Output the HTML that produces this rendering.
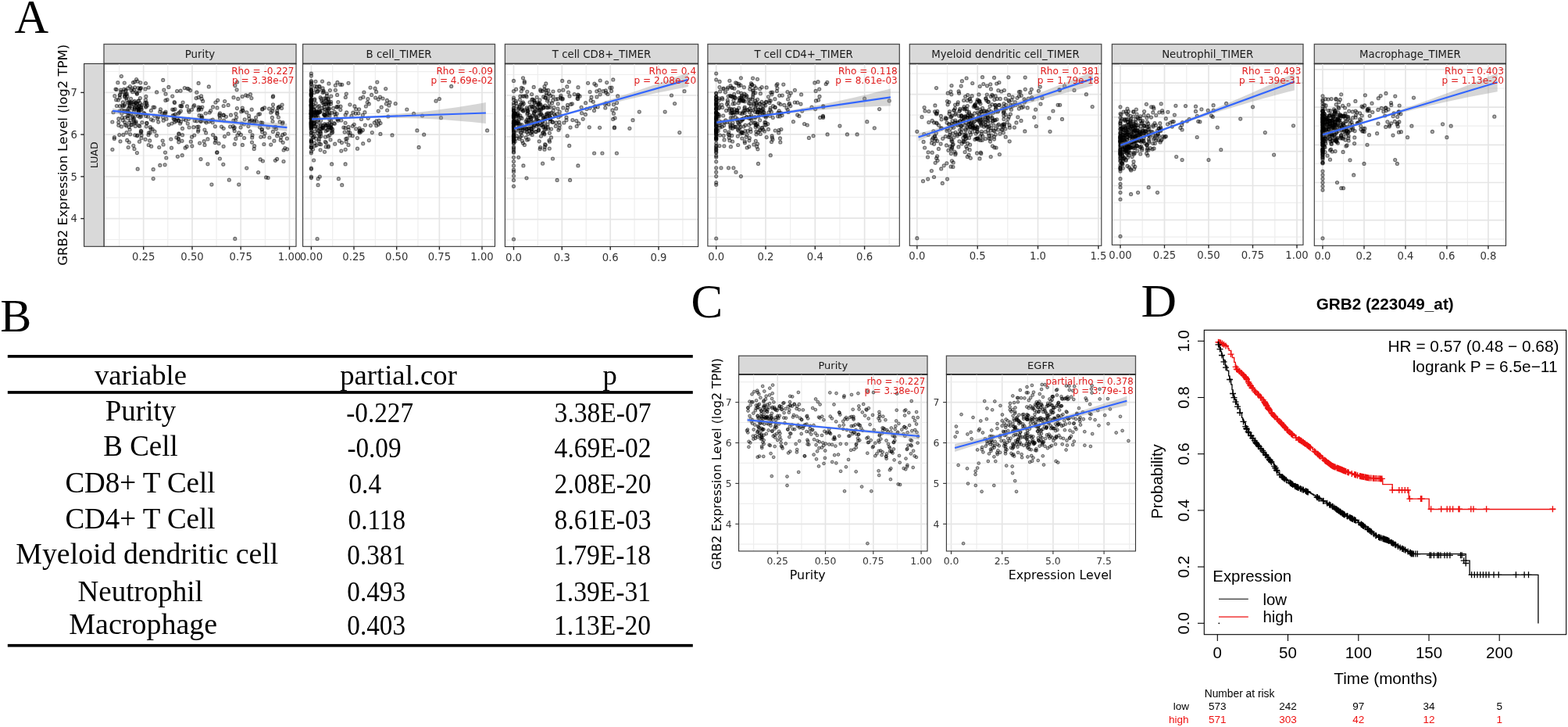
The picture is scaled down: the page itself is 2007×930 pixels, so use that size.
<!DOCTYPE html>
<html><head><meta charset="utf-8"><title>GRB2 figure</title><style>html,body{margin:0;padding:0;background:#fff;overflow:hidden}svg{display:block}</style></head><body>
<svg width="2007" height="930" viewBox="0 0 2007 930">
<rect width="2007" height="930" fill="#fff"/>
<g font-family="Liberation Serif, serif" fill="#000">
<text x="18.6" y="41.6" font-size="60.5">A</text>
<text x="0.3" y="424.4" font-size="60">B</text>
<text x="884.5" y="406.2" font-size="61">C</text>
<text transform="translate(1460.5,404.6) scale(1.06,1)" font-size="59.5">D</text>
</g>
<rect x="133" y="56.5" width="246" height="25.0" fill="#d9d9d9" stroke="#4d4d4d" stroke-width="1.3"/>
<text x="256" y="74" font-size="13.3" text-anchor="middle" fill="#1a1a1a" font-family="DejaVu Sans, sans-serif">Purity</text>
<line x1="133" y1="81.5" x2="379" y2="81.5" stroke="#1a1a1a" stroke-width="1.7"/>
<line x1="152.6" y1="81.5" x2="152.6" y2="315.3" stroke="#eeeeee" stroke-width="1.2"/>
<line x1="214.8" y1="81.5" x2="214.8" y2="315.3" stroke="#eeeeee" stroke-width="1.2"/>
<line x1="277.1" y1="81.5" x2="277.1" y2="315.3" stroke="#eeeeee" stroke-width="1.2"/>
<line x1="339.4" y1="81.5" x2="339.4" y2="315.3" stroke="#eeeeee" stroke-width="1.2"/>
<line x1="133" y1="306.5" x2="379" y2="306.5" stroke="#eeeeee" stroke-width="1.2"/>
<line x1="133" y1="279.6" x2="379" y2="279.6" stroke="#e5e5e5" stroke-width="1.7"/>
<line x1="133" y1="252.8" x2="379" y2="252.8" stroke="#eeeeee" stroke-width="1.2"/>
<line x1="133" y1="225.9" x2="379" y2="225.9" stroke="#e5e5e5" stroke-width="1.7"/>
<line x1="133" y1="199" x2="379" y2="199" stroke="#eeeeee" stroke-width="1.2"/>
<line x1="133" y1="172.1" x2="379" y2="172.1" stroke="#e5e5e5" stroke-width="1.7"/>
<line x1="133" y1="145.2" x2="379" y2="145.2" stroke="#eeeeee" stroke-width="1.2"/>
<line x1="133" y1="118.4" x2="379" y2="118.4" stroke="#e5e5e5" stroke-width="1.7"/>
<line x1="133" y1="91.5" x2="379" y2="91.5" stroke="#eeeeee" stroke-width="1.2"/>
<line x1="183.7" y1="81.5" x2="183.7" y2="315.3" stroke="#e5e5e5" stroke-width="1.7"/>
<line x1="246" y1="81.5" x2="246" y2="315.3" stroke="#e5e5e5" stroke-width="1.7"/>
<line x1="308.2" y1="81.5" x2="308.2" y2="315.3" stroke="#e5e5e5" stroke-width="1.7"/>
<line x1="370.5" y1="81.5" x2="370.5" y2="315.3" stroke="#e5e5e5" stroke-width="1.7"/>
<g fill="#000" fill-opacity=".32" stroke="#000" stroke-opacity=".5" stroke-width="1.1">
<circle cx="164.3" cy="131.2" r="2.05"/>
<circle cx="164.7" cy="148.1" r="2.05"/>
<circle cx="155.9" cy="145.3" r="2.05"/>
<circle cx="181.4" cy="134.4" r="2.05"/>
<circle cx="180.4" cy="137.9" r="2.05"/>
<circle cx="172.4" cy="138.6" r="2.05"/>
<circle cx="146.8" cy="122.7" r="2.05"/>
<circle cx="173.8" cy="132.3" r="2.05"/>
<circle cx="146.4" cy="175.7" r="2.05"/>
<circle cx="156.4" cy="150.5" r="2.05"/>
<circle cx="171.3" cy="143.2" r="2.05"/>
<circle cx="174" cy="155.6" r="2.05"/>
<circle cx="171.4" cy="134.2" r="2.05"/>
<circle cx="159.3" cy="106.1" r="2.05"/>
<circle cx="174.4" cy="118.1" r="2.05"/>
<circle cx="159.8" cy="156.4" r="2.05"/>
<circle cx="163.2" cy="143.7" r="2.05"/>
<circle cx="175.4" cy="137.5" r="2.05"/>
<circle cx="161.9" cy="161" r="2.05"/>
<circle cx="161" cy="116.4" r="2.05"/>
<circle cx="157.4" cy="136" r="2.05"/>
<circle cx="172.8" cy="172.8" r="2.05"/>
<circle cx="168.1" cy="115.3" r="2.05"/>
<circle cx="163.5" cy="143.7" r="2.05"/>
<circle cx="157.3" cy="130.9" r="2.05"/>
<circle cx="166.7" cy="171.8" r="2.05"/>
<circle cx="177.8" cy="129.1" r="2.05"/>
<circle cx="179.3" cy="113.5" r="2.05"/>
<circle cx="172" cy="139.9" r="2.05"/>
<circle cx="151.3" cy="128" r="2.05"/>
<circle cx="159.9" cy="150.5" r="2.05"/>
<circle cx="151.8" cy="160.3" r="2.05"/>
<circle cx="160.9" cy="115" r="2.05"/>
<circle cx="149.4" cy="135.5" r="2.05"/>
<circle cx="185.5" cy="131.7" r="2.05"/>
<circle cx="143.9" cy="191.3" r="2.05"/>
<circle cx="172" cy="157.3" r="2.05"/>
<circle cx="153.6" cy="120.8" r="2.05"/>
<circle cx="181.2" cy="139.9" r="2.05"/>
<circle cx="170.6" cy="133.3" r="2.05"/>
<circle cx="187.4" cy="131" r="2.05"/>
<circle cx="174" cy="131.3" r="2.05"/>
<circle cx="148" cy="114.1" r="2.05"/>
<circle cx="179.4" cy="132.1" r="2.05"/>
<circle cx="159.6" cy="124" r="2.05"/>
<circle cx="145" cy="143.7" r="2.05"/>
<circle cx="180.2" cy="169.8" r="2.05"/>
<circle cx="187.6" cy="132.4" r="2.05"/>
<circle cx="165.6" cy="135.1" r="2.05"/>
<circle cx="175.6" cy="140.2" r="2.05"/>
<circle cx="181.8" cy="156.7" r="2.05"/>
<circle cx="162.3" cy="120.2" r="2.05"/>
<circle cx="167.8" cy="159.9" r="2.05"/>
<circle cx="179.3" cy="113" r="2.05"/>
<circle cx="162" cy="169.6" r="2.05"/>
<circle cx="165.8" cy="144.8" r="2.05"/>
<circle cx="163.8" cy="112.9" r="2.05"/>
<circle cx="154.7" cy="115.1" r="2.05"/>
<circle cx="151.7" cy="156.6" r="2.05"/>
<circle cx="175.4" cy="119.5" r="2.05"/>
<circle cx="178.2" cy="135.8" r="2.05"/>
<circle cx="169.3" cy="139" r="2.05"/>
<circle cx="174.7" cy="146.1" r="2.05"/>
<circle cx="171" cy="130.5" r="2.05"/>
<circle cx="167.5" cy="126.3" r="2.05"/>
<circle cx="174.6" cy="101.5" r="2.05"/>
<circle cx="171.6" cy="151" r="2.05"/>
<circle cx="162.9" cy="141.8" r="2.05"/>
<circle cx="179" cy="149.8" r="2.05"/>
<circle cx="172.3" cy="104.8" r="2.05"/>
<circle cx="153.5" cy="135.7" r="2.05"/>
<circle cx="172.5" cy="137.5" r="2.05"/>
<circle cx="162.1" cy="128.1" r="2.05"/>
<circle cx="171" cy="152.9" r="2.05"/>
<circle cx="197.8" cy="137.3" r="2.05"/>
<circle cx="160.6" cy="143.4" r="2.05"/>
<circle cx="164.7" cy="143" r="2.05"/>
<circle cx="161.4" cy="120.8" r="2.05"/>
<circle cx="153" cy="142" r="2.05"/>
<circle cx="179.4" cy="125.5" r="2.05"/>
<circle cx="186.1" cy="178.3" r="2.05"/>
<circle cx="163.1" cy="148.5" r="2.05"/>
<circle cx="175.3" cy="120.3" r="2.05"/>
<circle cx="181.1" cy="172.7" r="2.05"/>
<circle cx="176" cy="173.1" r="2.05"/>
<circle cx="169.7" cy="117.7" r="2.05"/>
<circle cx="165.7" cy="137.9" r="2.05"/>
<circle cx="177.4" cy="139.9" r="2.05"/>
<circle cx="166.4" cy="110.5" r="2.05"/>
<circle cx="180.6" cy="149" r="2.05"/>
<circle cx="153.2" cy="122" r="2.05"/>
<circle cx="164.2" cy="138.9" r="2.05"/>
<circle cx="176.3" cy="138.1" r="2.05"/>
<circle cx="175.5" cy="173.8" r="2.05"/>
<circle cx="148.7" cy="127.7" r="2.05"/>
<circle cx="155.5" cy="161.9" r="2.05"/>
<circle cx="149.2" cy="114.5" r="2.05"/>
<circle cx="176.8" cy="112.6" r="2.05"/>
<circle cx="155.8" cy="140.9" r="2.05"/>
<circle cx="153.3" cy="125" r="2.05"/>
<circle cx="187.3" cy="161.8" r="2.05"/>
<circle cx="186.9" cy="123.4" r="2.05"/>
<circle cx="165.3" cy="182" r="2.05"/>
<circle cx="185" cy="145.4" r="2.05"/>
<circle cx="160" cy="133.1" r="2.05"/>
<circle cx="172.6" cy="111.8" r="2.05"/>
<circle cx="154.8" cy="117.6" r="2.05"/>
<circle cx="186" cy="113.9" r="2.05"/>
<circle cx="165.3" cy="156.9" r="2.05"/>
<circle cx="180.2" cy="140.7" r="2.05"/>
<circle cx="169.1" cy="113" r="2.05"/>
<circle cx="164.2" cy="188.5" r="2.05"/>
<circle cx="162.7" cy="179.4" r="2.05"/>
<circle cx="177.7" cy="136.3" r="2.05"/>
<circle cx="159.9" cy="141.5" r="2.05"/>
<circle cx="177.9" cy="141.2" r="2.05"/>
<circle cx="184" cy="144.6" r="2.05"/>
<circle cx="180.5" cy="112.6" r="2.05"/>
<circle cx="187.6" cy="157.4" r="2.05"/>
<circle cx="178.5" cy="181.2" r="2.05"/>
<circle cx="154" cy="180.8" r="2.05"/>
<circle cx="180.8" cy="168.2" r="2.05"/>
<circle cx="167.4" cy="145.8" r="2.05"/>
<circle cx="167.2" cy="154" r="2.05"/>
<circle cx="170.4" cy="105.6" r="2.05"/>
<circle cx="168.1" cy="131.1" r="2.05"/>
<circle cx="180" cy="147" r="2.05"/>
<circle cx="151.8" cy="151.9" r="2.05"/>
<circle cx="180.9" cy="176.7" r="2.05"/>
<circle cx="160.1" cy="120.7" r="2.05"/>
<circle cx="177.4" cy="142.6" r="2.05"/>
<circle cx="177.5" cy="139.4" r="2.05"/>
<circle cx="152.8" cy="172.6" r="2.05"/>
<circle cx="159.6" cy="122.4" r="2.05"/>
<circle cx="160.5" cy="159.7" r="2.05"/>
<circle cx="157.9" cy="172.4" r="2.05"/>
<circle cx="166.1" cy="165.9" r="2.05"/>
<circle cx="172" cy="190.5" r="2.05"/>
<circle cx="171.6" cy="155.4" r="2.05"/>
<circle cx="176.5" cy="148.3" r="2.05"/>
<circle cx="156.6" cy="135" r="2.05"/>
<circle cx="161.8" cy="125.5" r="2.05"/>
<circle cx="176.8" cy="129.1" r="2.05"/>
<circle cx="171.6" cy="115" r="2.05"/>
<circle cx="175.7" cy="133.4" r="2.05"/>
<circle cx="178.7" cy="116.1" r="2.05"/>
<circle cx="163.8" cy="151.2" r="2.05"/>
<circle cx="191.7" cy="179.9" r="2.05"/>
<circle cx="173.3" cy="161.4" r="2.05"/>
<circle cx="176.1" cy="104.1" r="2.05"/>
<circle cx="166" cy="130.3" r="2.05"/>
<circle cx="178.8" cy="161.4" r="2.05"/>
<circle cx="166.4" cy="135.8" r="2.05"/>
<circle cx="177.8" cy="143.5" r="2.05"/>
<circle cx="165.1" cy="162.5" r="2.05"/>
<circle cx="163" cy="123.3" r="2.05"/>
<circle cx="168.8" cy="159.4" r="2.05"/>
<circle cx="157" cy="117.7" r="2.05"/>
<circle cx="175.4" cy="195.6" r="2.05"/>
<circle cx="175.3" cy="132.8" r="2.05"/>
<circle cx="188.5" cy="135" r="2.05"/>
<circle cx="166.7" cy="131.2" r="2.05"/>
<circle cx="180.4" cy="136.4" r="2.05"/>
<circle cx="158.8" cy="114.1" r="2.05"/>
<circle cx="190" cy="172.5" r="2.05"/>
<circle cx="159.2" cy="135.3" r="2.05"/>
<circle cx="169.8" cy="150.3" r="2.05"/>
<circle cx="155.4" cy="97.6" r="2.05"/>
<circle cx="180.4" cy="167.4" r="2.05"/>
<circle cx="150.8" cy="105.7" r="2.05"/>
<circle cx="179.8" cy="105.8" r="2.05"/>
<circle cx="177.6" cy="160.6" r="2.05"/>
<circle cx="170.8" cy="186.3" r="2.05"/>
<circle cx="158.2" cy="142.3" r="2.05"/>
<circle cx="174" cy="157.3" r="2.05"/>
<circle cx="166" cy="132.4" r="2.05"/>
<circle cx="172.2" cy="129.3" r="2.05"/>
<circle cx="170.1" cy="148.8" r="2.05"/>
<circle cx="177.3" cy="141.8" r="2.05"/>
<circle cx="157.2" cy="153.8" r="2.05"/>
<circle cx="249.3" cy="154.4" r="2.05"/>
<circle cx="189.5" cy="149.2" r="2.05"/>
<circle cx="319.5" cy="156.2" r="2.05"/>
<circle cx="286.4" cy="147.4" r="2.05"/>
<circle cx="356.1" cy="138.1" r="2.05"/>
<circle cx="205.5" cy="139.8" r="2.05"/>
<circle cx="276.2" cy="180" r="2.05"/>
<circle cx="337.9" cy="184.5" r="2.05"/>
<circle cx="311.2" cy="141.8" r="2.05"/>
<circle cx="364.8" cy="189.5" r="2.05"/>
<circle cx="314.7" cy="121.8" r="2.05"/>
<circle cx="301.8" cy="177.4" r="2.05"/>
<circle cx="196.1" cy="137.2" r="2.05"/>
<circle cx="209.8" cy="115.1" r="2.05"/>
<circle cx="232.7" cy="135.8" r="2.05"/>
<circle cx="215.9" cy="111.4" r="2.05"/>
<circle cx="344.5" cy="139.1" r="2.05"/>
<circle cx="308.1" cy="163" r="2.05"/>
<circle cx="239.5" cy="135.9" r="2.05"/>
<circle cx="269.7" cy="141.7" r="2.05"/>
<circle cx="234.1" cy="131.1" r="2.05"/>
<circle cx="361.1" cy="134" r="2.05"/>
<circle cx="230.6" cy="158" r="2.05"/>
<circle cx="361.8" cy="172.4" r="2.05"/>
<circle cx="186.4" cy="127.8" r="2.05"/>
<circle cx="255.6" cy="183.1" r="2.05"/>
<circle cx="222.7" cy="147.5" r="2.05"/>
<circle cx="278" cy="137.9" r="2.05"/>
<circle cx="202.5" cy="149.7" r="2.05"/>
<circle cx="258.8" cy="150.2" r="2.05"/>
<circle cx="241.5" cy="152.3" r="2.05"/>
<circle cx="228.5" cy="178.1" r="2.05"/>
<circle cx="322.7" cy="175.9" r="2.05"/>
<circle cx="305.7" cy="169.8" r="2.05"/>
<circle cx="257" cy="203.6" r="2.05"/>
<circle cx="245.5" cy="140.3" r="2.05"/>
<circle cx="317.9" cy="161.6" r="2.05"/>
<circle cx="303.1" cy="114.8" r="2.05"/>
<circle cx="348.4" cy="150.4" r="2.05"/>
<circle cx="300.3" cy="163.2" r="2.05"/>
<circle cx="211.5" cy="195.1" r="2.05"/>
<circle cx="281.4" cy="203" r="2.05"/>
<circle cx="332.5" cy="162.8" r="2.05"/>
<circle cx="336.4" cy="206" r="2.05"/>
<circle cx="310.4" cy="185.4" r="2.05"/>
<circle cx="312.3" cy="159" r="2.05"/>
<circle cx="210.4" cy="145" r="2.05"/>
<circle cx="251.8" cy="118.2" r="2.05"/>
<circle cx="287.7" cy="129.5" r="2.05"/>
<circle cx="300.3" cy="184.4" r="2.05"/>
<circle cx="275.2" cy="182.6" r="2.05"/>
<circle cx="186.8" cy="137.1" r="2.05"/>
<circle cx="277.6" cy="195.2" r="2.05"/>
<circle cx="283.5" cy="162.1" r="2.05"/>
<circle cx="320.2" cy="168" r="2.05"/>
<circle cx="232" cy="135.9" r="2.05"/>
<circle cx="318.8" cy="151.8" r="2.05"/>
<circle cx="223.5" cy="156.3" r="2.05"/>
<circle cx="276" cy="177.1" r="2.05"/>
<circle cx="310.5" cy="141.1" r="2.05"/>
<circle cx="325.6" cy="186.7" r="2.05"/>
<circle cx="200.3" cy="173.4" r="2.05"/>
<circle cx="213" cy="152.2" r="2.05"/>
<circle cx="241.5" cy="113.8" r="2.05"/>
<circle cx="289.4" cy="149.3" r="2.05"/>
<circle cx="235.1" cy="152.5" r="2.05"/>
<circle cx="308.4" cy="172.4" r="2.05"/>
<circle cx="239.1" cy="187.4" r="2.05"/>
<circle cx="280.1" cy="183.5" r="2.05"/>
<circle cx="207.7" cy="144.8" r="2.05"/>
<circle cx="348.7" cy="142" r="2.05"/>
<circle cx="356.4" cy="137" r="2.05"/>
<circle cx="335.3" cy="158.8" r="2.05"/>
<circle cx="362.2" cy="182.3" r="2.05"/>
<circle cx="224.3" cy="146.2" r="2.05"/>
<circle cx="358.1" cy="155.9" r="2.05"/>
<circle cx="212" cy="120.2" r="2.05"/>
<circle cx="281.5" cy="144.8" r="2.05"/>
<circle cx="335.3" cy="165.6" r="2.05"/>
<circle cx="278.7" cy="128.3" r="2.05"/>
<circle cx="228.3" cy="177.1" r="2.05"/>
<circle cx="349.4" cy="168.4" r="2.05"/>
<circle cx="186.8" cy="148.5" r="2.05"/>
<circle cx="275.6" cy="176.2" r="2.05"/>
<circle cx="211.8" cy="144.9" r="2.05"/>
<circle cx="248.7" cy="173" r="2.05"/>
<circle cx="186.5" cy="106.5" r="2.05"/>
<circle cx="322.7" cy="154.2" r="2.05"/>
<circle cx="354.6" cy="173.8" r="2.05"/>
<circle cx="315.8" cy="143.8" r="2.05"/>
<circle cx="253.9" cy="166.3" r="2.05"/>
<circle cx="257.6" cy="122.8" r="2.05"/>
<circle cx="251.8" cy="154.8" r="2.05"/>
<circle cx="264" cy="156.8" r="2.05"/>
<circle cx="204.7" cy="143" r="2.05"/>
<circle cx="338" cy="174.6" r="2.05"/>
<circle cx="231.5" cy="155.7" r="2.05"/>
<circle cx="220.7" cy="123.1" r="2.05"/>
<circle cx="254.1" cy="106.4" r="2.05"/>
<circle cx="333.8" cy="175.3" r="2.05"/>
<circle cx="300.9" cy="109.6" r="2.05"/>
<circle cx="286.1" cy="187.3" r="2.05"/>
<circle cx="317" cy="122.8" r="2.05"/>
<circle cx="268.2" cy="144" r="2.05"/>
<circle cx="323" cy="172.9" r="2.05"/>
<circle cx="195.1" cy="165.3" r="2.05"/>
<circle cx="354.7" cy="144.4" r="2.05"/>
<circle cx="248.7" cy="134.7" r="2.05"/>
<circle cx="240.3" cy="158.1" r="2.05"/>
<circle cx="233.5" cy="164.4" r="2.05"/>
<circle cx="287.5" cy="174.6" r="2.05"/>
<circle cx="257.9" cy="148" r="2.05"/>
<circle cx="224" cy="139.7" r="2.05"/>
<circle cx="350.9" cy="180.2" r="2.05"/>
<circle cx="351" cy="162.8" r="2.05"/>
<circle cx="367.4" cy="177.2" r="2.05"/>
<circle cx="221.2" cy="147.8" r="2.05"/>
<circle cx="202.7" cy="156.1" r="2.05"/>
<circle cx="229.7" cy="143.8" r="2.05"/>
<circle cx="233.2" cy="198.7" r="2.05"/>
<circle cx="322.5" cy="182.1" r="2.05"/>
<circle cx="261.2" cy="180.7" r="2.05"/>
<circle cx="254.7" cy="139.6" r="2.05"/>
<circle cx="247.7" cy="136.2" r="2.05"/>
<circle cx="362.1" cy="156.7" r="2.05"/>
<circle cx="209.1" cy="185" r="2.05"/>
<circle cx="343.1" cy="163.2" r="2.05"/>
<circle cx="225.5" cy="154.7" r="2.05"/>
<circle cx="258.9" cy="137.1" r="2.05"/>
<circle cx="267.3" cy="110.9" r="2.05"/>
<circle cx="344.9" cy="176" r="2.05"/>
<circle cx="190.2" cy="112" r="2.05"/>
<circle cx="349" cy="155.3" r="2.05"/>
<circle cx="272.2" cy="156.7" r="2.05"/>
<circle cx="257.4" cy="155.3" r="2.05"/>
<circle cx="354.7" cy="141.7" r="2.05"/>
<circle cx="363" cy="206.5" r="2.05"/>
<circle cx="231.4" cy="142" r="2.05"/>
<circle cx="281.2" cy="148.2" r="2.05"/>
<circle cx="310.2" cy="123.5" r="2.05"/>
<circle cx="303.9" cy="173" r="2.05"/>
<circle cx="325.2" cy="190.4" r="2.05"/>
<circle cx="193.4" cy="141.4" r="2.05"/>
<circle cx="328.4" cy="155.2" r="2.05"/>
<circle cx="303.6" cy="105" r="2.05"/>
<circle cx="241.4" cy="140.9" r="2.05"/>
<circle cx="301.9" cy="145.6" r="2.05"/>
<circle cx="313.2" cy="152.8" r="2.05"/>
<circle cx="281.5" cy="151.2" r="2.05"/>
<circle cx="292.2" cy="171.2" r="2.05"/>
<circle cx="295.5" cy="147.2" r="2.05"/>
<circle cx="188.1" cy="157.6" r="2.05"/>
<circle cx="360.5" cy="138.5" r="2.05"/>
<circle cx="303.4" cy="138.6" r="2.05"/>
<circle cx="228.9" cy="170.9" r="2.05"/>
<circle cx="231.1" cy="116.2" r="2.05"/>
<circle cx="242.1" cy="163" r="2.05"/>
<circle cx="190.2" cy="185.5" r="2.05"/>
<circle cx="262.6" cy="155.1" r="2.05"/>
<circle cx="233" cy="180.3" r="2.05"/>
<circle cx="227.4" cy="200.3" r="2.05"/>
<circle cx="192.4" cy="162.7" r="2.05"/>
<circle cx="310.3" cy="138.1" r="2.05"/>
<circle cx="222.2" cy="140.5" r="2.05"/>
<circle cx="278" cy="194.8" r="2.05"/>
<circle cx="223.5" cy="131.6" r="2.05"/>
<circle cx="335.3" cy="165.7" r="2.05"/>
<circle cx="228.2" cy="145.2" r="2.05"/>
<circle cx="239.8" cy="113.3" r="2.05"/>
<circle cx="359.3" cy="179.4" r="2.05"/>
<circle cx="226.8" cy="152" r="2.05"/>
<circle cx="262" cy="185.4" r="2.05"/>
<circle cx="212.8" cy="202" r="2.05"/>
<circle cx="257.7" cy="140" r="2.05"/>
<circle cx="212" cy="143.1" r="2.05"/>
<circle cx="257.7" cy="152.4" r="2.05"/>
<circle cx="349.5" cy="133.8" r="2.05"/>
<circle cx="367.6" cy="190.8" r="2.05"/>
<circle cx="355.6" cy="170.9" r="2.05"/>
<circle cx="356.4" cy="150" r="2.05"/>
<circle cx="321.9" cy="125.6" r="2.05"/>
<circle cx="255" cy="147.7" r="2.05"/>
<circle cx="254.2" cy="162" r="2.05"/>
<circle cx="186.7" cy="136.1" r="2.05"/>
<circle cx="237.1" cy="189.2" r="2.05"/>
<circle cx="208.7" cy="102.4" r="2.05"/>
<circle cx="361.5" cy="158" r="2.05"/>
<circle cx="335.6" cy="139.9" r="2.05"/>
<circle cx="335.6" cy="168.8" r="2.05"/>
<circle cx="272.3" cy="153.2" r="2.05"/>
<circle cx="254" cy="140.9" r="2.05"/>
<circle cx="252.4" cy="162.3" r="2.05"/>
<circle cx="349.3" cy="138.6" r="2.05"/>
<circle cx="333.8" cy="156.9" r="2.05"/>
<circle cx="325.6" cy="154.7" r="2.05"/>
<circle cx="197.6" cy="148.3" r="2.05"/>
<circle cx="353.5" cy="165.1" r="2.05"/>
<circle cx="349.6" cy="122.9" r="2.05"/>
<circle cx="247.8" cy="162.7" r="2.05"/>
<circle cx="298.4" cy="161.5" r="2.05"/>
<circle cx="243.7" cy="115.6" r="2.05"/>
<circle cx="236.3" cy="112.6" r="2.05"/>
<circle cx="352.8" cy="162.3" r="2.05"/>
<circle cx="301.5" cy="153.8" r="2.05"/>
<circle cx="228.7" cy="154.4" r="2.05"/>
<circle cx="272.6" cy="172.5" r="2.05"/>
<circle cx="256.5" cy="155.1" r="2.05"/>
<circle cx="275.9" cy="131" r="2.05"/>
<circle cx="354.9" cy="145.7" r="2.05"/>
<circle cx="320.5" cy="120.7" r="2.05"/>
<circle cx="335.8" cy="157.1" r="2.05"/>
<circle cx="245.8" cy="186.8" r="2.05"/>
<circle cx="244.3" cy="181.2" r="2.05"/>
<circle cx="200.6" cy="117.9" r="2.05"/>
<circle cx="222.1" cy="151.7" r="2.05"/>
<circle cx="198" cy="168.2" r="2.05"/>
<circle cx="192.3" cy="169.8" r="2.05"/>
<circle cx="364.4" cy="171.3" r="2.05"/>
<circle cx="346.8" cy="143.9" r="2.05"/>
<circle cx="201.5" cy="151.7" r="2.05"/>
<circle cx="203.7" cy="188.5" r="2.05"/>
<circle cx="267.5" cy="155.6" r="2.05"/>
<circle cx="228.8" cy="181.8" r="2.05"/>
<circle cx="308.8" cy="142.7" r="2.05"/>
<circle cx="322.2" cy="140.2" r="2.05"/>
<circle cx="208.2" cy="180.1" r="2.05"/>
<circle cx="339.1" cy="170.6" r="2.05"/>
<circle cx="254" cy="124.6" r="2.05"/>
<circle cx="320.4" cy="154.8" r="2.05"/>
<circle cx="230.8" cy="135.4" r="2.05"/>
<circle cx="214.1" cy="127.6" r="2.05"/>
<circle cx="245.5" cy="175.2" r="2.05"/>
<circle cx="258.2" cy="126.4" r="2.05"/>
<circle cx="228.3" cy="153.9" r="2.05"/>
<circle cx="333.2" cy="203.9" r="2.05"/>
<circle cx="204.8" cy="211.4" r="2.05"/>
<circle cx="272.5" cy="136.9" r="2.05"/>
<circle cx="352.4" cy="205.3" r="2.05"/>
<circle cx="193.5" cy="152.8" r="2.05"/>
<circle cx="220.7" cy="140.1" r="2.05"/>
<circle cx="363.1" cy="192" r="2.05"/>
<circle cx="253.9" cy="137.1" r="2.05"/>
<circle cx="233.5" cy="172.7" r="2.05"/>
<circle cx="327.6" cy="150.3" r="2.05"/>
<circle cx="294.6" cy="162.1" r="2.05"/>
<circle cx="298.9" cy="154" r="2.05"/>
<circle cx="211.9" cy="128.4" r="2.05"/>
<circle cx="223.3" cy="153.1" r="2.05"/>
<circle cx="304.7" cy="126.4" r="2.05"/>
<circle cx="223.2" cy="130.6" r="2.05"/>
<circle cx="309.5" cy="158" r="2.05"/>
<circle cx="219.9" cy="158" r="2.05"/>
<circle cx="330.8" cy="146.3" r="2.05"/>
<circle cx="285.8" cy="147.2" r="2.05"/>
<circle cx="258.1" cy="150.8" r="2.05"/>
<circle cx="286.2" cy="164.3" r="2.05"/>
<circle cx="216" cy="159.6" r="2.05"/>
<circle cx="312.6" cy="176.5" r="2.05"/>
<circle cx="242.1" cy="143.1" r="2.05"/>
<circle cx="359.5" cy="175.8" r="2.05"/>
<circle cx="251.1" cy="125.6" r="2.05"/>
<circle cx="261.9" cy="166" r="2.05"/>
<circle cx="318.6" cy="148.2" r="2.05"/>
<circle cx="223.2" cy="150.2" r="2.05"/>
<circle cx="263.2" cy="145" r="2.05"/>
<circle cx="346.7" cy="185.1" r="2.05"/>
<circle cx="270" cy="154" r="2.05"/>
<circle cx="286.5" cy="154" r="2.05"/>
<circle cx="302.7" cy="150.1" r="2.05"/>
<circle cx="299.3" cy="164.3" r="2.05"/>
<circle cx="253.6" cy="168.3" r="2.05"/>
<circle cx="237.7" cy="153.7" r="2.05"/>
<circle cx="280.9" cy="146.7" r="2.05"/>
<circle cx="275.4" cy="161.8" r="2.05"/>
<circle cx="332.5" cy="145.8" r="2.05"/>
<circle cx="209.2" cy="154.2" r="2.05"/>
<circle cx="357.7" cy="136.3" r="2.05"/>
<circle cx="195.9" cy="154" r="2.05"/>
<circle cx="354.6" cy="203.4" r="2.05"/>
<circle cx="299" cy="124.7" r="2.05"/>
<circle cx="336.1" cy="139.2" r="2.05"/>
<circle cx="226.6" cy="116.5" r="2.05"/>
<circle cx="259.7" cy="129.4" r="2.05"/>
<circle cx="219.5" cy="189.2" r="2.05"/>
<circle cx="225.9" cy="175.9" r="2.05"/>
<circle cx="255.9" cy="137.7" r="2.05"/>
<circle cx="208.6" cy="150.1" r="2.05"/>
<circle cx="349.3" cy="124.1" r="2.05"/>
<circle cx="193.7" cy="187.2" r="2.05"/>
<circle cx="193.1" cy="165" r="2.05"/>
<circle cx="338.6" cy="137.9" r="2.05"/>
<circle cx="286.2" cy="135.5" r="2.05"/>
<circle cx="300.2" cy="167.5" r="2.05"/>
<circle cx="292.1" cy="134.4" r="2.05"/>
<circle cx="263.6" cy="169.9" r="2.05"/>
<circle cx="265.9" cy="177.9" r="2.05"/>
<circle cx="190.4" cy="169.9" r="2.05"/>
<circle cx="229" cy="171.7" r="2.05"/>
<circle cx="325" cy="155.9" r="2.05"/>
<circle cx="218.8" cy="178" r="2.05"/>
<circle cx="176.2" cy="216.2" r="2.05"/>
<circle cx="196.2" cy="216.7" r="2.05"/>
<circle cx="196.2" cy="228.6" r="2.05"/>
<circle cx="211.1" cy="210.8" r="2.05"/>
<circle cx="270.9" cy="236.1" r="2.05"/>
<circle cx="305.7" cy="236.1" r="2.05"/>
<circle cx="293.3" cy="230.2" r="2.05"/>
<circle cx="330.6" cy="220.5" r="2.05"/>
<circle cx="340.6" cy="226.9" r="2.05"/>
<circle cx="343.1" cy="227.5" r="2.05"/>
<circle cx="300.8" cy="305.4" r="2.05"/>
<circle cx="265.9" cy="209.8" r="2.05"/>
<circle cx="285.8" cy="210.3" r="2.05"/>
<circle cx="315.7" cy="215.1" r="2.05"/>
<circle cx="146.3" cy="177.5" r="2.05"/>
<circle cx="143.8" cy="156" r="2.05"/>
</g>
<path d="M144.2 138.4 L153.5 139.9 L162.8 141.2 L172.1 142.5 L181.4 143.6 L190.7 144.7 L200 145.6 L209.3 146.5 L218.6 147.3 L227.9 148.2 L237.2 149 L246.5 149.8 L255.8 150.5 L265.1 151.3 L274.4 152 L283.7 152.7 L293 153.4 L302.3 154.1 L311.6 154.7 L320.9 155.3 L330.2 155.9 L339.5 156.5 L348.8 157.1 L358.1 157.6 L367.4 158.1 L367.4 168.1 L358.1 166.8 L348.8 165.6 L339.5 164.4 L330.2 163.2 L320.9 162 L311.6 160.9 L302.3 159.8 L293 158.7 L283.7 157.6 L274.4 156.5 L265.1 155.5 L255.8 154.5 L246.5 153.5 L237.2 152.5 L227.9 151.5 L218.6 150.6 L209.3 149.7 L200 148.8 L190.7 147.9 L181.4 147.2 L172.1 146.6 L162.8 146.1 L153.5 145.7 L144.2 145.4Z" fill="#999" fill-opacity=".4"/>
<line x1="144.2" y1="141.9" x2="367.4" y2="163.1" stroke="#3366ff" stroke-width="2.2"/>
<rect x="133" y="81.5" width="246" height="233.8" fill="none" stroke="#333" stroke-width="1.1"/>
<text x="376.5" y="94.9" font-size="12.1" text-anchor="end" fill="#e01c1c" font-family="DejaVu Sans, sans-serif">Rho = -0.227</text>
<text x="376.5" y="106.7" font-size="12.1" text-anchor="end" fill="#e01c1c" font-family="DejaVu Sans, sans-serif">p = 3.38e-07</text>
<line x1="183.7" y1="315.3" x2="183.7" y2="319.5" stroke="#222" stroke-width="1.4"/>
<text x="183.7" y="333.3" font-size="13.2" text-anchor="middle" fill="#333" font-family="DejaVu Sans, sans-serif">0.25</text>
<line x1="246" y1="315.3" x2="246" y2="319.5" stroke="#222" stroke-width="1.4"/>
<text x="246" y="333.3" font-size="13.2" text-anchor="middle" fill="#333" font-family="DejaVu Sans, sans-serif">0.50</text>
<line x1="308.2" y1="315.3" x2="308.2" y2="319.5" stroke="#222" stroke-width="1.4"/>
<text x="308.2" y="333.3" font-size="13.2" text-anchor="middle" fill="#333" font-family="DejaVu Sans, sans-serif">0.75</text>
<line x1="370.5" y1="315.3" x2="370.5" y2="319.5" stroke="#222" stroke-width="1.4"/>
<text x="370.5" y="333.3" font-size="13.2" text-anchor="middle" fill="#333" font-family="DejaVu Sans, sans-serif">1.00</text>
<rect x="387.6" y="56.5" width="245.9" height="25.0" fill="#d9d9d9" stroke="#4d4d4d" stroke-width="1.3"/>
<text x="510.6" y="74" font-size="13.3" text-anchor="middle" fill="#1a1a1a" font-family="DejaVu Sans, sans-serif">B cell_TIMER</text>
<line x1="387.6" y1="81.5" x2="633.5" y2="81.5" stroke="#1a1a1a" stroke-width="1.7"/>
<line x1="425.7" y1="81.5" x2="425.7" y2="315.3" stroke="#eeeeee" stroke-width="1.2"/>
<line x1="480.4" y1="81.5" x2="480.4" y2="315.3" stroke="#eeeeee" stroke-width="1.2"/>
<line x1="535" y1="81.5" x2="535" y2="315.3" stroke="#eeeeee" stroke-width="1.2"/>
<line x1="589.7" y1="81.5" x2="589.7" y2="315.3" stroke="#eeeeee" stroke-width="1.2"/>
<line x1="387.6" y1="306.6" x2="633.5" y2="306.6" stroke="#eeeeee" stroke-width="1.2"/>
<line x1="387.6" y1="279.7" x2="633.5" y2="279.7" stroke="#e5e5e5" stroke-width="1.7"/>
<line x1="387.6" y1="252.9" x2="633.5" y2="252.9" stroke="#eeeeee" stroke-width="1.2"/>
<line x1="387.6" y1="226" x2="633.5" y2="226" stroke="#e5e5e5" stroke-width="1.7"/>
<line x1="387.6" y1="199.1" x2="633.5" y2="199.1" stroke="#eeeeee" stroke-width="1.2"/>
<line x1="387.6" y1="172.2" x2="633.5" y2="172.2" stroke="#e5e5e5" stroke-width="1.7"/>
<line x1="387.6" y1="145.4" x2="633.5" y2="145.4" stroke="#eeeeee" stroke-width="1.2"/>
<line x1="387.6" y1="118.5" x2="633.5" y2="118.5" stroke="#e5e5e5" stroke-width="1.7"/>
<line x1="387.6" y1="91.6" x2="633.5" y2="91.6" stroke="#eeeeee" stroke-width="1.2"/>
<line x1="398.4" y1="81.5" x2="398.4" y2="315.3" stroke="#e5e5e5" stroke-width="1.7"/>
<line x1="453" y1="81.5" x2="453" y2="315.3" stroke="#e5e5e5" stroke-width="1.7"/>
<line x1="507.7" y1="81.5" x2="507.7" y2="315.3" stroke="#e5e5e5" stroke-width="1.7"/>
<line x1="562.4" y1="81.5" x2="562.4" y2="315.3" stroke="#e5e5e5" stroke-width="1.7"/>
<line x1="617" y1="81.5" x2="617" y2="315.3" stroke="#e5e5e5" stroke-width="1.7"/>
<g fill="#000" fill-opacity=".32" stroke="#000" stroke-opacity=".5" stroke-width="1.1">
<circle cx="398.4" cy="154.4" r="2.05"/>
<circle cx="398.4" cy="143.8" r="2.05"/>
<circle cx="398.4" cy="131.1" r="2.05"/>
<circle cx="398.4" cy="130.5" r="2.05"/>
<circle cx="398.4" cy="127.8" r="2.05"/>
<circle cx="398.4" cy="134" r="2.05"/>
<circle cx="398.4" cy="150.9" r="2.05"/>
<circle cx="398.4" cy="145.7" r="2.05"/>
<circle cx="398.4" cy="150.6" r="2.05"/>
<circle cx="398.4" cy="151.4" r="2.05"/>
<circle cx="398.4" cy="148.8" r="2.05"/>
<circle cx="398.4" cy="178.7" r="2.05"/>
<circle cx="398.4" cy="151.8" r="2.05"/>
<circle cx="398.4" cy="145.8" r="2.05"/>
<circle cx="398.4" cy="164.2" r="2.05"/>
<circle cx="398.4" cy="145.8" r="2.05"/>
<circle cx="398.4" cy="135.4" r="2.05"/>
<circle cx="398.4" cy="148.5" r="2.05"/>
<circle cx="398.4" cy="105.2" r="2.05"/>
<circle cx="398.4" cy="195.8" r="2.05"/>
<circle cx="398.4" cy="149.3" r="2.05"/>
<circle cx="398.4" cy="180.7" r="2.05"/>
<circle cx="398.4" cy="126.4" r="2.05"/>
<circle cx="398.4" cy="94" r="2.05"/>
<circle cx="398.4" cy="193.8" r="2.05"/>
<circle cx="398.4" cy="142.9" r="2.05"/>
<circle cx="398.4" cy="135.3" r="2.05"/>
<circle cx="398.4" cy="151.2" r="2.05"/>
<circle cx="398.4" cy="134.7" r="2.05"/>
<circle cx="398.4" cy="188.8" r="2.05"/>
<circle cx="398.4" cy="128.9" r="2.05"/>
<circle cx="398.4" cy="138.2" r="2.05"/>
<circle cx="398.4" cy="144.9" r="2.05"/>
<circle cx="398.4" cy="156.7" r="2.05"/>
<circle cx="398.4" cy="133" r="2.05"/>
<circle cx="398.4" cy="154.7" r="2.05"/>
<circle cx="398.4" cy="141" r="2.05"/>
<circle cx="398.4" cy="155.2" r="2.05"/>
<circle cx="398.4" cy="188.8" r="2.05"/>
<circle cx="398.4" cy="146" r="2.05"/>
<circle cx="398.4" cy="141.4" r="2.05"/>
<circle cx="398.4" cy="130.8" r="2.05"/>
<circle cx="398.4" cy="162.3" r="2.05"/>
<circle cx="398.4" cy="146" r="2.05"/>
<circle cx="398.4" cy="133.4" r="2.05"/>
<circle cx="398.4" cy="142.5" r="2.05"/>
<circle cx="398.4" cy="121.3" r="2.05"/>
<circle cx="398.4" cy="106.8" r="2.05"/>
<circle cx="398.4" cy="162.9" r="2.05"/>
<circle cx="398.4" cy="182.5" r="2.05"/>
<circle cx="398.4" cy="128.8" r="2.05"/>
<circle cx="398.4" cy="115.8" r="2.05"/>
<circle cx="398.4" cy="127.5" r="2.05"/>
<circle cx="398.4" cy="129.6" r="2.05"/>
<circle cx="398.4" cy="157.3" r="2.05"/>
<circle cx="398.4" cy="159.2" r="2.05"/>
<circle cx="398.4" cy="128.2" r="2.05"/>
<circle cx="398.4" cy="163" r="2.05"/>
<circle cx="398.4" cy="180.4" r="2.05"/>
<circle cx="398.4" cy="164.7" r="2.05"/>
<circle cx="398.4" cy="97.1" r="2.05"/>
<circle cx="398.4" cy="108.1" r="2.05"/>
<circle cx="398.4" cy="158.6" r="2.05"/>
<circle cx="398.4" cy="159.5" r="2.05"/>
<circle cx="398.4" cy="140.9" r="2.05"/>
<circle cx="398.4" cy="159.9" r="2.05"/>
<circle cx="398.4" cy="120" r="2.05"/>
<circle cx="398.4" cy="146.9" r="2.05"/>
<circle cx="398.4" cy="166.4" r="2.05"/>
<circle cx="398.4" cy="120" r="2.05"/>
<circle cx="398.4" cy="156.6" r="2.05"/>
<circle cx="398.4" cy="141.1" r="2.05"/>
<circle cx="398.4" cy="145.6" r="2.05"/>
<circle cx="398.4" cy="151.4" r="2.05"/>
<circle cx="398.4" cy="139.1" r="2.05"/>
<circle cx="398.4" cy="158.7" r="2.05"/>
<circle cx="398.4" cy="181" r="2.05"/>
<circle cx="398.4" cy="188.1" r="2.05"/>
<circle cx="398.4" cy="169.9" r="2.05"/>
<circle cx="398.4" cy="160" r="2.05"/>
<circle cx="398.4" cy="145.8" r="2.05"/>
<circle cx="398.4" cy="144.3" r="2.05"/>
<circle cx="398.4" cy="134.6" r="2.05"/>
<circle cx="398.4" cy="143" r="2.05"/>
<circle cx="398.4" cy="160.7" r="2.05"/>
<circle cx="398.4" cy="159.1" r="2.05"/>
<circle cx="398.4" cy="186.3" r="2.05"/>
<circle cx="398.4" cy="148.6" r="2.05"/>
<circle cx="398.4" cy="136" r="2.05"/>
<circle cx="398.4" cy="135.1" r="2.05"/>
<circle cx="398.4" cy="147.7" r="2.05"/>
<circle cx="398.4" cy="148.7" r="2.05"/>
<circle cx="398.4" cy="127.2" r="2.05"/>
<circle cx="398.4" cy="145.1" r="2.05"/>
<circle cx="398.4" cy="131.1" r="2.05"/>
<circle cx="398.4" cy="134.1" r="2.05"/>
<circle cx="398.4" cy="141.2" r="2.05"/>
<circle cx="398.4" cy="120.1" r="2.05"/>
<circle cx="398.4" cy="156.4" r="2.05"/>
<circle cx="398.4" cy="152.3" r="2.05"/>
<circle cx="398.4" cy="161" r="2.05"/>
<circle cx="398.4" cy="160.8" r="2.05"/>
<circle cx="398.4" cy="115.2" r="2.05"/>
<circle cx="398.4" cy="111.3" r="2.05"/>
<circle cx="398.4" cy="144.9" r="2.05"/>
<circle cx="398.4" cy="134.4" r="2.05"/>
<circle cx="398.4" cy="122.6" r="2.05"/>
<circle cx="398.4" cy="129.7" r="2.05"/>
<circle cx="398.4" cy="122" r="2.05"/>
<circle cx="398.4" cy="169.8" r="2.05"/>
<circle cx="398.4" cy="157.7" r="2.05"/>
<circle cx="398.4" cy="136.6" r="2.05"/>
<circle cx="398.4" cy="117.6" r="2.05"/>
<circle cx="398.4" cy="143.3" r="2.05"/>
<circle cx="398.4" cy="162" r="2.05"/>
<circle cx="398.4" cy="152.2" r="2.05"/>
<circle cx="398.4" cy="158.1" r="2.05"/>
<circle cx="398.4" cy="162" r="2.05"/>
<circle cx="398.4" cy="116.3" r="2.05"/>
<circle cx="398.4" cy="157.5" r="2.05"/>
<circle cx="398.4" cy="145" r="2.05"/>
<circle cx="398.4" cy="103.5" r="2.05"/>
<circle cx="398.4" cy="122.4" r="2.05"/>
<circle cx="398.4" cy="138.8" r="2.05"/>
<circle cx="398.4" cy="157.2" r="2.05"/>
<circle cx="398.4" cy="137.4" r="2.05"/>
<circle cx="398.4" cy="114" r="2.05"/>
<circle cx="398.4" cy="133.3" r="2.05"/>
<circle cx="398.4" cy="120.9" r="2.05"/>
<circle cx="398.4" cy="143.5" r="2.05"/>
<circle cx="398.4" cy="135.4" r="2.05"/>
<circle cx="398.4" cy="149.2" r="2.05"/>
<circle cx="398.4" cy="137.1" r="2.05"/>
<circle cx="398.4" cy="120.2" r="2.05"/>
<circle cx="398.4" cy="173" r="2.05"/>
<circle cx="398.4" cy="146.6" r="2.05"/>
<circle cx="398.4" cy="140.7" r="2.05"/>
<circle cx="398.4" cy="156.4" r="2.05"/>
<circle cx="398.4" cy="151.3" r="2.05"/>
<circle cx="398.4" cy="130.1" r="2.05"/>
<circle cx="430.8" cy="136.5" r="2.05"/>
<circle cx="405.1" cy="185.7" r="2.05"/>
<circle cx="429.6" cy="149" r="2.05"/>
<circle cx="400.7" cy="176" r="2.05"/>
<circle cx="401" cy="175.5" r="2.05"/>
<circle cx="401.2" cy="140.2" r="2.05"/>
<circle cx="400.6" cy="144.4" r="2.05"/>
<circle cx="413.2" cy="118.4" r="2.05"/>
<circle cx="410.1" cy="191.8" r="2.05"/>
<circle cx="403" cy="168" r="2.05"/>
<circle cx="415.6" cy="158.7" r="2.05"/>
<circle cx="404.6" cy="177.4" r="2.05"/>
<circle cx="402.3" cy="118.5" r="2.05"/>
<circle cx="410.6" cy="154.2" r="2.05"/>
<circle cx="402.1" cy="153.4" r="2.05"/>
<circle cx="400.9" cy="134.2" r="2.05"/>
<circle cx="401.6" cy="205" r="2.05"/>
<circle cx="400.5" cy="170.8" r="2.05"/>
<circle cx="410.1" cy="164.5" r="2.05"/>
<circle cx="402.4" cy="174.4" r="2.05"/>
<circle cx="417.4" cy="182.6" r="2.05"/>
<circle cx="436.8" cy="193.1" r="2.05"/>
<circle cx="405.7" cy="165.1" r="2.05"/>
<circle cx="428.7" cy="184.2" r="2.05"/>
<circle cx="409.6" cy="168.2" r="2.05"/>
<circle cx="405.8" cy="143.3" r="2.05"/>
<circle cx="420.9" cy="106.9" r="2.05"/>
<circle cx="415.9" cy="147.5" r="2.05"/>
<circle cx="403" cy="110" r="2.05"/>
<circle cx="422" cy="157.7" r="2.05"/>
<circle cx="407.2" cy="144.2" r="2.05"/>
<circle cx="401" cy="162" r="2.05"/>
<circle cx="420.4" cy="162.8" r="2.05"/>
<circle cx="423.8" cy="123.1" r="2.05"/>
<circle cx="408.4" cy="177.9" r="2.05"/>
<circle cx="421.5" cy="130.6" r="2.05"/>
<circle cx="429.4" cy="109.2" r="2.05"/>
<circle cx="412.5" cy="104.1" r="2.05"/>
<circle cx="419" cy="138.7" r="2.05"/>
<circle cx="406.6" cy="146.2" r="2.05"/>
<circle cx="402.8" cy="126.9" r="2.05"/>
<circle cx="423" cy="178.8" r="2.05"/>
<circle cx="421.5" cy="163.3" r="2.05"/>
<circle cx="409.4" cy="142.4" r="2.05"/>
<circle cx="404.2" cy="150" r="2.05"/>
<circle cx="410.5" cy="160.7" r="2.05"/>
<circle cx="414.7" cy="133.5" r="2.05"/>
<circle cx="401.7" cy="158" r="2.05"/>
<circle cx="423.9" cy="164.1" r="2.05"/>
<circle cx="410.1" cy="124.7" r="2.05"/>
<circle cx="404.2" cy="132.1" r="2.05"/>
<circle cx="417.2" cy="127.9" r="2.05"/>
<circle cx="403.2" cy="186.5" r="2.05"/>
<circle cx="410.4" cy="170.9" r="2.05"/>
<circle cx="419.8" cy="166.1" r="2.05"/>
<circle cx="402.7" cy="144.3" r="2.05"/>
<circle cx="405.2" cy="144.9" r="2.05"/>
<circle cx="408.6" cy="135.6" r="2.05"/>
<circle cx="400.2" cy="146" r="2.05"/>
<circle cx="442.3" cy="124.5" r="2.05"/>
<circle cx="400.6" cy="191" r="2.05"/>
<circle cx="401.6" cy="140.2" r="2.05"/>
<circle cx="416.5" cy="175.2" r="2.05"/>
<circle cx="423.8" cy="154.3" r="2.05"/>
<circle cx="436.8" cy="154" r="2.05"/>
<circle cx="410.5" cy="159" r="2.05"/>
<circle cx="417.2" cy="126" r="2.05"/>
<circle cx="414" cy="116" r="2.05"/>
<circle cx="413.3" cy="163.7" r="2.05"/>
<circle cx="425.6" cy="165.4" r="2.05"/>
<circle cx="410.5" cy="169.1" r="2.05"/>
<circle cx="409.1" cy="143.3" r="2.05"/>
<circle cx="404.3" cy="146.8" r="2.05"/>
<circle cx="402.4" cy="145.9" r="2.05"/>
<circle cx="411.7" cy="129.1" r="2.05"/>
<circle cx="410.6" cy="184.7" r="2.05"/>
<circle cx="422" cy="148.1" r="2.05"/>
<circle cx="417.1" cy="187.8" r="2.05"/>
<circle cx="405.2" cy="150.1" r="2.05"/>
<circle cx="422.2" cy="162.4" r="2.05"/>
<circle cx="411.2" cy="126.4" r="2.05"/>
<circle cx="424.5" cy="170.2" r="2.05"/>
<circle cx="421.6" cy="139" r="2.05"/>
<circle cx="414.5" cy="146.4" r="2.05"/>
<circle cx="420.1" cy="133.1" r="2.05"/>
<circle cx="412.3" cy="138.2" r="2.05"/>
<circle cx="407.6" cy="143.9" r="2.05"/>
<circle cx="412.2" cy="163.3" r="2.05"/>
<circle cx="428.4" cy="143.3" r="2.05"/>
<circle cx="407.5" cy="150.4" r="2.05"/>
<circle cx="413.8" cy="164" r="2.05"/>
<circle cx="401.4" cy="157.6" r="2.05"/>
<circle cx="408.9" cy="114.7" r="2.05"/>
<circle cx="404" cy="104.3" r="2.05"/>
<circle cx="423.5" cy="132.9" r="2.05"/>
<circle cx="409.1" cy="110.7" r="2.05"/>
<circle cx="402.9" cy="153.3" r="2.05"/>
<circle cx="416.4" cy="140.1" r="2.05"/>
<circle cx="420.7" cy="138.7" r="2.05"/>
<circle cx="406.6" cy="155.3" r="2.05"/>
<circle cx="402.7" cy="182.9" r="2.05"/>
<circle cx="416.2" cy="160" r="2.05"/>
<circle cx="417.1" cy="167.7" r="2.05"/>
<circle cx="412.8" cy="131.4" r="2.05"/>
<circle cx="416.3" cy="181.4" r="2.05"/>
<circle cx="414.3" cy="130.7" r="2.05"/>
<circle cx="409" cy="184.3" r="2.05"/>
<circle cx="411.6" cy="165" r="2.05"/>
<circle cx="405.4" cy="158.8" r="2.05"/>
<circle cx="431.2" cy="145.5" r="2.05"/>
<circle cx="423.6" cy="130.3" r="2.05"/>
<circle cx="418.6" cy="166.4" r="2.05"/>
<circle cx="413.2" cy="163" r="2.05"/>
<circle cx="420" cy="131.5" r="2.05"/>
<circle cx="409.4" cy="143.5" r="2.05"/>
<circle cx="423.8" cy="162.5" r="2.05"/>
<circle cx="408.6" cy="172.8" r="2.05"/>
<circle cx="407.9" cy="167.5" r="2.05"/>
<circle cx="411" cy="174.3" r="2.05"/>
<circle cx="431.6" cy="137.3" r="2.05"/>
<circle cx="420.5" cy="146.8" r="2.05"/>
<circle cx="415.1" cy="146.8" r="2.05"/>
<circle cx="418.8" cy="144" r="2.05"/>
<circle cx="414.3" cy="117.4" r="2.05"/>
<circle cx="417.4" cy="160.7" r="2.05"/>
<circle cx="416.3" cy="133.2" r="2.05"/>
<circle cx="423.7" cy="159.9" r="2.05"/>
<circle cx="421.9" cy="153.2" r="2.05"/>
<circle cx="409" cy="174.8" r="2.05"/>
<circle cx="431.6" cy="121.4" r="2.05"/>
<circle cx="405.9" cy="117.5" r="2.05"/>
<circle cx="420.4" cy="126.8" r="2.05"/>
<circle cx="431.9" cy="105.4" r="2.05"/>
<circle cx="403.4" cy="144.6" r="2.05"/>
<circle cx="402.5" cy="128.2" r="2.05"/>
<circle cx="416" cy="148.8" r="2.05"/>
<circle cx="420.9" cy="134" r="2.05"/>
<circle cx="407.3" cy="136.5" r="2.05"/>
<circle cx="404.2" cy="114.1" r="2.05"/>
<circle cx="417.6" cy="160.9" r="2.05"/>
<circle cx="405.5" cy="110.9" r="2.05"/>
<circle cx="408.4" cy="140.9" r="2.05"/>
<circle cx="418.4" cy="122.4" r="2.05"/>
<circle cx="408.1" cy="180.5" r="2.05"/>
<circle cx="419.4" cy="145.1" r="2.05"/>
<circle cx="406.1" cy="170.2" r="2.05"/>
<circle cx="417.6" cy="133.3" r="2.05"/>
<circle cx="425.7" cy="169.2" r="2.05"/>
<circle cx="402.7" cy="161.9" r="2.05"/>
<circle cx="402.5" cy="140.1" r="2.05"/>
<circle cx="436" cy="136.2" r="2.05"/>
<circle cx="428.4" cy="158.3" r="2.05"/>
<circle cx="424.1" cy="159.1" r="2.05"/>
<circle cx="413.1" cy="112.9" r="2.05"/>
<circle cx="401.8" cy="151" r="2.05"/>
<circle cx="432.7" cy="154.2" r="2.05"/>
<circle cx="447.9" cy="173.2" r="2.05"/>
<circle cx="427.6" cy="157.6" r="2.05"/>
<circle cx="435.5" cy="108.2" r="2.05"/>
<circle cx="437.8" cy="108.3" r="2.05"/>
<circle cx="429.4" cy="115.3" r="2.05"/>
<circle cx="443.3" cy="120.1" r="2.05"/>
<circle cx="464.3" cy="147.3" r="2.05"/>
<circle cx="406.2" cy="143.8" r="2.05"/>
<circle cx="419.1" cy="160.6" r="2.05"/>
<circle cx="420.1" cy="139.9" r="2.05"/>
<circle cx="408.3" cy="110.5" r="2.05"/>
<circle cx="414.9" cy="137.1" r="2.05"/>
<circle cx="464.4" cy="166.4" r="2.05"/>
<circle cx="446" cy="106.3" r="2.05"/>
<circle cx="459.8" cy="168.6" r="2.05"/>
<circle cx="446" cy="185.4" r="2.05"/>
<circle cx="420.4" cy="186.9" r="2.05"/>
<circle cx="422.4" cy="115.6" r="2.05"/>
<circle cx="471.2" cy="151.3" r="2.05"/>
<circle cx="484.4" cy="127.1" r="2.05"/>
<circle cx="432.8" cy="152.1" r="2.05"/>
<circle cx="403" cy="136.1" r="2.05"/>
<circle cx="415.7" cy="146.9" r="2.05"/>
<circle cx="424.5" cy="144.3" r="2.05"/>
<circle cx="451.9" cy="144" r="2.05"/>
<circle cx="485.1" cy="154.3" r="2.05"/>
<circle cx="484.3" cy="142.1" r="2.05"/>
<circle cx="455.7" cy="139.7" r="2.05"/>
<circle cx="443.1" cy="181.3" r="2.05"/>
<circle cx="432.8" cy="130.5" r="2.05"/>
<circle cx="417.4" cy="149.2" r="2.05"/>
<circle cx="441.1" cy="169.1" r="2.05"/>
<circle cx="459.6" cy="139.8" r="2.05"/>
<circle cx="442.2" cy="191.3" r="2.05"/>
<circle cx="460.5" cy="169.7" r="2.05"/>
<circle cx="403.9" cy="143.2" r="2.05"/>
<circle cx="407.5" cy="153.6" r="2.05"/>
<circle cx="460.6" cy="167.6" r="2.05"/>
<circle cx="474.4" cy="160.6" r="2.05"/>
<circle cx="437.5" cy="182.5" r="2.05"/>
<circle cx="412.6" cy="141.7" r="2.05"/>
<circle cx="445.9" cy="169.8" r="2.05"/>
<circle cx="426.6" cy="138.4" r="2.05"/>
<circle cx="432.8" cy="136.1" r="2.05"/>
<circle cx="439.8" cy="163.1" r="2.05"/>
<circle cx="401.4" cy="150.2" r="2.05"/>
<circle cx="444.3" cy="177.2" r="2.05"/>
<circle cx="419.2" cy="130.6" r="2.05"/>
<circle cx="418.3" cy="119.8" r="2.05"/>
<circle cx="451.3" cy="173.7" r="2.05"/>
<circle cx="468.4" cy="136" r="2.05"/>
<circle cx="441.9" cy="163.7" r="2.05"/>
<circle cx="435.8" cy="140.6" r="2.05"/>
<circle cx="428.9" cy="146" r="2.05"/>
<circle cx="453.3" cy="159.3" r="2.05"/>
<circle cx="442.7" cy="177.6" r="2.05"/>
<circle cx="451.3" cy="161.3" r="2.05"/>
<circle cx="446.2" cy="165.9" r="2.05"/>
<circle cx="420" cy="174.3" r="2.05"/>
<circle cx="413.3" cy="160.8" r="2.05"/>
<circle cx="424.7" cy="167.4" r="2.05"/>
<circle cx="402.2" cy="157.8" r="2.05"/>
<circle cx="405.6" cy="142.3" r="2.05"/>
<circle cx="415.5" cy="194.3" r="2.05"/>
<circle cx="424" cy="163.9" r="2.05"/>
<circle cx="434.4" cy="180.2" r="2.05"/>
<circle cx="431.8" cy="152.7" r="2.05"/>
<circle cx="415.3" cy="125.9" r="2.05"/>
<circle cx="419.9" cy="126.2" r="2.05"/>
<circle cx="464.7" cy="183.7" r="2.05"/>
<circle cx="453.9" cy="135.9" r="2.05"/>
<circle cx="421.9" cy="144.2" r="2.05"/>
<circle cx="421.8" cy="173" r="2.05"/>
<circle cx="442.1" cy="157.3" r="2.05"/>
<circle cx="443.7" cy="143.9" r="2.05"/>
<circle cx="486.9" cy="171.4" r="2.05"/>
<circle cx="449.9" cy="148.4" r="2.05"/>
<circle cx="417.9" cy="141.9" r="2.05"/>
<circle cx="419.2" cy="158.7" r="2.05"/>
<circle cx="405.1" cy="144.6" r="2.05"/>
<circle cx="466.9" cy="143.7" r="2.05"/>
<circle cx="482.8" cy="105.1" r="2.05"/>
<circle cx="475.6" cy="121.4" r="2.05"/>
<circle cx="406.3" cy="144.7" r="2.05"/>
<circle cx="406.8" cy="163.3" r="2.05"/>
<circle cx="403.5" cy="161.6" r="2.05"/>
<circle cx="472.3" cy="132.9" r="2.05"/>
<circle cx="420.1" cy="188.2" r="2.05"/>
<circle cx="402.9" cy="156.8" r="2.05"/>
<circle cx="448.1" cy="170" r="2.05"/>
<circle cx="499" cy="130.9" r="2.05"/>
<circle cx="403.5" cy="148.5" r="2.05"/>
<circle cx="407.1" cy="116.6" r="2.05"/>
<circle cx="406.4" cy="144" r="2.05"/>
<circle cx="462.5" cy="152.5" r="2.05"/>
<circle cx="490" cy="126" r="2.05"/>
<circle cx="474" cy="112.1" r="2.05"/>
<circle cx="446" cy="162.4" r="2.05"/>
<circle cx="470.9" cy="126.6" r="2.05"/>
<circle cx="486.5" cy="124.1" r="2.05"/>
<circle cx="465.9" cy="118" r="2.05"/>
<circle cx="484.4" cy="159.2" r="2.05"/>
<circle cx="467.4" cy="160" r="2.05"/>
<circle cx="493.7" cy="113.5" r="2.05"/>
<circle cx="479.3" cy="156.9" r="2.05"/>
<circle cx="461.3" cy="125.9" r="2.05"/>
<circle cx="488.2" cy="137.2" r="2.05"/>
<circle cx="481.8" cy="160.7" r="2.05"/>
<circle cx="506.2" cy="132.5" r="2.05"/>
<circle cx="462.4" cy="168.2" r="2.05"/>
<circle cx="470.2" cy="131" r="2.05"/>
<circle cx="487" cy="157.5" r="2.05"/>
<circle cx="481.6" cy="117.4" r="2.05"/>
<circle cx="460.7" cy="166.7" r="2.05"/>
<circle cx="442.2" cy="147" r="2.05"/>
<circle cx="480.6" cy="125.1" r="2.05"/>
<circle cx="495.6" cy="141" r="2.05"/>
<circle cx="496.8" cy="149" r="2.05"/>
<circle cx="495.4" cy="128.4" r="2.05"/>
<circle cx="460.1" cy="164" r="2.05"/>
<circle cx="497.9" cy="135" r="2.05"/>
<circle cx="502" cy="172.9" r="2.05"/>
<circle cx="464.9" cy="124.2" r="2.05"/>
<circle cx="494.4" cy="132.8" r="2.05"/>
<circle cx="455.3" cy="145.3" r="2.05"/>
<circle cx="457.5" cy="190.2" r="2.05"/>
<circle cx="481.9" cy="154.9" r="2.05"/>
<circle cx="455.7" cy="164.8" r="2.05"/>
<circle cx="458.8" cy="145.1" r="2.05"/>
<circle cx="472.3" cy="179.6" r="2.05"/>
<circle cx="447.9" cy="133.8" r="2.05"/>
<circle cx="457.4" cy="176.6" r="2.05"/>
<circle cx="480.1" cy="113.2" r="2.05"/>
<circle cx="476.3" cy="169.6" r="2.05"/>
<circle cx="533.9" cy="166.9" r="2.05"/>
<circle cx="542.7" cy="172.2" r="2.05"/>
<circle cx="520.8" cy="140" r="2.05"/>
<circle cx="529.6" cy="145.4" r="2.05"/>
<circle cx="558" cy="129.2" r="2.05"/>
<circle cx="562.4" cy="126.5" r="2.05"/>
<circle cx="577.7" cy="110.4" r="2.05"/>
<circle cx="564.5" cy="150.7" r="2.05"/>
<circle cx="540.5" cy="148" r="2.05"/>
<circle cx="623.6" cy="166.9" r="2.05"/>
<circle cx="536.1" cy="188.4" r="2.05"/>
<circle cx="406.1" cy="305.5" r="2.05"/>
<circle cx="407.1" cy="236.7" r="2.05"/>
<circle cx="407.1" cy="228.7" r="2.05"/>
<circle cx="437.7" cy="236.7" r="2.05"/>
<circle cx="433.4" cy="228.7" r="2.05"/>
<circle cx="398.4" cy="226" r="2.05"/>
<circle cx="398.4" cy="215.2" r="2.05"/>
<circle cx="409.3" cy="226" r="2.05"/>
<circle cx="424.6" cy="209.9" r="2.05"/>
<circle cx="442.1" cy="209.9" r="2.05"/>
<circle cx="398.4" cy="227.6" r="2.05"/>
<circle cx="398.4" cy="216.3" r="2.05"/>
</g>
<path d="M399.2 149.8 L408.5 149.9 L417.8 149.9 L427 149.9 L436.3 149.7 L445.6 149.5 L454.9 149.2 L464.2 148.9 L473.4 148.4 L482.7 147.9 L492 147.3 L501.3 146.6 L510.5 145.9 L519.8 145.1 L529.1 144.2 L538.4 143.2 L547.7 142.2 L556.9 141 L566.2 139.8 L575.5 138.5 L584.8 137.2 L594.1 135.8 L603.3 134.2 L612.6 132.7 L621.9 131 L621.9 158 L612.6 157 L603.3 156.1 L594.1 155.2 L584.8 154.4 L575.5 153.7 L566.2 153.1 L556.9 152.5 L547.7 152 L538.4 151.6 L529.1 151.3 L519.8 151.1 L510.5 150.9 L501.3 150.8 L492 150.8 L482.7 150.8 L473.4 151 L464.2 151.2 L454.9 151.5 L445.6 151.8 L436.3 152.3 L427 152.8 L417.8 153.4 L408.5 154.1 L399.2 154.8Z" fill="#999" fill-opacity=".4"/>
<line x1="399.2" y1="152.3" x2="621.9" y2="144.5" stroke="#3366ff" stroke-width="2.2"/>
<rect x="387.6" y="81.5" width="245.9" height="233.8" fill="none" stroke="#333" stroke-width="1.1"/>
<text x="631" y="94.9" font-size="12.1" text-anchor="end" fill="#e01c1c" font-family="DejaVu Sans, sans-serif">Rho = -0.09</text>
<text x="631" y="106.7" font-size="12.1" text-anchor="end" fill="#e01c1c" font-family="DejaVu Sans, sans-serif">p = 4.69e-02</text>
<line x1="398.4" y1="315.3" x2="398.4" y2="319.5" stroke="#222" stroke-width="1.4"/>
<text x="398.4" y="333.3" font-size="13.2" text-anchor="middle" fill="#333" font-family="DejaVu Sans, sans-serif">0.00</text>
<line x1="453" y1="315.3" x2="453" y2="319.5" stroke="#222" stroke-width="1.4"/>
<text x="453" y="333.3" font-size="13.2" text-anchor="middle" fill="#333" font-family="DejaVu Sans, sans-serif">0.25</text>
<line x1="507.7" y1="315.3" x2="507.7" y2="319.5" stroke="#222" stroke-width="1.4"/>
<text x="507.7" y="333.3" font-size="13.2" text-anchor="middle" fill="#333" font-family="DejaVu Sans, sans-serif">0.50</text>
<line x1="562.4" y1="315.3" x2="562.4" y2="319.5" stroke="#222" stroke-width="1.4"/>
<text x="562.4" y="333.3" font-size="13.2" text-anchor="middle" fill="#333" font-family="DejaVu Sans, sans-serif">0.75</text>
<line x1="617" y1="315.3" x2="617" y2="319.5" stroke="#222" stroke-width="1.4"/>
<text x="617" y="333.3" font-size="13.2" text-anchor="middle" fill="#333" font-family="DejaVu Sans, sans-serif">1.00</text>
<rect x="646.4" y="56.5" width="247.2" height="25.0" fill="#d9d9d9" stroke="#4d4d4d" stroke-width="1.3"/>
<text x="770" y="74" font-size="13.3" text-anchor="middle" fill="#1a1a1a" font-family="DejaVu Sans, sans-serif">T cell CD8+_TIMER</text>
<line x1="646.4" y1="81.5" x2="893.6" y2="81.5" stroke="#1a1a1a" stroke-width="1.7"/>
<line x1="688.4" y1="81.5" x2="688.4" y2="315.5" stroke="#eeeeee" stroke-width="1.2"/>
<line x1="750.2" y1="81.5" x2="750.2" y2="315.5" stroke="#eeeeee" stroke-width="1.2"/>
<line x1="812.1" y1="81.5" x2="812.1" y2="315.5" stroke="#eeeeee" stroke-width="1.2"/>
<line x1="873.9" y1="81.5" x2="873.9" y2="315.5" stroke="#eeeeee" stroke-width="1.2"/>
<line x1="646.4" y1="307.1" x2="893.6" y2="307.1" stroke="#eeeeee" stroke-width="1.2"/>
<line x1="646.4" y1="280.7" x2="893.6" y2="280.7" stroke="#e5e5e5" stroke-width="1.7"/>
<line x1="646.4" y1="254.2" x2="893.6" y2="254.2" stroke="#eeeeee" stroke-width="1.2"/>
<line x1="646.4" y1="227.8" x2="893.6" y2="227.8" stroke="#e5e5e5" stroke-width="1.7"/>
<line x1="646.4" y1="201.3" x2="893.6" y2="201.3" stroke="#eeeeee" stroke-width="1.2"/>
<line x1="646.4" y1="174.9" x2="893.6" y2="174.9" stroke="#e5e5e5" stroke-width="1.7"/>
<line x1="646.4" y1="148.4" x2="893.6" y2="148.4" stroke="#eeeeee" stroke-width="1.2"/>
<line x1="646.4" y1="122" x2="893.6" y2="122" stroke="#e5e5e5" stroke-width="1.7"/>
<line x1="646.4" y1="95.5" x2="893.6" y2="95.5" stroke="#eeeeee" stroke-width="1.2"/>
<line x1="657.5" y1="81.5" x2="657.5" y2="315.5" stroke="#e5e5e5" stroke-width="1.7"/>
<line x1="719.3" y1="81.5" x2="719.3" y2="315.5" stroke="#e5e5e5" stroke-width="1.7"/>
<line x1="781.2" y1="81.5" x2="781.2" y2="315.5" stroke="#e5e5e5" stroke-width="1.7"/>
<line x1="843" y1="81.5" x2="843" y2="315.5" stroke="#e5e5e5" stroke-width="1.7"/>
<g fill="#000" fill-opacity=".32" stroke="#000" stroke-opacity=".5" stroke-width="1.1">
<circle cx="657.5" cy="189.6" r="2.05"/>
<circle cx="657.5" cy="157.5" r="2.05"/>
<circle cx="657.5" cy="156.5" r="2.05"/>
<circle cx="657.5" cy="148.8" r="2.05"/>
<circle cx="657.5" cy="147.8" r="2.05"/>
<circle cx="657.5" cy="131.8" r="2.05"/>
<circle cx="657.5" cy="179.4" r="2.05"/>
<circle cx="657.5" cy="140.9" r="2.05"/>
<circle cx="657.5" cy="182.5" r="2.05"/>
<circle cx="657.5" cy="146.9" r="2.05"/>
<circle cx="657.5" cy="157.8" r="2.05"/>
<circle cx="657.5" cy="156.5" r="2.05"/>
<circle cx="657.5" cy="141.1" r="2.05"/>
<circle cx="657.5" cy="162" r="2.05"/>
<circle cx="657.5" cy="138.1" r="2.05"/>
<circle cx="657.5" cy="143.1" r="2.05"/>
<circle cx="657.5" cy="158.8" r="2.05"/>
<circle cx="657.5" cy="173.6" r="2.05"/>
<circle cx="657.5" cy="177.6" r="2.05"/>
<circle cx="657.5" cy="172.8" r="2.05"/>
<circle cx="657.5" cy="165.9" r="2.05"/>
<circle cx="657.5" cy="162.2" r="2.05"/>
<circle cx="657.5" cy="148.1" r="2.05"/>
<circle cx="657.5" cy="145.3" r="2.05"/>
<circle cx="657.5" cy="179.8" r="2.05"/>
<circle cx="657.5" cy="176.7" r="2.05"/>
<circle cx="657.5" cy="168.4" r="2.05"/>
<circle cx="657.5" cy="157.6" r="2.05"/>
<circle cx="657.5" cy="183.5" r="2.05"/>
<circle cx="657.5" cy="127.5" r="2.05"/>
<circle cx="657.5" cy="173.5" r="2.05"/>
<circle cx="657.5" cy="138.8" r="2.05"/>
<circle cx="657.5" cy="161.8" r="2.05"/>
<circle cx="657.5" cy="155.7" r="2.05"/>
<circle cx="657.5" cy="157.6" r="2.05"/>
<circle cx="657.5" cy="148.9" r="2.05"/>
<circle cx="657.5" cy="155.7" r="2.05"/>
<circle cx="657.5" cy="158.2" r="2.05"/>
<circle cx="657.5" cy="176.7" r="2.05"/>
<circle cx="657.5" cy="148.3" r="2.05"/>
<circle cx="657.5" cy="155.1" r="2.05"/>
<circle cx="657.5" cy="165.8" r="2.05"/>
<circle cx="657.5" cy="179" r="2.05"/>
<circle cx="657.5" cy="173.9" r="2.05"/>
<circle cx="657.5" cy="125" r="2.05"/>
<circle cx="657.5" cy="162.9" r="2.05"/>
<circle cx="657.5" cy="134.4" r="2.05"/>
<circle cx="657.5" cy="195.2" r="2.05"/>
<circle cx="657.5" cy="171.8" r="2.05"/>
<circle cx="657.5" cy="180.1" r="2.05"/>
<circle cx="657.5" cy="173.5" r="2.05"/>
<circle cx="657.5" cy="157.6" r="2.05"/>
<circle cx="657.5" cy="175.6" r="2.05"/>
<circle cx="657.5" cy="160.6" r="2.05"/>
<circle cx="657.5" cy="155.8" r="2.05"/>
<circle cx="657.5" cy="162.4" r="2.05"/>
<circle cx="657.5" cy="141.9" r="2.05"/>
<circle cx="657.5" cy="187.9" r="2.05"/>
<circle cx="657.5" cy="158.2" r="2.05"/>
<circle cx="657.5" cy="167.2" r="2.05"/>
<circle cx="657.5" cy="154.1" r="2.05"/>
<circle cx="657.5" cy="194" r="2.05"/>
<circle cx="657.5" cy="150.5" r="2.05"/>
<circle cx="657.5" cy="157.6" r="2.05"/>
<circle cx="657.5" cy="160.1" r="2.05"/>
<circle cx="657.5" cy="169.5" r="2.05"/>
<circle cx="657.5" cy="177.6" r="2.05"/>
<circle cx="657.5" cy="191.5" r="2.05"/>
<circle cx="657.5" cy="181" r="2.05"/>
<circle cx="657.5" cy="146.9" r="2.05"/>
<circle cx="657.5" cy="150.1" r="2.05"/>
<circle cx="657.5" cy="162.1" r="2.05"/>
<circle cx="657.5" cy="150.7" r="2.05"/>
<circle cx="657.5" cy="174.4" r="2.05"/>
<circle cx="657.5" cy="160.1" r="2.05"/>
<circle cx="657.5" cy="160.8" r="2.05"/>
<circle cx="657.5" cy="149.9" r="2.05"/>
<circle cx="657.5" cy="163.1" r="2.05"/>
<circle cx="657.5" cy="164.7" r="2.05"/>
<circle cx="657.5" cy="164.5" r="2.05"/>
<circle cx="657.5" cy="201.3" r="2.05"/>
<circle cx="657.5" cy="206.6" r="2.05"/>
<circle cx="657.5" cy="211.9" r="2.05"/>
<circle cx="657.5" cy="217.2" r="2.05"/>
<circle cx="657.5" cy="219.8" r="2.05"/>
<circle cx="657.5" cy="225.1" r="2.05"/>
<circle cx="657.5" cy="230.4" r="2.05"/>
<circle cx="657.5" cy="238.3" r="2.05"/>
<circle cx="657.5" cy="116.7" r="2.05"/>
<circle cx="657.5" cy="103.4" r="2.05"/>
<circle cx="671.3" cy="105.9" r="2.05"/>
<circle cx="692.8" cy="139.1" r="2.05"/>
<circle cx="725.8" cy="110.9" r="2.05"/>
<circle cx="662.7" cy="140.4" r="2.05"/>
<circle cx="698.8" cy="106.9" r="2.05"/>
<circle cx="707.7" cy="128.4" r="2.05"/>
<circle cx="661.4" cy="173.9" r="2.05"/>
<circle cx="688.3" cy="138.5" r="2.05"/>
<circle cx="664.3" cy="162.9" r="2.05"/>
<circle cx="675.8" cy="150.8" r="2.05"/>
<circle cx="689.5" cy="155" r="2.05"/>
<circle cx="660.3" cy="129.4" r="2.05"/>
<circle cx="712.9" cy="145.8" r="2.05"/>
<circle cx="702.3" cy="136.6" r="2.05"/>
<circle cx="695.5" cy="137.4" r="2.05"/>
<circle cx="669.1" cy="141.5" r="2.05"/>
<circle cx="702" cy="165" r="2.05"/>
<circle cx="719.7" cy="103.4" r="2.05"/>
<circle cx="720.2" cy="126.1" r="2.05"/>
<circle cx="677" cy="164.5" r="2.05"/>
<circle cx="668.2" cy="151.4" r="2.05"/>
<circle cx="682.7" cy="136.3" r="2.05"/>
<circle cx="671.3" cy="104.2" r="2.05"/>
<circle cx="725.5" cy="141.2" r="2.05"/>
<circle cx="695.8" cy="137.4" r="2.05"/>
<circle cx="688.3" cy="153.6" r="2.05"/>
<circle cx="681" cy="168.4" r="2.05"/>
<circle cx="686.6" cy="150.1" r="2.05"/>
<circle cx="689.2" cy="167.1" r="2.05"/>
<circle cx="684" cy="149.2" r="2.05"/>
<circle cx="694.5" cy="170.3" r="2.05"/>
<circle cx="691" cy="127.8" r="2.05"/>
<circle cx="694.3" cy="155.6" r="2.05"/>
<circle cx="674.2" cy="157.5" r="2.05"/>
<circle cx="696.8" cy="114.4" r="2.05"/>
<circle cx="680.3" cy="164.7" r="2.05"/>
<circle cx="690.2" cy="144.4" r="2.05"/>
<circle cx="666.4" cy="169.9" r="2.05"/>
<circle cx="681.4" cy="136.6" r="2.05"/>
<circle cx="661.1" cy="177" r="2.05"/>
<circle cx="692.5" cy="174.2" r="2.05"/>
<circle cx="685.3" cy="142.5" r="2.05"/>
<circle cx="681.2" cy="172.4" r="2.05"/>
<circle cx="682.2" cy="157.7" r="2.05"/>
<circle cx="689.5" cy="166.7" r="2.05"/>
<circle cx="703.5" cy="181.2" r="2.05"/>
<circle cx="680" cy="151" r="2.05"/>
<circle cx="701.1" cy="159.1" r="2.05"/>
<circle cx="693.4" cy="160" r="2.05"/>
<circle cx="697" cy="110.5" r="2.05"/>
<circle cx="675.8" cy="142.7" r="2.05"/>
<circle cx="666.1" cy="133.8" r="2.05"/>
<circle cx="705.7" cy="144.4" r="2.05"/>
<circle cx="662.2" cy="146.7" r="2.05"/>
<circle cx="704.6" cy="122.4" r="2.05"/>
<circle cx="698.3" cy="185.6" r="2.05"/>
<circle cx="670.7" cy="123.2" r="2.05"/>
<circle cx="660.5" cy="131.7" r="2.05"/>
<circle cx="718.2" cy="126.2" r="2.05"/>
<circle cx="704" cy="152.6" r="2.05"/>
<circle cx="660.5" cy="157.8" r="2.05"/>
<circle cx="679.6" cy="152.2" r="2.05"/>
<circle cx="696.2" cy="150.5" r="2.05"/>
<circle cx="686.8" cy="140.6" r="2.05"/>
<circle cx="683.2" cy="111.4" r="2.05"/>
<circle cx="691.5" cy="146.7" r="2.05"/>
<circle cx="679.4" cy="164.5" r="2.05"/>
<circle cx="708.2" cy="141.4" r="2.05"/>
<circle cx="663.3" cy="166.9" r="2.05"/>
<circle cx="680.7" cy="160.4" r="2.05"/>
<circle cx="703.4" cy="170.3" r="2.05"/>
<circle cx="692.4" cy="145.2" r="2.05"/>
<circle cx="661.4" cy="154.4" r="2.05"/>
<circle cx="681.5" cy="140.2" r="2.05"/>
<circle cx="674.9" cy="145.9" r="2.05"/>
<circle cx="664.7" cy="177.6" r="2.05"/>
<circle cx="697.8" cy="125" r="2.05"/>
<circle cx="683" cy="163.1" r="2.05"/>
<circle cx="703.3" cy="190" r="2.05"/>
<circle cx="668.4" cy="139.6" r="2.05"/>
<circle cx="695.4" cy="169.4" r="2.05"/>
<circle cx="668.8" cy="123" r="2.05"/>
<circle cx="686.1" cy="168.7" r="2.05"/>
<circle cx="684.3" cy="131.1" r="2.05"/>
<circle cx="681.9" cy="127.2" r="2.05"/>
<circle cx="697" cy="191.2" r="2.05"/>
<circle cx="697.6" cy="184.7" r="2.05"/>
<circle cx="704.4" cy="137.1" r="2.05"/>
<circle cx="725" cy="153.7" r="2.05"/>
<circle cx="683.4" cy="128.2" r="2.05"/>
<circle cx="671.4" cy="168" r="2.05"/>
<circle cx="676.4" cy="153.5" r="2.05"/>
<circle cx="663.2" cy="144.8" r="2.05"/>
<circle cx="693.3" cy="146.5" r="2.05"/>
<circle cx="714.8" cy="150" r="2.05"/>
<circle cx="707.5" cy="156.4" r="2.05"/>
<circle cx="697.3" cy="188.1" r="2.05"/>
<circle cx="686.9" cy="153.2" r="2.05"/>
<circle cx="674.1" cy="165.4" r="2.05"/>
<circle cx="676.8" cy="167.1" r="2.05"/>
<circle cx="674.5" cy="165" r="2.05"/>
<circle cx="673.1" cy="163.8" r="2.05"/>
<circle cx="663.6" cy="157.8" r="2.05"/>
<circle cx="697.8" cy="152.3" r="2.05"/>
<circle cx="674.1" cy="123.8" r="2.05"/>
<circle cx="701.4" cy="126.7" r="2.05"/>
<circle cx="704.7" cy="152.4" r="2.05"/>
<circle cx="680.9" cy="127.4" r="2.05"/>
<circle cx="673" cy="155.3" r="2.05"/>
<circle cx="690.3" cy="140.9" r="2.05"/>
<circle cx="678.1" cy="130.8" r="2.05"/>
<circle cx="680" cy="135.8" r="2.05"/>
<circle cx="703.1" cy="131.8" r="2.05"/>
<circle cx="696.9" cy="171.8" r="2.05"/>
<circle cx="658.9" cy="169.1" r="2.05"/>
<circle cx="692.1" cy="116.6" r="2.05"/>
<circle cx="660.6" cy="149.1" r="2.05"/>
<circle cx="667.4" cy="169.5" r="2.05"/>
<circle cx="678.1" cy="136.9" r="2.05"/>
<circle cx="687.2" cy="124.5" r="2.05"/>
<circle cx="665" cy="135.8" r="2.05"/>
<circle cx="700.5" cy="144.9" r="2.05"/>
<circle cx="692.1" cy="160.3" r="2.05"/>
<circle cx="663" cy="163.6" r="2.05"/>
<circle cx="671.3" cy="163.4" r="2.05"/>
<circle cx="713.9" cy="139" r="2.05"/>
<circle cx="689.1" cy="133.3" r="2.05"/>
<circle cx="668.8" cy="134.3" r="2.05"/>
<circle cx="690.2" cy="180.8" r="2.05"/>
<circle cx="694.4" cy="136.1" r="2.05"/>
<circle cx="691.7" cy="114.9" r="2.05"/>
<circle cx="675.6" cy="141.3" r="2.05"/>
<circle cx="697.1" cy="166.2" r="2.05"/>
<circle cx="705.5" cy="175.9" r="2.05"/>
<circle cx="659.1" cy="144.9" r="2.05"/>
<circle cx="663.1" cy="157.5" r="2.05"/>
<circle cx="664.3" cy="153.3" r="2.05"/>
<circle cx="662.2" cy="148" r="2.05"/>
<circle cx="662.2" cy="145.8" r="2.05"/>
<circle cx="678.3" cy="150.2" r="2.05"/>
<circle cx="682" cy="147.9" r="2.05"/>
<circle cx="658.8" cy="155.3" r="2.05"/>
<circle cx="665.9" cy="164" r="2.05"/>
<circle cx="691.2" cy="190.6" r="2.05"/>
<circle cx="669.1" cy="166.6" r="2.05"/>
<circle cx="663.7" cy="148" r="2.05"/>
<circle cx="680.7" cy="168.4" r="2.05"/>
<circle cx="665" cy="137.5" r="2.05"/>
<circle cx="671" cy="140.8" r="2.05"/>
<circle cx="691.6" cy="188.5" r="2.05"/>
<circle cx="663.2" cy="155" r="2.05"/>
<circle cx="689.6" cy="132.4" r="2.05"/>
<circle cx="698.1" cy="125.1" r="2.05"/>
<circle cx="676.3" cy="156.4" r="2.05"/>
<circle cx="697.7" cy="156.1" r="2.05"/>
<circle cx="702.9" cy="179.5" r="2.05"/>
<circle cx="695.4" cy="151.2" r="2.05"/>
<circle cx="670.3" cy="132.7" r="2.05"/>
<circle cx="689" cy="148.6" r="2.05"/>
<circle cx="663.3" cy="164.8" r="2.05"/>
<circle cx="711.3" cy="161.4" r="2.05"/>
<circle cx="698.2" cy="165.1" r="2.05"/>
<circle cx="661" cy="158.3" r="2.05"/>
<circle cx="676" cy="171.4" r="2.05"/>
<circle cx="667.6" cy="131.8" r="2.05"/>
<circle cx="660.6" cy="114.2" r="2.05"/>
<circle cx="673.2" cy="175.8" r="2.05"/>
<circle cx="697.9" cy="135.1" r="2.05"/>
<circle cx="663.9" cy="139" r="2.05"/>
<circle cx="667.9" cy="173.5" r="2.05"/>
<circle cx="704.2" cy="151" r="2.05"/>
<circle cx="659.1" cy="145.1" r="2.05"/>
<circle cx="700.3" cy="146.9" r="2.05"/>
<circle cx="667.3" cy="161.4" r="2.05"/>
<circle cx="691" cy="132.3" r="2.05"/>
<circle cx="717.6" cy="147.8" r="2.05"/>
<circle cx="674.3" cy="153.3" r="2.05"/>
<circle cx="705.6" cy="165.1" r="2.05"/>
<circle cx="707.5" cy="203" r="2.05"/>
<circle cx="698.1" cy="161.3" r="2.05"/>
<circle cx="691.8" cy="133.8" r="2.05"/>
<circle cx="661.3" cy="157.3" r="2.05"/>
<circle cx="687.7" cy="136.9" r="2.05"/>
<circle cx="666" cy="175.4" r="2.05"/>
<circle cx="669.5" cy="99.8" r="2.05"/>
<circle cx="679.7" cy="155.9" r="2.05"/>
<circle cx="661.5" cy="135.7" r="2.05"/>
<circle cx="673.3" cy="122.3" r="2.05"/>
<circle cx="699.1" cy="146.3" r="2.05"/>
<circle cx="696.7" cy="170.8" r="2.05"/>
<circle cx="677.2" cy="164" r="2.05"/>
<circle cx="659.7" cy="155.5" r="2.05"/>
<circle cx="680.6" cy="120.6" r="2.05"/>
<circle cx="696" cy="161.7" r="2.05"/>
<circle cx="666.2" cy="164.1" r="2.05"/>
<circle cx="691.1" cy="140" r="2.05"/>
<circle cx="683.8" cy="160.3" r="2.05"/>
<circle cx="692.4" cy="140.7" r="2.05"/>
<circle cx="668" cy="159.5" r="2.05"/>
<circle cx="659.3" cy="180.9" r="2.05"/>
<circle cx="686" cy="148.5" r="2.05"/>
<circle cx="685.4" cy="168.4" r="2.05"/>
<circle cx="679.5" cy="170.6" r="2.05"/>
<circle cx="690.3" cy="134.2" r="2.05"/>
<circle cx="715.8" cy="116.1" r="2.05"/>
<circle cx="668.3" cy="163.5" r="2.05"/>
<circle cx="665.9" cy="147.9" r="2.05"/>
<circle cx="720" cy="126.9" r="2.05"/>
<circle cx="674.6" cy="179" r="2.05"/>
<circle cx="659.3" cy="145" r="2.05"/>
<circle cx="683.3" cy="144" r="2.05"/>
<circle cx="716.3" cy="160.3" r="2.05"/>
<circle cx="667.5" cy="112.4" r="2.05"/>
<circle cx="689.6" cy="165.4" r="2.05"/>
<circle cx="671.4" cy="185.4" r="2.05"/>
<circle cx="679.1" cy="149.9" r="2.05"/>
<circle cx="684.1" cy="129.2" r="2.05"/>
<circle cx="680.7" cy="165.7" r="2.05"/>
<circle cx="669.5" cy="113.3" r="2.05"/>
<circle cx="666.6" cy="150.6" r="2.05"/>
<circle cx="683.7" cy="137.2" r="2.05"/>
<circle cx="675.8" cy="141.6" r="2.05"/>
<circle cx="698.4" cy="150" r="2.05"/>
<circle cx="674.8" cy="156.3" r="2.05"/>
<circle cx="665.4" cy="158.9" r="2.05"/>
<circle cx="677.7" cy="147.2" r="2.05"/>
<circle cx="708" cy="117" r="2.05"/>
<circle cx="675" cy="139.5" r="2.05"/>
<circle cx="688.7" cy="133" r="2.05"/>
<circle cx="683.7" cy="144.7" r="2.05"/>
<circle cx="674.6" cy="169" r="2.05"/>
<circle cx="699.4" cy="119.2" r="2.05"/>
<circle cx="695.5" cy="138.3" r="2.05"/>
<circle cx="688.2" cy="158.8" r="2.05"/>
<circle cx="666.9" cy="140.1" r="2.05"/>
<circle cx="687" cy="161.3" r="2.05"/>
<circle cx="665.4" cy="127.5" r="2.05"/>
<circle cx="667.3" cy="116.8" r="2.05"/>
<circle cx="695.1" cy="162.8" r="2.05"/>
<circle cx="682.9" cy="161.2" r="2.05"/>
<circle cx="686.1" cy="154.2" r="2.05"/>
<circle cx="669.4" cy="130.8" r="2.05"/>
<circle cx="668.7" cy="164.5" r="2.05"/>
<circle cx="693.6" cy="159.4" r="2.05"/>
<circle cx="675.2" cy="144.7" r="2.05"/>
<circle cx="676.4" cy="178.3" r="2.05"/>
<circle cx="681.4" cy="155.5" r="2.05"/>
<circle cx="714.9" cy="166.3" r="2.05"/>
<circle cx="701.2" cy="162.9" r="2.05"/>
<circle cx="676.7" cy="158.8" r="2.05"/>
<circle cx="688.3" cy="131" r="2.05"/>
<circle cx="715.7" cy="156.4" r="2.05"/>
<circle cx="707.9" cy="123.6" r="2.05"/>
<circle cx="698.3" cy="163" r="2.05"/>
<circle cx="700" cy="148.8" r="2.05"/>
<circle cx="689.8" cy="154.6" r="2.05"/>
<circle cx="695.6" cy="123.9" r="2.05"/>
<circle cx="704.2" cy="149.9" r="2.05"/>
<circle cx="701.7" cy="115.4" r="2.05"/>
<circle cx="665.9" cy="123.2" r="2.05"/>
<circle cx="658.6" cy="144.6" r="2.05"/>
<circle cx="694.3" cy="116.5" r="2.05"/>
<circle cx="688.4" cy="159.4" r="2.05"/>
<circle cx="668.5" cy="180.3" r="2.05"/>
<circle cx="697.5" cy="152.1" r="2.05"/>
<circle cx="670" cy="142.2" r="2.05"/>
<circle cx="669.1" cy="162.9" r="2.05"/>
<circle cx="674.8" cy="117.3" r="2.05"/>
<circle cx="710.4" cy="147.5" r="2.05"/>
<circle cx="662.9" cy="149.2" r="2.05"/>
<circle cx="684.6" cy="142.7" r="2.05"/>
<circle cx="693.8" cy="154.7" r="2.05"/>
<circle cx="700.4" cy="128.7" r="2.05"/>
<circle cx="687.2" cy="158.1" r="2.05"/>
<circle cx="674.3" cy="137.8" r="2.05"/>
<circle cx="662.9" cy="158.5" r="2.05"/>
<circle cx="669.4" cy="183.1" r="2.05"/>
<circle cx="694.5" cy="148.3" r="2.05"/>
<circle cx="683.9" cy="131.7" r="2.05"/>
<circle cx="661.5" cy="156.8" r="2.05"/>
<circle cx="777.9" cy="120.4" r="2.05"/>
<circle cx="755.1" cy="117.5" r="2.05"/>
<circle cx="709" cy="137.6" r="2.05"/>
<circle cx="772.1" cy="116.7" r="2.05"/>
<circle cx="768.2" cy="103" r="2.05"/>
<circle cx="735.2" cy="120.6" r="2.05"/>
<circle cx="768.1" cy="120.8" r="2.05"/>
<circle cx="707.1" cy="155.9" r="2.05"/>
<circle cx="786.5" cy="162.9" r="2.05"/>
<circle cx="762.9" cy="109.1" r="2.05"/>
<circle cx="767.2" cy="115.4" r="2.05"/>
<circle cx="740.7" cy="157.9" r="2.05"/>
<circle cx="703.8" cy="149.4" r="2.05"/>
<circle cx="746.2" cy="152.3" r="2.05"/>
<circle cx="784.8" cy="101.9" r="2.05"/>
<circle cx="702.8" cy="120" r="2.05"/>
<circle cx="763.9" cy="124" r="2.05"/>
<circle cx="749.4" cy="146.4" r="2.05"/>
<circle cx="788.6" cy="138.9" r="2.05"/>
<circle cx="721.9" cy="157" r="2.05"/>
<circle cx="704.2" cy="155.2" r="2.05"/>
<circle cx="717.4" cy="124.6" r="2.05"/>
<circle cx="727.5" cy="118" r="2.05"/>
<circle cx="760.9" cy="107.2" r="2.05"/>
<circle cx="720.8" cy="137.9" r="2.05"/>
<circle cx="740" cy="111.7" r="2.05"/>
<circle cx="785.5" cy="133.7" r="2.05"/>
<circle cx="780.8" cy="112.3" r="2.05"/>
<circle cx="711.9" cy="156.9" r="2.05"/>
<circle cx="774.3" cy="133.3" r="2.05"/>
<circle cx="749.6" cy="131.7" r="2.05"/>
<circle cx="760.5" cy="141.5" r="2.05"/>
<circle cx="754.3" cy="162.8" r="2.05"/>
<circle cx="775.8" cy="118.5" r="2.05"/>
<circle cx="709.3" cy="146.1" r="2.05"/>
<circle cx="717.9" cy="122.3" r="2.05"/>
<circle cx="704.3" cy="145.3" r="2.05"/>
<circle cx="763.8" cy="116.8" r="2.05"/>
<circle cx="740.3" cy="121.8" r="2.05"/>
<circle cx="742.2" cy="123.1" r="2.05"/>
<circle cx="732.4" cy="132.8" r="2.05"/>
<circle cx="699.7" cy="137.5" r="2.05"/>
<circle cx="790.7" cy="122.9" r="2.05"/>
<circle cx="765.2" cy="136.8" r="2.05"/>
<circle cx="789.6" cy="131.6" r="2.05"/>
<circle cx="744.1" cy="137.3" r="2.05"/>
<circle cx="739" cy="126.1" r="2.05"/>
<circle cx="699.5" cy="121.8" r="2.05"/>
<circle cx="784" cy="140.9" r="2.05"/>
<circle cx="785.5" cy="145.2" r="2.05"/>
<circle cx="759.3" cy="130.3" r="2.05"/>
<circle cx="711.6" cy="126.9" r="2.05"/>
<circle cx="701.3" cy="138" r="2.05"/>
<circle cx="726.2" cy="173.8" r="2.05"/>
<circle cx="715.9" cy="164" r="2.05"/>
<circle cx="784.7" cy="152.4" r="2.05"/>
<circle cx="714.3" cy="132.8" r="2.05"/>
<circle cx="767.6" cy="163.3" r="2.05"/>
<circle cx="729" cy="122.9" r="2.05"/>
<circle cx="728.4" cy="104.7" r="2.05"/>
<circle cx="732.9" cy="153.6" r="2.05"/>
<circle cx="775.8" cy="132.1" r="2.05"/>
<circle cx="720.9" cy="115.2" r="2.05"/>
<circle cx="757" cy="124.4" r="2.05"/>
<circle cx="774.8" cy="138" r="2.05"/>
<circle cx="786.4" cy="163.7" r="2.05"/>
<circle cx="744.6" cy="144.7" r="2.05"/>
<circle cx="726.5" cy="137.7" r="2.05"/>
<circle cx="752.6" cy="106.3" r="2.05"/>
<circle cx="713.9" cy="126.6" r="2.05"/>
<circle cx="739.8" cy="126.6" r="2.05"/>
<circle cx="702.4" cy="144.9" r="2.05"/>
<circle cx="739.5" cy="123.7" r="2.05"/>
<circle cx="699" cy="115.7" r="2.05"/>
<circle cx="776.7" cy="105.6" r="2.05"/>
<circle cx="738.2" cy="161.5" r="2.05"/>
<circle cx="725" cy="150.2" r="2.05"/>
<circle cx="737.8" cy="154.6" r="2.05"/>
<circle cx="730.1" cy="163.1" r="2.05"/>
<circle cx="775.3" cy="115.9" r="2.05"/>
<circle cx="782.6" cy="116.6" r="2.05"/>
<circle cx="739.8" cy="121" r="2.05"/>
<circle cx="751" cy="139.4" r="2.05"/>
<circle cx="706.6" cy="132.1" r="2.05"/>
<circle cx="728.7" cy="186.4" r="2.05"/>
<circle cx="783" cy="112.2" r="2.05"/>
<circle cx="779" cy="133.4" r="2.05"/>
<circle cx="756.2" cy="128.4" r="2.05"/>
<circle cx="761.5" cy="135.9" r="2.05"/>
<circle cx="755.2" cy="138.3" r="2.05"/>
<circle cx="787.1" cy="151" r="2.05"/>
<circle cx="726.5" cy="134.4" r="2.05"/>
<circle cx="730.6" cy="133.4" r="2.05"/>
<circle cx="716.2" cy="143.1" r="2.05"/>
<circle cx="761.7" cy="137.2" r="2.05"/>
<circle cx="859.5" cy="122" r="2.05"/>
<circle cx="863.6" cy="132.5" r="2.05"/>
<circle cx="851.2" cy="143.1" r="2.05"/>
<circle cx="876" cy="116.7" r="2.05"/>
<circle cx="869.8" cy="169.6" r="2.05"/>
<circle cx="805.9" cy="164.3" r="2.05"/>
<circle cx="818.3" cy="143.1" r="2.05"/>
<circle cx="810" cy="153.7" r="2.05"/>
<circle cx="770.9" cy="196" r="2.05"/>
<circle cx="789.4" cy="196" r="2.05"/>
<circle cx="739.9" cy="211.9" r="2.05"/>
<circle cx="713.1" cy="230.4" r="2.05"/>
<circle cx="663.7" cy="201.3" r="2.05"/>
<circle cx="669.9" cy="211.9" r="2.05"/>
<circle cx="674" cy="227.8" r="2.05"/>
<circle cx="657.5" cy="306" r="2.05"/>
<circle cx="729.6" cy="230.4" r="2.05"/>
<circle cx="694.6" cy="209.2" r="2.05"/>
<circle cx="760.6" cy="196" r="2.05"/>
</g>
<path d="M658.2 161.6 L667.5 159.5 L676.8 157.3 L686 155 L695.3 152.6 L704.6 150.1 L713.9 147.6 L723.2 144.9 L732.4 142.3 L741.7 139.5 L751 136.7 L760.3 133.9 L769.5 131.1 L778.8 128.1 L788.1 125.2 L797.4 122.1 L806.7 119.1 L815.9 116 L825.2 112.8 L834.5 109.6 L843.8 106.4 L853.1 103.1 L862.3 99.7 L871.6 96.3 L880.9 92.9 L880.9 110.9 L871.6 112.7 L862.3 114.5 L853.1 116.4 L843.8 118.3 L834.5 120.3 L825.2 122.3 L815.9 124.4 L806.7 126.5 L797.4 128.7 L788.1 130.9 L778.8 133.1 L769.5 135.4 L760.3 137.8 L751 140.2 L741.7 142.7 L732.4 145.1 L723.2 147.7 L713.9 150.3 L704.6 152.9 L695.3 155.7 L686 158.5 L676.8 161.5 L667.5 164.5 L658.2 167.6Z" fill="#999" fill-opacity=".4"/>
<line x1="658.2" y1="164.6" x2="880.9" y2="101.9" stroke="#3366ff" stroke-width="2.2"/>
<rect x="646.4" y="81.5" width="247.2" height="234" fill="none" stroke="#333" stroke-width="1.1"/>
<text x="891.1" y="94.9" font-size="12.1" text-anchor="end" fill="#e01c1c" font-family="DejaVu Sans, sans-serif">Rho = 0.4</text>
<text x="891.1" y="106.7" font-size="12.1" text-anchor="end" fill="#e01c1c" font-family="DejaVu Sans, sans-serif">p = 2.08e-20</text>
<line x1="657.5" y1="315.5" x2="657.5" y2="319.7" stroke="#222" stroke-width="1.4"/>
<text x="657.5" y="333.5" font-size="13.2" text-anchor="middle" fill="#333" font-family="DejaVu Sans, sans-serif">0.0</text>
<line x1="719.3" y1="315.5" x2="719.3" y2="319.7" stroke="#222" stroke-width="1.4"/>
<text x="719.3" y="333.5" font-size="13.2" text-anchor="middle" fill="#333" font-family="DejaVu Sans, sans-serif">0.3</text>
<line x1="781.2" y1="315.5" x2="781.2" y2="319.7" stroke="#222" stroke-width="1.4"/>
<text x="781.2" y="333.5" font-size="13.2" text-anchor="middle" fill="#333" font-family="DejaVu Sans, sans-serif">0.6</text>
<line x1="843" y1="315.5" x2="843" y2="319.7" stroke="#222" stroke-width="1.4"/>
<text x="843" y="333.5" font-size="13.2" text-anchor="middle" fill="#333" font-family="DejaVu Sans, sans-serif">0.9</text>
<rect x="905.9" y="56.5" width="245.4" height="25.0" fill="#d9d9d9" stroke="#4d4d4d" stroke-width="1.3"/>
<text x="1028.6" y="74" font-size="13.3" text-anchor="middle" fill="#1a1a1a" font-family="DejaVu Sans, sans-serif">T cell CD4+_TIMER</text>
<line x1="905.9" y1="81.5" x2="1151.3" y2="81.5" stroke="#1a1a1a" stroke-width="1.7"/>
<line x1="948.4" y1="81.5" x2="948.4" y2="314.9" stroke="#eeeeee" stroke-width="1.2"/>
<line x1="1011.6" y1="81.5" x2="1011.6" y2="314.9" stroke="#eeeeee" stroke-width="1.2"/>
<line x1="1074.9" y1="81.5" x2="1074.9" y2="314.9" stroke="#eeeeee" stroke-width="1.2"/>
<line x1="1138.2" y1="81.5" x2="1138.2" y2="314.9" stroke="#eeeeee" stroke-width="1.2"/>
<line x1="905.9" y1="306.1" x2="1151.3" y2="306.1" stroke="#eeeeee" stroke-width="1.2"/>
<line x1="905.9" y1="279.2" x2="1151.3" y2="279.2" stroke="#e5e5e5" stroke-width="1.7"/>
<line x1="905.9" y1="252.4" x2="1151.3" y2="252.4" stroke="#eeeeee" stroke-width="1.2"/>
<line x1="905.9" y1="225.6" x2="1151.3" y2="225.6" stroke="#e5e5e5" stroke-width="1.7"/>
<line x1="905.9" y1="198.7" x2="1151.3" y2="198.7" stroke="#eeeeee" stroke-width="1.2"/>
<line x1="905.9" y1="171.9" x2="1151.3" y2="171.9" stroke="#e5e5e5" stroke-width="1.7"/>
<line x1="905.9" y1="145" x2="1151.3" y2="145" stroke="#eeeeee" stroke-width="1.2"/>
<line x1="905.9" y1="118.2" x2="1151.3" y2="118.2" stroke="#e5e5e5" stroke-width="1.7"/>
<line x1="905.9" y1="91.3" x2="1151.3" y2="91.3" stroke="#eeeeee" stroke-width="1.2"/>
<line x1="916.7" y1="81.5" x2="916.7" y2="314.9" stroke="#e5e5e5" stroke-width="1.7"/>
<line x1="980" y1="81.5" x2="980" y2="314.9" stroke="#e5e5e5" stroke-width="1.7"/>
<line x1="1043.3" y1="81.5" x2="1043.3" y2="314.9" stroke="#e5e5e5" stroke-width="1.7"/>
<line x1="1106.6" y1="81.5" x2="1106.6" y2="314.9" stroke="#e5e5e5" stroke-width="1.7"/>
<g fill="#000" fill-opacity=".32" stroke="#000" stroke-opacity=".5" stroke-width="1.1">
<circle cx="916.7" cy="152.4" r="2.05"/>
<circle cx="916.7" cy="168.2" r="2.05"/>
<circle cx="916.7" cy="175.5" r="2.05"/>
<circle cx="916.7" cy="177.7" r="2.05"/>
<circle cx="916.7" cy="167.9" r="2.05"/>
<circle cx="916.7" cy="186.4" r="2.05"/>
<circle cx="916.7" cy="161.6" r="2.05"/>
<circle cx="916.7" cy="165.2" r="2.05"/>
<circle cx="916.7" cy="148.5" r="2.05"/>
<circle cx="916.7" cy="134.3" r="2.05"/>
<circle cx="916.7" cy="167" r="2.05"/>
<circle cx="916.7" cy="159.3" r="2.05"/>
<circle cx="916.7" cy="143.8" r="2.05"/>
<circle cx="916.7" cy="169.8" r="2.05"/>
<circle cx="916.7" cy="131.1" r="2.05"/>
<circle cx="916.7" cy="139" r="2.05"/>
<circle cx="916.7" cy="156" r="2.05"/>
<circle cx="916.7" cy="127.7" r="2.05"/>
<circle cx="916.7" cy="172.1" r="2.05"/>
<circle cx="916.7" cy="161.5" r="2.05"/>
<circle cx="916.7" cy="166.4" r="2.05"/>
<circle cx="916.7" cy="161" r="2.05"/>
<circle cx="916.7" cy="187.8" r="2.05"/>
<circle cx="916.7" cy="158.4" r="2.05"/>
<circle cx="916.7" cy="134.1" r="2.05"/>
<circle cx="916.7" cy="143.8" r="2.05"/>
<circle cx="916.7" cy="132.5" r="2.05"/>
<circle cx="916.7" cy="144.2" r="2.05"/>
<circle cx="916.7" cy="135.7" r="2.05"/>
<circle cx="916.7" cy="178.9" r="2.05"/>
<circle cx="916.7" cy="164.7" r="2.05"/>
<circle cx="916.7" cy="195.4" r="2.05"/>
<circle cx="916.7" cy="157.7" r="2.05"/>
<circle cx="916.7" cy="166.8" r="2.05"/>
<circle cx="916.7" cy="144.1" r="2.05"/>
<circle cx="916.7" cy="176.8" r="2.05"/>
<circle cx="916.7" cy="126.6" r="2.05"/>
<circle cx="916.7" cy="194.2" r="2.05"/>
<circle cx="916.7" cy="171.8" r="2.05"/>
<circle cx="916.7" cy="128.4" r="2.05"/>
<circle cx="916.7" cy="124.1" r="2.05"/>
<circle cx="916.7" cy="139.1" r="2.05"/>
<circle cx="916.7" cy="149.5" r="2.05"/>
<circle cx="916.7" cy="158.7" r="2.05"/>
<circle cx="916.7" cy="152.7" r="2.05"/>
<circle cx="916.7" cy="169.6" r="2.05"/>
<circle cx="916.7" cy="165.1" r="2.05"/>
<circle cx="916.7" cy="167.4" r="2.05"/>
<circle cx="916.7" cy="119.7" r="2.05"/>
<circle cx="916.7" cy="201" r="2.05"/>
<circle cx="916.7" cy="133" r="2.05"/>
<circle cx="916.7" cy="191.2" r="2.05"/>
<circle cx="916.7" cy="189.6" r="2.05"/>
<circle cx="916.7" cy="176.5" r="2.05"/>
<circle cx="916.7" cy="145.7" r="2.05"/>
<circle cx="916.7" cy="166.4" r="2.05"/>
<circle cx="916.7" cy="156.4" r="2.05"/>
<circle cx="916.7" cy="177.8" r="2.05"/>
<circle cx="916.7" cy="152.6" r="2.05"/>
<circle cx="916.7" cy="192.1" r="2.05"/>
<circle cx="916.7" cy="150.1" r="2.05"/>
<circle cx="916.7" cy="166.7" r="2.05"/>
<circle cx="916.7" cy="183.3" r="2.05"/>
<circle cx="916.7" cy="127.5" r="2.05"/>
<circle cx="916.7" cy="119.1" r="2.05"/>
<circle cx="916.7" cy="168.1" r="2.05"/>
<circle cx="916.7" cy="124.1" r="2.05"/>
<circle cx="916.7" cy="146.9" r="2.05"/>
<circle cx="916.7" cy="131" r="2.05"/>
<circle cx="916.7" cy="137.9" r="2.05"/>
<circle cx="916.7" cy="151.9" r="2.05"/>
<circle cx="916.7" cy="166.9" r="2.05"/>
<circle cx="916.7" cy="123.4" r="2.05"/>
<circle cx="916.7" cy="172.1" r="2.05"/>
<circle cx="916.7" cy="156.2" r="2.05"/>
<circle cx="916.7" cy="139.9" r="2.05"/>
<circle cx="916.7" cy="199.3" r="2.05"/>
<circle cx="916.7" cy="140.6" r="2.05"/>
<circle cx="916.7" cy="166.1" r="2.05"/>
<circle cx="916.7" cy="161.5" r="2.05"/>
<circle cx="916.7" cy="144.2" r="2.05"/>
<circle cx="916.7" cy="154.2" r="2.05"/>
<circle cx="916.7" cy="150.9" r="2.05"/>
<circle cx="916.7" cy="170.4" r="2.05"/>
<circle cx="916.7" cy="174.6" r="2.05"/>
<circle cx="916.7" cy="206.8" r="2.05"/>
<circle cx="916.7" cy="214.8" r="2.05"/>
<circle cx="916.7" cy="220.2" r="2.05"/>
<circle cx="916.7" cy="225.6" r="2.05"/>
<circle cx="916.7" cy="233.6" r="2.05"/>
<circle cx="916.7" cy="236.3" r="2.05"/>
<circle cx="916.7" cy="102" r="2.05"/>
<circle cx="916.7" cy="94" r="2.05"/>
<circle cx="943.4" cy="153.5" r="2.05"/>
<circle cx="928.5" cy="118.1" r="2.05"/>
<circle cx="988.1" cy="173.9" r="2.05"/>
<circle cx="941.3" cy="125.5" r="2.05"/>
<circle cx="940.7" cy="124.7" r="2.05"/>
<circle cx="951.8" cy="128.6" r="2.05"/>
<circle cx="972.7" cy="113.7" r="2.05"/>
<circle cx="919.4" cy="133.5" r="2.05"/>
<circle cx="953.3" cy="129.8" r="2.05"/>
<circle cx="919.2" cy="167.4" r="2.05"/>
<circle cx="966.8" cy="118.8" r="2.05"/>
<circle cx="988.4" cy="176.3" r="2.05"/>
<circle cx="979.9" cy="148.1" r="2.05"/>
<circle cx="943.9" cy="152.4" r="2.05"/>
<circle cx="964.5" cy="119.2" r="2.05"/>
<circle cx="930.4" cy="133.1" r="2.05"/>
<circle cx="953.9" cy="160.2" r="2.05"/>
<circle cx="970.4" cy="162" r="2.05"/>
<circle cx="939" cy="146.9" r="2.05"/>
<circle cx="952" cy="162" r="2.05"/>
<circle cx="939.7" cy="120.5" r="2.05"/>
<circle cx="953.3" cy="137.1" r="2.05"/>
<circle cx="949.3" cy="123.9" r="2.05"/>
<circle cx="978" cy="144" r="2.05"/>
<circle cx="968.7" cy="160" r="2.05"/>
<circle cx="949.9" cy="169.4" r="2.05"/>
<circle cx="937.7" cy="164.3" r="2.05"/>
<circle cx="979.7" cy="135.1" r="2.05"/>
<circle cx="956.2" cy="189" r="2.05"/>
<circle cx="955" cy="175.3" r="2.05"/>
<circle cx="935" cy="161.9" r="2.05"/>
<circle cx="941.6" cy="105.8" r="2.05"/>
<circle cx="989" cy="178.5" r="2.05"/>
<circle cx="941.5" cy="162.6" r="2.05"/>
<circle cx="953.2" cy="180.8" r="2.05"/>
<circle cx="920.3" cy="149.1" r="2.05"/>
<circle cx="932.2" cy="123.1" r="2.05"/>
<circle cx="943" cy="140.6" r="2.05"/>
<circle cx="939" cy="128.4" r="2.05"/>
<circle cx="977.1" cy="143.4" r="2.05"/>
<circle cx="938" cy="133" r="2.05"/>
<circle cx="952" cy="123.3" r="2.05"/>
<circle cx="951.8" cy="142.1" r="2.05"/>
<circle cx="967.9" cy="160.4" r="2.05"/>
<circle cx="920.9" cy="137.4" r="2.05"/>
<circle cx="945.3" cy="131.8" r="2.05"/>
<circle cx="968.3" cy="134.7" r="2.05"/>
<circle cx="936.2" cy="111.8" r="2.05"/>
<circle cx="939.6" cy="162.2" r="2.05"/>
<circle cx="921.1" cy="104.4" r="2.05"/>
<circle cx="941.5" cy="149.8" r="2.05"/>
<circle cx="963.5" cy="116.1" r="2.05"/>
<circle cx="972.2" cy="143.7" r="2.05"/>
<circle cx="953.8" cy="167.5" r="2.05"/>
<circle cx="955.9" cy="149.9" r="2.05"/>
<circle cx="937.2" cy="140.9" r="2.05"/>
<circle cx="947" cy="127.4" r="2.05"/>
<circle cx="964" cy="140.9" r="2.05"/>
<circle cx="945.7" cy="109.7" r="2.05"/>
<circle cx="954.7" cy="121.5" r="2.05"/>
<circle cx="959.8" cy="114.1" r="2.05"/>
<circle cx="972.5" cy="166.6" r="2.05"/>
<circle cx="962.6" cy="108.3" r="2.05"/>
<circle cx="981.3" cy="148.1" r="2.05"/>
<circle cx="987.9" cy="120.8" r="2.05"/>
<circle cx="965.3" cy="157.3" r="2.05"/>
<circle cx="959.9" cy="132.3" r="2.05"/>
<circle cx="933.8" cy="156.5" r="2.05"/>
<circle cx="920.9" cy="186.6" r="2.05"/>
<circle cx="954.9" cy="124.3" r="2.05"/>
<circle cx="949.8" cy="177" r="2.05"/>
<circle cx="920.3" cy="128.3" r="2.05"/>
<circle cx="945.7" cy="138.1" r="2.05"/>
<circle cx="943.7" cy="141.4" r="2.05"/>
<circle cx="934.9" cy="160.3" r="2.05"/>
<circle cx="918.7" cy="146.4" r="2.05"/>
<circle cx="948.8" cy="119.3" r="2.05"/>
<circle cx="1003.8" cy="134.4" r="2.05"/>
<circle cx="951.3" cy="170.4" r="2.05"/>
<circle cx="980.7" cy="130.4" r="2.05"/>
<circle cx="946.5" cy="164.5" r="2.05"/>
<circle cx="961.4" cy="135.8" r="2.05"/>
<circle cx="975.2" cy="111.6" r="2.05"/>
<circle cx="986.7" cy="118.4" r="2.05"/>
<circle cx="923.8" cy="134" r="2.05"/>
<circle cx="924.3" cy="162.1" r="2.05"/>
<circle cx="932.2" cy="171.7" r="2.05"/>
<circle cx="931" cy="113.8" r="2.05"/>
<circle cx="948.1" cy="109" r="2.05"/>
<circle cx="953.4" cy="182.8" r="2.05"/>
<circle cx="935.1" cy="109.7" r="2.05"/>
<circle cx="975.8" cy="145.2" r="2.05"/>
<circle cx="944.8" cy="117.8" r="2.05"/>
<circle cx="961.7" cy="147.5" r="2.05"/>
<circle cx="976.9" cy="140.1" r="2.05"/>
<circle cx="927" cy="178.9" r="2.05"/>
<circle cx="933.2" cy="140.8" r="2.05"/>
<circle cx="989.5" cy="135.7" r="2.05"/>
<circle cx="953" cy="138.7" r="2.05"/>
<circle cx="956.2" cy="172.4" r="2.05"/>
<circle cx="949.6" cy="122.1" r="2.05"/>
<circle cx="1001.1" cy="147.6" r="2.05"/>
<circle cx="960" cy="127" r="2.05"/>
<circle cx="984.8" cy="128.9" r="2.05"/>
<circle cx="943.2" cy="106.5" r="2.05"/>
<circle cx="957.4" cy="140.6" r="2.05"/>
<circle cx="920.4" cy="147.1" r="2.05"/>
<circle cx="926.1" cy="113.1" r="2.05"/>
<circle cx="929.6" cy="141.4" r="2.05"/>
<circle cx="959.2" cy="149.5" r="2.05"/>
<circle cx="949" cy="152.6" r="2.05"/>
<circle cx="935.2" cy="163.9" r="2.05"/>
<circle cx="955.4" cy="149.7" r="2.05"/>
<circle cx="927.5" cy="155.7" r="2.05"/>
<circle cx="999.9" cy="165.6" r="2.05"/>
<circle cx="938.1" cy="157" r="2.05"/>
<circle cx="949.7" cy="126.7" r="2.05"/>
<circle cx="934.2" cy="139.3" r="2.05"/>
<circle cx="961.5" cy="106.7" r="2.05"/>
<circle cx="937.5" cy="160.4" r="2.05"/>
<circle cx="966.5" cy="143.2" r="2.05"/>
<circle cx="937.4" cy="151.2" r="2.05"/>
<circle cx="981.2" cy="175.6" r="2.05"/>
<circle cx="945.6" cy="107.3" r="2.05"/>
<circle cx="958.5" cy="159.9" r="2.05"/>
<circle cx="936.5" cy="123" r="2.05"/>
<circle cx="960.8" cy="151.7" r="2.05"/>
<circle cx="936.8" cy="173.4" r="2.05"/>
<circle cx="920" cy="138.7" r="2.05"/>
<circle cx="962" cy="153.5" r="2.05"/>
<circle cx="966.6" cy="156.8" r="2.05"/>
<circle cx="958.8" cy="187.6" r="2.05"/>
<circle cx="969.5" cy="101.3" r="2.05"/>
<circle cx="969.9" cy="142.9" r="2.05"/>
<circle cx="961.3" cy="141.5" r="2.05"/>
<circle cx="953.2" cy="144.5" r="2.05"/>
<circle cx="961.5" cy="149.9" r="2.05"/>
<circle cx="949" cy="154.6" r="2.05"/>
<circle cx="967.5" cy="112.7" r="2.05"/>
<circle cx="968.2" cy="131.4" r="2.05"/>
<circle cx="982.8" cy="158.5" r="2.05"/>
<circle cx="998.8" cy="181.9" r="2.05"/>
<circle cx="966.9" cy="139.2" r="2.05"/>
<circle cx="959.4" cy="176.6" r="2.05"/>
<circle cx="977.3" cy="135.2" r="2.05"/>
<circle cx="952.8" cy="120.2" r="2.05"/>
<circle cx="953.7" cy="141.1" r="2.05"/>
<circle cx="970.6" cy="143.3" r="2.05"/>
<circle cx="958.6" cy="151.3" r="2.05"/>
<circle cx="937.1" cy="144.6" r="2.05"/>
<circle cx="936.5" cy="139.5" r="2.05"/>
<circle cx="944.6" cy="156.6" r="2.05"/>
<circle cx="947.9" cy="171" r="2.05"/>
<circle cx="966.8" cy="128.9" r="2.05"/>
<circle cx="939.8" cy="144.1" r="2.05"/>
<circle cx="940.3" cy="132.6" r="2.05"/>
<circle cx="998.1" cy="148.9" r="2.05"/>
<circle cx="947.7" cy="162.4" r="2.05"/>
<circle cx="958.2" cy="127.6" r="2.05"/>
<circle cx="956.3" cy="140.8" r="2.05"/>
<circle cx="925.7" cy="148" r="2.05"/>
<circle cx="928.8" cy="153.9" r="2.05"/>
<circle cx="986.1" cy="138.3" r="2.05"/>
<circle cx="932.9" cy="169.2" r="2.05"/>
<circle cx="921.3" cy="157.6" r="2.05"/>
<circle cx="998" cy="144.5" r="2.05"/>
<circle cx="945.1" cy="167.1" r="2.05"/>
<circle cx="939.6" cy="124" r="2.05"/>
<circle cx="973.1" cy="145.7" r="2.05"/>
<circle cx="931.6" cy="130.9" r="2.05"/>
<circle cx="1002.8" cy="108.1" r="2.05"/>
<circle cx="951" cy="128.7" r="2.05"/>
<circle cx="941.8" cy="162" r="2.05"/>
<circle cx="935.1" cy="144.9" r="2.05"/>
<circle cx="965.7" cy="110.3" r="2.05"/>
<circle cx="980.4" cy="130.8" r="2.05"/>
<circle cx="937.4" cy="112.5" r="2.05"/>
<circle cx="961.1" cy="157.8" r="2.05"/>
<circle cx="980.5" cy="159.9" r="2.05"/>
<circle cx="943.7" cy="144" r="2.05"/>
<circle cx="949.8" cy="145.4" r="2.05"/>
<circle cx="933.1" cy="176.2" r="2.05"/>
<circle cx="947.9" cy="128" r="2.05"/>
<circle cx="949.4" cy="169.9" r="2.05"/>
<circle cx="921.5" cy="173" r="2.05"/>
<circle cx="975.8" cy="163.3" r="2.05"/>
<circle cx="967.9" cy="168.2" r="2.05"/>
<circle cx="926.7" cy="160.6" r="2.05"/>
<circle cx="980" cy="156.7" r="2.05"/>
<circle cx="945.4" cy="158.2" r="2.05"/>
<circle cx="937.8" cy="124.1" r="2.05"/>
<circle cx="935.4" cy="150.7" r="2.05"/>
<circle cx="921.5" cy="163" r="2.05"/>
<circle cx="952.4" cy="111.7" r="2.05"/>
<circle cx="992.3" cy="167" r="2.05"/>
<circle cx="944.7" cy="185.5" r="2.05"/>
<circle cx="942.5" cy="144.1" r="2.05"/>
<circle cx="964.5" cy="131.9" r="2.05"/>
<circle cx="926.2" cy="173.6" r="2.05"/>
<circle cx="921" cy="111.6" r="2.05"/>
<circle cx="920.4" cy="126" r="2.05"/>
<circle cx="956.2" cy="123.1" r="2.05"/>
<circle cx="924.7" cy="137.5" r="2.05"/>
<circle cx="959.5" cy="143.4" r="2.05"/>
<circle cx="961" cy="168.4" r="2.05"/>
<circle cx="983.5" cy="165.4" r="2.05"/>
<circle cx="946.4" cy="125.4" r="2.05"/>
<circle cx="962.4" cy="108.3" r="2.05"/>
<circle cx="949.2" cy="168.8" r="2.05"/>
<circle cx="958.4" cy="132.1" r="2.05"/>
<circle cx="924.8" cy="126.8" r="2.05"/>
<circle cx="978.9" cy="159.7" r="2.05"/>
<circle cx="971.3" cy="140.4" r="2.05"/>
<circle cx="972.7" cy="153.8" r="2.05"/>
<circle cx="969.6" cy="127.3" r="2.05"/>
<circle cx="951.7" cy="151.1" r="2.05"/>
<circle cx="946.4" cy="129.1" r="2.05"/>
<circle cx="984" cy="143.9" r="2.05"/>
<circle cx="970.7" cy="140" r="2.05"/>
<circle cx="994.9" cy="112.8" r="2.05"/>
<circle cx="968.3" cy="132.9" r="2.05"/>
<circle cx="937.6" cy="181" r="2.05"/>
<circle cx="969.5" cy="158.4" r="2.05"/>
<circle cx="934.5" cy="122.4" r="2.05"/>
<circle cx="956.9" cy="167.5" r="2.05"/>
<circle cx="977.7" cy="148" r="2.05"/>
<circle cx="973.3" cy="166.5" r="2.05"/>
<circle cx="921.4" cy="160.6" r="2.05"/>
<circle cx="968.7" cy="187.6" r="2.05"/>
<circle cx="924.3" cy="125.3" r="2.05"/>
<circle cx="1009" cy="143.5" r="2.05"/>
<circle cx="927.7" cy="156.8" r="2.05"/>
<circle cx="931.6" cy="112" r="2.05"/>
<circle cx="967.1" cy="162.6" r="2.05"/>
<circle cx="969.9" cy="190.8" r="2.05"/>
<circle cx="951" cy="144" r="2.05"/>
<circle cx="944.5" cy="165.8" r="2.05"/>
<circle cx="935.4" cy="187.7" r="2.05"/>
<circle cx="960.6" cy="165.2" r="2.05"/>
<circle cx="963.6" cy="124.2" r="2.05"/>
<circle cx="933.7" cy="172.9" r="2.05"/>
<circle cx="951.5" cy="129" r="2.05"/>
<circle cx="918.4" cy="148.9" r="2.05"/>
<circle cx="925.9" cy="113.8" r="2.05"/>
<circle cx="959" cy="179.8" r="2.05"/>
<circle cx="936.4" cy="144.3" r="2.05"/>
<circle cx="938.1" cy="143.9" r="2.05"/>
<circle cx="959.3" cy="139.1" r="2.05"/>
<circle cx="939.9" cy="113.2" r="2.05"/>
<circle cx="970.8" cy="149.1" r="2.05"/>
<circle cx="946.8" cy="159.6" r="2.05"/>
<circle cx="920.6" cy="154.8" r="2.05"/>
<circle cx="950.8" cy="152.7" r="2.05"/>
<circle cx="926.9" cy="186.8" r="2.05"/>
<circle cx="969.6" cy="184.1" r="2.05"/>
<circle cx="963" cy="126.9" r="2.05"/>
<circle cx="947.3" cy="144.8" r="2.05"/>
<circle cx="968.9" cy="143.7" r="2.05"/>
<circle cx="948.3" cy="125" r="2.05"/>
<circle cx="948.4" cy="99.8" r="2.05"/>
<circle cx="923.3" cy="156.3" r="2.05"/>
<circle cx="943.2" cy="141.5" r="2.05"/>
<circle cx="933.9" cy="103.3" r="2.05"/>
<circle cx="964.9" cy="184.9" r="2.05"/>
<circle cx="949.2" cy="129.2" r="2.05"/>
<circle cx="977.8" cy="132.5" r="2.05"/>
<circle cx="931.3" cy="128.2" r="2.05"/>
<circle cx="918.6" cy="145.4" r="2.05"/>
<circle cx="921.6" cy="116.9" r="2.05"/>
<circle cx="966.3" cy="149.5" r="2.05"/>
<circle cx="947.3" cy="155.5" r="2.05"/>
<circle cx="976.9" cy="166" r="2.05"/>
<circle cx="966.5" cy="150.7" r="2.05"/>
<circle cx="966.9" cy="137.2" r="2.05"/>
<circle cx="931" cy="156.2" r="2.05"/>
<circle cx="928.1" cy="167.3" r="2.05"/>
<circle cx="935.6" cy="123.3" r="2.05"/>
<circle cx="939.7" cy="139.7" r="2.05"/>
<circle cx="944.3" cy="174.3" r="2.05"/>
<circle cx="963.6" cy="100.1" r="2.05"/>
<circle cx="964.3" cy="115.5" r="2.05"/>
<circle cx="963.9" cy="121.2" r="2.05"/>
<circle cx="998.5" cy="176.9" r="2.05"/>
<circle cx="934" cy="179.7" r="2.05"/>
<circle cx="950.3" cy="152.8" r="2.05"/>
<circle cx="932.3" cy="135.7" r="2.05"/>
<circle cx="993.9" cy="109.1" r="2.05"/>
<circle cx="992" cy="137.2" r="2.05"/>
<circle cx="960.5" cy="110.6" r="2.05"/>
<circle cx="973.4" cy="119.7" r="2.05"/>
<circle cx="1026.7" cy="142.1" r="2.05"/>
<circle cx="988.6" cy="118" r="2.05"/>
<circle cx="978.9" cy="156.4" r="2.05"/>
<circle cx="969.6" cy="144" r="2.05"/>
<circle cx="1043.6" cy="139.6" r="2.05"/>
<circle cx="992.1" cy="137.5" r="2.05"/>
<circle cx="994.4" cy="116.5" r="2.05"/>
<circle cx="1017.4" cy="115.3" r="2.05"/>
<circle cx="995" cy="107.5" r="2.05"/>
<circle cx="1044.1" cy="116.4" r="2.05"/>
<circle cx="1057.2" cy="107.5" r="2.05"/>
<circle cx="1001.3" cy="122.1" r="2.05"/>
<circle cx="1025" cy="133.1" r="2.05"/>
<circle cx="985.4" cy="148.2" r="2.05"/>
<circle cx="1008.3" cy="140.6" r="2.05"/>
<circle cx="1033.3" cy="160" r="2.05"/>
<circle cx="975" cy="130.4" r="2.05"/>
<circle cx="1042.8" cy="105.9" r="2.05"/>
<circle cx="1058.8" cy="105.3" r="2.05"/>
<circle cx="1053.4" cy="148.3" r="2.05"/>
<circle cx="997.2" cy="141.9" r="2.05"/>
<circle cx="1035.4" cy="176.4" r="2.05"/>
<circle cx="973" cy="141.1" r="2.05"/>
<circle cx="1010.2" cy="122.5" r="2.05"/>
<circle cx="1015.5" cy="155.7" r="2.05"/>
<circle cx="972.6" cy="133" r="2.05"/>
<circle cx="1049" cy="123.4" r="2.05"/>
<circle cx="1044.4" cy="128.9" r="2.05"/>
<circle cx="967.3" cy="180.3" r="2.05"/>
<circle cx="996.9" cy="166.5" r="2.05"/>
<circle cx="1053.8" cy="136.9" r="2.05"/>
<circle cx="995.8" cy="144.4" r="2.05"/>
<circle cx="1006.9" cy="138" r="2.05"/>
<circle cx="981.2" cy="111.9" r="2.05"/>
<circle cx="1039" cy="137.2" r="2.05"/>
<circle cx="1017.3" cy="131" r="2.05"/>
<circle cx="973.3" cy="171.5" r="2.05"/>
<circle cx="1020.7" cy="147" r="2.05"/>
<circle cx="1008" cy="117.6" r="2.05"/>
<circle cx="973.4" cy="137.4" r="2.05"/>
<circle cx="1025.6" cy="120.9" r="2.05"/>
<circle cx="997.7" cy="122.3" r="2.05"/>
<circle cx="999.8" cy="144.7" r="2.05"/>
<circle cx="980.3" cy="150.3" r="2.05"/>
<circle cx="1053.6" cy="150.5" r="2.05"/>
<circle cx="1047.1" cy="104.7" r="2.05"/>
<circle cx="1009.8" cy="133.5" r="2.05"/>
<circle cx="1047.6" cy="128" r="2.05"/>
<circle cx="975.3" cy="163.7" r="2.05"/>
<circle cx="975.3" cy="141.2" r="2.05"/>
<circle cx="1008.6" cy="127" r="2.05"/>
<circle cx="1012.3" cy="119.1" r="2.05"/>
<circle cx="999" cy="133.5" r="2.05"/>
<circle cx="983.5" cy="123.8" r="2.05"/>
<circle cx="976.2" cy="139.3" r="2.05"/>
<circle cx="1011.8" cy="135.6" r="2.05"/>
<circle cx="1053.7" cy="135.7" r="2.05"/>
<circle cx="1010.5" cy="132.3" r="2.05"/>
<circle cx="1029.6" cy="158.5" r="2.05"/>
<circle cx="985.9" cy="140.6" r="2.05"/>
<circle cx="989.3" cy="150.5" r="2.05"/>
<circle cx="967.1" cy="159.3" r="2.05"/>
<circle cx="991.9" cy="126.7" r="2.05"/>
<circle cx="1048.7" cy="114.1" r="2.05"/>
<circle cx="986.4" cy="128.8" r="2.05"/>
<circle cx="1020.7" cy="131.2" r="2.05"/>
<circle cx="970.1" cy="169.5" r="2.05"/>
<circle cx="987.5" cy="181.5" r="2.05"/>
<circle cx="968.1" cy="172" r="2.05"/>
<circle cx="1022.9" cy="148.5" r="2.05"/>
<circle cx="996.7" cy="169.9" r="2.05"/>
<circle cx="1041.1" cy="173.8" r="2.05"/>
<circle cx="965.2" cy="133.3" r="2.05"/>
<circle cx="1053.5" cy="149.2" r="2.05"/>
<circle cx="972.5" cy="132.5" r="2.05"/>
<circle cx="987.4" cy="143.2" r="2.05"/>
<circle cx="978.5" cy="168" r="2.05"/>
<circle cx="996.9" cy="132" r="2.05"/>
<circle cx="985" cy="131.6" r="2.05"/>
<circle cx="995.6" cy="148.8" r="2.05"/>
<circle cx="1074.9" cy="161.1" r="2.05"/>
<circle cx="1084.4" cy="171.9" r="2.05"/>
<circle cx="1106.6" cy="126.2" r="2.05"/>
<circle cx="1119.3" cy="163.8" r="2.05"/>
<circle cx="1125.6" cy="139.6" r="2.05"/>
<circle cx="1138.2" cy="128.9" r="2.05"/>
<circle cx="1109.8" cy="155.7" r="2.05"/>
<circle cx="1097.1" cy="171.9" r="2.05"/>
<circle cx="1059.1" cy="171.9" r="2.05"/>
<circle cx="1049.6" cy="150.4" r="2.05"/>
<circle cx="916.7" cy="305" r="2.05"/>
<circle cx="923" cy="214.8" r="2.05"/>
<circle cx="932.5" cy="214.8" r="2.05"/>
<circle cx="938.9" cy="214.8" r="2.05"/>
<circle cx="948.4" cy="225.6" r="2.05"/>
<circle cx="942" cy="220.2" r="2.05"/>
<circle cx="970.5" cy="209.4" r="2.05"/>
<circle cx="986.3" cy="198.7" r="2.05"/>
</g>
<path d="M917.2 153.6 L926.5 152.8 L935.8 151.8 L945 150.8 L954.3 149.7 L963.6 148.5 L972.9 147.2 L982.2 145.8 L991.4 144.4 L1000.7 142.9 L1010 141.4 L1019.3 139.7 L1028.6 138.1 L1037.8 136.3 L1047.1 134.6 L1056.4 132.7 L1065.7 130.8 L1074.9 128.8 L1084.2 126.8 L1093.5 124.7 L1102.8 122.6 L1112.1 120.4 L1121.3 118.1 L1130.6 115.8 L1139.9 113.4 L1139.9 135.4 L1130.6 135.7 L1121.3 136.1 L1112.1 136.5 L1102.8 137 L1093.5 137.5 L1084.2 138.1 L1074.9 138.7 L1065.7 139.5 L1056.4 140.2 L1047.1 141.1 L1037.8 142 L1028.6 142.9 L1019.3 143.9 L1010 145 L1000.7 146.1 L991.4 147.3 L982.2 148.6 L972.9 149.9 L963.6 151.3 L954.3 152.8 L945 154.3 L935.8 156 L926.5 157.8 L917.2 159.6Z" fill="#999" fill-opacity=".4"/>
<line x1="917.2" y1="156.6" x2="1139.9" y2="124.4" stroke="#3366ff" stroke-width="2.2"/>
<rect x="905.9" y="81.5" width="245.4" height="233.4" fill="none" stroke="#333" stroke-width="1.1"/>
<text x="1148.8" y="94.9" font-size="12.1" text-anchor="end" fill="#e01c1c" font-family="DejaVu Sans, sans-serif">Rho = 0.118</text>
<text x="1148.8" y="106.7" font-size="12.1" text-anchor="end" fill="#e01c1c" font-family="DejaVu Sans, sans-serif">p = 8.61e-03</text>
<line x1="916.7" y1="314.9" x2="916.7" y2="319.09999999999997" stroke="#222" stroke-width="1.4"/>
<text x="916.7" y="332.9" font-size="13.2" text-anchor="middle" fill="#333" font-family="DejaVu Sans, sans-serif">0.0</text>
<line x1="980" y1="314.9" x2="980" y2="319.09999999999997" stroke="#222" stroke-width="1.4"/>
<text x="980" y="332.9" font-size="13.2" text-anchor="middle" fill="#333" font-family="DejaVu Sans, sans-serif">0.2</text>
<line x1="1043.3" y1="314.9" x2="1043.3" y2="319.09999999999997" stroke="#222" stroke-width="1.4"/>
<text x="1043.3" y="332.9" font-size="13.2" text-anchor="middle" fill="#333" font-family="DejaVu Sans, sans-serif">0.4</text>
<line x1="1106.6" y1="314.9" x2="1106.6" y2="319.09999999999997" stroke="#222" stroke-width="1.4"/>
<text x="1106.6" y="332.9" font-size="13.2" text-anchor="middle" fill="#333" font-family="DejaVu Sans, sans-serif">0.6</text>
<rect x="1164.3" y="56.5" width="245.5" height="25.0" fill="#d9d9d9" stroke="#4d4d4d" stroke-width="1.3"/>
<text x="1287" y="74" font-size="13.3" text-anchor="middle" fill="#1a1a1a" font-family="DejaVu Sans, sans-serif">Myeloid dendritic cell_TIMER</text>
<line x1="1164.3" y1="81.5" x2="1409.8" y2="81.5" stroke="#1a1a1a" stroke-width="1.7"/>
<line x1="1212.5" y1="81.5" x2="1212.5" y2="314.3" stroke="#eeeeee" stroke-width="1.2"/>
<line x1="1289.8" y1="81.5" x2="1289.8" y2="314.3" stroke="#eeeeee" stroke-width="1.2"/>
<line x1="1367.2" y1="81.5" x2="1367.2" y2="314.3" stroke="#eeeeee" stroke-width="1.2"/>
<line x1="1164.3" y1="305.8" x2="1409.8" y2="305.8" stroke="#eeeeee" stroke-width="1.2"/>
<line x1="1164.3" y1="279.4" x2="1409.8" y2="279.4" stroke="#e5e5e5" stroke-width="1.7"/>
<line x1="1164.3" y1="252.9" x2="1409.8" y2="252.9" stroke="#eeeeee" stroke-width="1.2"/>
<line x1="1164.3" y1="226.5" x2="1409.8" y2="226.5" stroke="#e5e5e5" stroke-width="1.7"/>
<line x1="1164.3" y1="200" x2="1409.8" y2="200" stroke="#eeeeee" stroke-width="1.2"/>
<line x1="1164.3" y1="173.6" x2="1409.8" y2="173.6" stroke="#e5e5e5" stroke-width="1.7"/>
<line x1="1164.3" y1="147.1" x2="1409.8" y2="147.1" stroke="#eeeeee" stroke-width="1.2"/>
<line x1="1164.3" y1="120.7" x2="1409.8" y2="120.7" stroke="#e5e5e5" stroke-width="1.7"/>
<line x1="1164.3" y1="94.2" x2="1409.8" y2="94.2" stroke="#eeeeee" stroke-width="1.2"/>
<line x1="1173.8" y1="81.5" x2="1173.8" y2="314.3" stroke="#e5e5e5" stroke-width="1.7"/>
<line x1="1251.2" y1="81.5" x2="1251.2" y2="314.3" stroke="#e5e5e5" stroke-width="1.7"/>
<line x1="1328.5" y1="81.5" x2="1328.5" y2="314.3" stroke="#e5e5e5" stroke-width="1.7"/>
<line x1="1405.9" y1="81.5" x2="1405.9" y2="314.3" stroke="#e5e5e5" stroke-width="1.7"/>
<g fill="#000" fill-opacity=".32" stroke="#000" stroke-opacity=".5" stroke-width="1.1">
<circle cx="1251" cy="177.2" r="2.05"/>
<circle cx="1188.1" cy="172.5" r="2.05"/>
<circle cx="1285.1" cy="161.9" r="2.05"/>
<circle cx="1228.4" cy="171.2" r="2.05"/>
<circle cx="1199.6" cy="199.8" r="2.05"/>
<circle cx="1245" cy="164.2" r="2.05"/>
<circle cx="1236.1" cy="177.7" r="2.05"/>
<circle cx="1284" cy="159.1" r="2.05"/>
<circle cx="1196.6" cy="142.8" r="2.05"/>
<circle cx="1285.5" cy="160.1" r="2.05"/>
<circle cx="1240" cy="198.2" r="2.05"/>
<circle cx="1255.2" cy="179.5" r="2.05"/>
<circle cx="1188.8" cy="156.5" r="2.05"/>
<circle cx="1255.3" cy="195.2" r="2.05"/>
<circle cx="1218" cy="109.5" r="2.05"/>
<circle cx="1227.1" cy="116.9" r="2.05"/>
<circle cx="1296" cy="134.1" r="2.05"/>
<circle cx="1219" cy="154.6" r="2.05"/>
<circle cx="1222.8" cy="154" r="2.05"/>
<circle cx="1274.3" cy="143" r="2.05"/>
<circle cx="1277.8" cy="115.7" r="2.05"/>
<circle cx="1216.2" cy="169.5" r="2.05"/>
<circle cx="1212" cy="157.1" r="2.05"/>
<circle cx="1188.1" cy="194.8" r="2.05"/>
<circle cx="1256.4" cy="171.1" r="2.05"/>
<circle cx="1280.3" cy="126.4" r="2.05"/>
<circle cx="1256.4" cy="168.3" r="2.05"/>
<circle cx="1193.2" cy="195.2" r="2.05"/>
<circle cx="1242.7" cy="157.4" r="2.05"/>
<circle cx="1236.3" cy="157.2" r="2.05"/>
<circle cx="1285.4" cy="115.5" r="2.05"/>
<circle cx="1205.1" cy="152.8" r="2.05"/>
<circle cx="1214.9" cy="159.1" r="2.05"/>
<circle cx="1248.4" cy="133.3" r="2.05"/>
<circle cx="1266" cy="173.4" r="2.05"/>
<circle cx="1238.4" cy="147.6" r="2.05"/>
<circle cx="1235.6" cy="123.5" r="2.05"/>
<circle cx="1199.3" cy="157.8" r="2.05"/>
<circle cx="1247.4" cy="164.4" r="2.05"/>
<circle cx="1238.2" cy="162.8" r="2.05"/>
<circle cx="1250.6" cy="165.5" r="2.05"/>
<circle cx="1231.4" cy="103.7" r="2.05"/>
<circle cx="1227.6" cy="148.3" r="2.05"/>
<circle cx="1274.6" cy="164.5" r="2.05"/>
<circle cx="1266.2" cy="161.5" r="2.05"/>
<circle cx="1242" cy="158.4" r="2.05"/>
<circle cx="1263.5" cy="109.8" r="2.05"/>
<circle cx="1261.7" cy="126.1" r="2.05"/>
<circle cx="1261.1" cy="149.4" r="2.05"/>
<circle cx="1273.9" cy="153.5" r="2.05"/>
<circle cx="1250.5" cy="168.6" r="2.05"/>
<circle cx="1233.3" cy="150.2" r="2.05"/>
<circle cx="1183.6" cy="189" r="2.05"/>
<circle cx="1211.9" cy="167.3" r="2.05"/>
<circle cx="1300.9" cy="156.9" r="2.05"/>
<circle cx="1235.7" cy="165.3" r="2.05"/>
<circle cx="1218" cy="180.3" r="2.05"/>
<circle cx="1270.2" cy="152" r="2.05"/>
<circle cx="1218.7" cy="189.8" r="2.05"/>
<circle cx="1215.1" cy="145.4" r="2.05"/>
<circle cx="1211.8" cy="208.8" r="2.05"/>
<circle cx="1212.5" cy="165" r="2.05"/>
<circle cx="1252.4" cy="153.4" r="2.05"/>
<circle cx="1265.7" cy="177" r="2.05"/>
<circle cx="1210.3" cy="174.5" r="2.05"/>
<circle cx="1242.3" cy="202.3" r="2.05"/>
<circle cx="1235.1" cy="194.5" r="2.05"/>
<circle cx="1268.7" cy="142.7" r="2.05"/>
<circle cx="1291.8" cy="129.8" r="2.05"/>
<circle cx="1231" cy="184" r="2.05"/>
<circle cx="1220.7" cy="141.3" r="2.05"/>
<circle cx="1250.8" cy="153.3" r="2.05"/>
<circle cx="1197.6" cy="177.3" r="2.05"/>
<circle cx="1293.4" cy="146.1" r="2.05"/>
<circle cx="1279.4" cy="197.5" r="2.05"/>
<circle cx="1282.8" cy="166.2" r="2.05"/>
<circle cx="1196.9" cy="180" r="2.05"/>
<circle cx="1214.8" cy="130.5" r="2.05"/>
<circle cx="1230.7" cy="165.8" r="2.05"/>
<circle cx="1218.6" cy="147.9" r="2.05"/>
<circle cx="1276.3" cy="126.4" r="2.05"/>
<circle cx="1193" cy="178.5" r="2.05"/>
<circle cx="1255.8" cy="196.4" r="2.05"/>
<circle cx="1235.5" cy="138.7" r="2.05"/>
<circle cx="1285" cy="132.5" r="2.05"/>
<circle cx="1265.4" cy="130.4" r="2.05"/>
<circle cx="1250.5" cy="195.9" r="2.05"/>
<circle cx="1296.1" cy="124.2" r="2.05"/>
<circle cx="1237.2" cy="176.6" r="2.05"/>
<circle cx="1311" cy="126.9" r="2.05"/>
<circle cx="1267.6" cy="157.2" r="2.05"/>
<circle cx="1247.5" cy="155.3" r="2.05"/>
<circle cx="1272.8" cy="188.7" r="2.05"/>
<circle cx="1294.4" cy="140.2" r="2.05"/>
<circle cx="1262.7" cy="128.5" r="2.05"/>
<circle cx="1223.5" cy="145.2" r="2.05"/>
<circle cx="1204.3" cy="164.4" r="2.05"/>
<circle cx="1215.4" cy="142.7" r="2.05"/>
<circle cx="1284.4" cy="169.8" r="2.05"/>
<circle cx="1249.2" cy="171" r="2.05"/>
<circle cx="1196.5" cy="173.8" r="2.05"/>
<circle cx="1270.9" cy="122.6" r="2.05"/>
<circle cx="1223.1" cy="169.3" r="2.05"/>
<circle cx="1284.3" cy="144.2" r="2.05"/>
<circle cx="1294.9" cy="127.8" r="2.05"/>
<circle cx="1215.5" cy="172.7" r="2.05"/>
<circle cx="1264.5" cy="154.8" r="2.05"/>
<circle cx="1242.4" cy="147.1" r="2.05"/>
<circle cx="1192.5" cy="182.9" r="2.05"/>
<circle cx="1227.9" cy="180.8" r="2.05"/>
<circle cx="1247.2" cy="164" r="2.05"/>
<circle cx="1226.3" cy="130.8" r="2.05"/>
<circle cx="1284.8" cy="148.1" r="2.05"/>
<circle cx="1222.8" cy="197.7" r="2.05"/>
<circle cx="1184" cy="142" r="2.05"/>
<circle cx="1240.5" cy="176.4" r="2.05"/>
<circle cx="1198.1" cy="144.7" r="2.05"/>
<circle cx="1230.3" cy="147.9" r="2.05"/>
<circle cx="1268.3" cy="166.9" r="2.05"/>
<circle cx="1196.2" cy="174.9" r="2.05"/>
<circle cx="1255.4" cy="158.2" r="2.05"/>
<circle cx="1235.8" cy="150.7" r="2.05"/>
<circle cx="1210.6" cy="152.2" r="2.05"/>
<circle cx="1269.3" cy="173.2" r="2.05"/>
<circle cx="1214.1" cy="175.3" r="2.05"/>
<circle cx="1219.7" cy="170.8" r="2.05"/>
<circle cx="1272.5" cy="178.1" r="2.05"/>
<circle cx="1251.2" cy="163.4" r="2.05"/>
<circle cx="1217.4" cy="196.4" r="2.05"/>
<circle cx="1241.6" cy="126.3" r="2.05"/>
<circle cx="1211.6" cy="151.6" r="2.05"/>
<circle cx="1201.5" cy="160.3" r="2.05"/>
<circle cx="1230.5" cy="169.2" r="2.05"/>
<circle cx="1195.6" cy="184.3" r="2.05"/>
<circle cx="1225.8" cy="133.3" r="2.05"/>
<circle cx="1259.2" cy="142.1" r="2.05"/>
<circle cx="1219.8" cy="159.2" r="2.05"/>
<circle cx="1263.3" cy="121" r="2.05"/>
<circle cx="1267.7" cy="107.8" r="2.05"/>
<circle cx="1233.1" cy="180.4" r="2.05"/>
<circle cx="1278.9" cy="105.5" r="2.05"/>
<circle cx="1267.8" cy="148.1" r="2.05"/>
<circle cx="1244.2" cy="163.3" r="2.05"/>
<circle cx="1229.6" cy="160.9" r="2.05"/>
<circle cx="1252.6" cy="178.8" r="2.05"/>
<circle cx="1255.1" cy="149.2" r="2.05"/>
<circle cx="1233.7" cy="153.3" r="2.05"/>
<circle cx="1228.6" cy="155" r="2.05"/>
<circle cx="1284.9" cy="152.4" r="2.05"/>
<circle cx="1265.3" cy="162.2" r="2.05"/>
<circle cx="1232.8" cy="154.5" r="2.05"/>
<circle cx="1221.5" cy="140.8" r="2.05"/>
<circle cx="1194.2" cy="176.5" r="2.05"/>
<circle cx="1240.1" cy="155.3" r="2.05"/>
<circle cx="1234.6" cy="181.4" r="2.05"/>
<circle cx="1240.9" cy="127.1" r="2.05"/>
<circle cx="1258.7" cy="154.9" r="2.05"/>
<circle cx="1201.4" cy="190.4" r="2.05"/>
<circle cx="1263.6" cy="162.1" r="2.05"/>
<circle cx="1230.2" cy="110.1" r="2.05"/>
<circle cx="1268.2" cy="200.5" r="2.05"/>
<circle cx="1198.5" cy="112.6" r="2.05"/>
<circle cx="1273.7" cy="134.4" r="2.05"/>
<circle cx="1264.6" cy="130.1" r="2.05"/>
<circle cx="1221.9" cy="194" r="2.05"/>
<circle cx="1214.7" cy="158.8" r="2.05"/>
<circle cx="1253.5" cy="130.9" r="2.05"/>
<circle cx="1237.7" cy="142.7" r="2.05"/>
<circle cx="1238.6" cy="183.4" r="2.05"/>
<circle cx="1222.9" cy="156.3" r="2.05"/>
<circle cx="1236" cy="171.7" r="2.05"/>
<circle cx="1238" cy="128.6" r="2.05"/>
<circle cx="1216.8" cy="164.6" r="2.05"/>
<circle cx="1285.3" cy="158.7" r="2.05"/>
<circle cx="1239.8" cy="164.2" r="2.05"/>
<circle cx="1243.3" cy="151.8" r="2.05"/>
<circle cx="1274.3" cy="172" r="2.05"/>
<circle cx="1225.3" cy="173.7" r="2.05"/>
<circle cx="1230.5" cy="148.9" r="2.05"/>
<circle cx="1238.7" cy="150.4" r="2.05"/>
<circle cx="1255" cy="132.8" r="2.05"/>
<circle cx="1286.9" cy="164.8" r="2.05"/>
<circle cx="1228.1" cy="157.3" r="2.05"/>
<circle cx="1255.9" cy="143.1" r="2.05"/>
<circle cx="1247.9" cy="178.4" r="2.05"/>
<circle cx="1309.9" cy="136.5" r="2.05"/>
<circle cx="1251.6" cy="176.8" r="2.05"/>
<circle cx="1249" cy="163.8" r="2.05"/>
<circle cx="1272.8" cy="127.6" r="2.05"/>
<circle cx="1220.7" cy="163.3" r="2.05"/>
<circle cx="1241.8" cy="151.1" r="2.05"/>
<circle cx="1282.8" cy="161.3" r="2.05"/>
<circle cx="1323.7" cy="150.1" r="2.05"/>
<circle cx="1195.5" cy="156.8" r="2.05"/>
<circle cx="1199.7" cy="142.4" r="2.05"/>
<circle cx="1250.9" cy="162.7" r="2.05"/>
<circle cx="1263.3" cy="147.5" r="2.05"/>
<circle cx="1215.9" cy="175.2" r="2.05"/>
<circle cx="1300.1" cy="134.4" r="2.05"/>
<circle cx="1249.6" cy="177.3" r="2.05"/>
<circle cx="1304.4" cy="122.9" r="2.05"/>
<circle cx="1230.3" cy="161.3" r="2.05"/>
<circle cx="1222.6" cy="134.1" r="2.05"/>
<circle cx="1268.7" cy="163.9" r="2.05"/>
<circle cx="1228.4" cy="171.6" r="2.05"/>
<circle cx="1244.7" cy="106.5" r="2.05"/>
<circle cx="1231.1" cy="152.2" r="2.05"/>
<circle cx="1228.4" cy="166.3" r="2.05"/>
<circle cx="1252.5" cy="128.9" r="2.05"/>
<circle cx="1204.1" cy="184.1" r="2.05"/>
<circle cx="1233" cy="181.6" r="2.05"/>
<circle cx="1287.2" cy="126.3" r="2.05"/>
<circle cx="1274.8" cy="136.7" r="2.05"/>
<circle cx="1204.4" cy="148.4" r="2.05"/>
<circle cx="1236.7" cy="173.4" r="2.05"/>
<circle cx="1213.9" cy="192.3" r="2.05"/>
<circle cx="1225" cy="159" r="2.05"/>
<circle cx="1277.1" cy="160.5" r="2.05"/>
<circle cx="1263" cy="142.5" r="2.05"/>
<circle cx="1264.1" cy="149.8" r="2.05"/>
<circle cx="1199.4" cy="145" r="2.05"/>
<circle cx="1261.5" cy="177.5" r="2.05"/>
<circle cx="1241.4" cy="162" r="2.05"/>
<circle cx="1312.2" cy="99.1" r="2.05"/>
<circle cx="1244.7" cy="160.6" r="2.05"/>
<circle cx="1263.8" cy="143.6" r="2.05"/>
<circle cx="1261.6" cy="155.9" r="2.05"/>
<circle cx="1208.2" cy="211.8" r="2.05"/>
<circle cx="1197.2" cy="208.3" r="2.05"/>
<circle cx="1240.4" cy="143.4" r="2.05"/>
<circle cx="1293.6" cy="134.6" r="2.05"/>
<circle cx="1308" cy="137.7" r="2.05"/>
<circle cx="1222.6" cy="157.3" r="2.05"/>
<circle cx="1224.6" cy="171.8" r="2.05"/>
<circle cx="1240.8" cy="145.3" r="2.05"/>
<circle cx="1243.7" cy="155.8" r="2.05"/>
<circle cx="1265.3" cy="170.8" r="2.05"/>
<circle cx="1257.7" cy="174.2" r="2.05"/>
<circle cx="1211.5" cy="185.9" r="2.05"/>
<circle cx="1245.7" cy="162.9" r="2.05"/>
<circle cx="1278.5" cy="134.4" r="2.05"/>
<circle cx="1234" cy="136.6" r="2.05"/>
<circle cx="1293" cy="137.3" r="2.05"/>
<circle cx="1299.4" cy="130.7" r="2.05"/>
<circle cx="1254.8" cy="174.2" r="2.05"/>
<circle cx="1274.2" cy="122.8" r="2.05"/>
<circle cx="1250.6" cy="130.2" r="2.05"/>
<circle cx="1307" cy="154.4" r="2.05"/>
<circle cx="1233.6" cy="128.5" r="2.05"/>
<circle cx="1269.8" cy="121.3" r="2.05"/>
<circle cx="1193.2" cy="154.4" r="2.05"/>
<circle cx="1259.5" cy="162.2" r="2.05"/>
<circle cx="1291.5" cy="121.4" r="2.05"/>
<circle cx="1275.7" cy="107" r="2.05"/>
<circle cx="1234.8" cy="149.2" r="2.05"/>
<circle cx="1242.4" cy="129.7" r="2.05"/>
<circle cx="1273" cy="167.5" r="2.05"/>
<circle cx="1220.1" cy="184.6" r="2.05"/>
<circle cx="1250.6" cy="177.5" r="2.05"/>
<circle cx="1213.1" cy="133.8" r="2.05"/>
<circle cx="1216.7" cy="149.7" r="2.05"/>
<circle cx="1267.5" cy="177.5" r="2.05"/>
<circle cx="1287.8" cy="134.3" r="2.05"/>
<circle cx="1261.2" cy="168.5" r="2.05"/>
<circle cx="1255.9" cy="160.8" r="2.05"/>
<circle cx="1273.2" cy="154" r="2.05"/>
<circle cx="1235.5" cy="174.1" r="2.05"/>
<circle cx="1232.9" cy="139" r="2.05"/>
<circle cx="1235.7" cy="148.8" r="2.05"/>
<circle cx="1272.5" cy="175" r="2.05"/>
<circle cx="1182.8" cy="171.6" r="2.05"/>
<circle cx="1183.1" cy="137.6" r="2.05"/>
<circle cx="1240" cy="158.8" r="2.05"/>
<circle cx="1265.1" cy="152" r="2.05"/>
<circle cx="1245.2" cy="149" r="2.05"/>
<circle cx="1305.9" cy="117.4" r="2.05"/>
<circle cx="1228.7" cy="155" r="2.05"/>
<circle cx="1188.9" cy="142.5" r="2.05"/>
<circle cx="1206.7" cy="177.3" r="2.05"/>
<circle cx="1239" cy="147.8" r="2.05"/>
<circle cx="1218" cy="178.3" r="2.05"/>
<circle cx="1220.7" cy="175.9" r="2.05"/>
<circle cx="1262.1" cy="125.9" r="2.05"/>
<circle cx="1219.3" cy="185.4" r="2.05"/>
<circle cx="1271.2" cy="154.8" r="2.05"/>
<circle cx="1282.5" cy="160" r="2.05"/>
<circle cx="1255" cy="153.4" r="2.05"/>
<circle cx="1247.8" cy="136" r="2.05"/>
<circle cx="1246.2" cy="156.3" r="2.05"/>
<circle cx="1238.7" cy="121.5" r="2.05"/>
<circle cx="1261.1" cy="150.3" r="2.05"/>
<circle cx="1198.3" cy="157" r="2.05"/>
<circle cx="1223.2" cy="196" r="2.05"/>
<circle cx="1242.3" cy="172.3" r="2.05"/>
<circle cx="1241.6" cy="150.5" r="2.05"/>
<circle cx="1234.2" cy="172.4" r="2.05"/>
<circle cx="1237.1" cy="100" r="2.05"/>
<circle cx="1216.2" cy="187.3" r="2.05"/>
<circle cx="1218.6" cy="188.1" r="2.05"/>
<circle cx="1232.9" cy="176.4" r="2.05"/>
<circle cx="1252.5" cy="149" r="2.05"/>
<circle cx="1271.1" cy="144.3" r="2.05"/>
<circle cx="1251.4" cy="144.1" r="2.05"/>
<circle cx="1245.1" cy="161.4" r="2.05"/>
<circle cx="1219" cy="161.4" r="2.05"/>
<circle cx="1222.7" cy="146.6" r="2.05"/>
<circle cx="1257.4" cy="179.2" r="2.05"/>
<circle cx="1267.5" cy="181.1" r="2.05"/>
<circle cx="1258.8" cy="107.5" r="2.05"/>
<circle cx="1282.2" cy="165.6" r="2.05"/>
<circle cx="1290.8" cy="98.8" r="2.05"/>
<circle cx="1253" cy="145.6" r="2.05"/>
<circle cx="1302" cy="125.3" r="2.05"/>
<circle cx="1198.3" cy="170.4" r="2.05"/>
<circle cx="1246.2" cy="136.5" r="2.05"/>
<circle cx="1304.3" cy="117.6" r="2.05"/>
<circle cx="1279.9" cy="171.2" r="2.05"/>
<circle cx="1218.2" cy="158.1" r="2.05"/>
<circle cx="1257.5" cy="98.7" r="2.05"/>
<circle cx="1292.4" cy="163.2" r="2.05"/>
<circle cx="1272" cy="160.2" r="2.05"/>
<circle cx="1232.6" cy="155.2" r="2.05"/>
<circle cx="1244" cy="147.9" r="2.05"/>
<circle cx="1228.8" cy="139.4" r="2.05"/>
<circle cx="1235.1" cy="159.9" r="2.05"/>
<circle cx="1225.2" cy="157.1" r="2.05"/>
<circle cx="1219" cy="181.1" r="2.05"/>
<circle cx="1269.9" cy="133.7" r="2.05"/>
<circle cx="1257" cy="145.6" r="2.05"/>
<circle cx="1217.6" cy="191.2" r="2.05"/>
<circle cx="1277.7" cy="141.7" r="2.05"/>
<circle cx="1261.9" cy="144.9" r="2.05"/>
<circle cx="1271.8" cy="167.1" r="2.05"/>
<circle cx="1275.1" cy="189" r="2.05"/>
<circle cx="1252.9" cy="120.9" r="2.05"/>
<circle cx="1256.2" cy="142.6" r="2.05"/>
<circle cx="1222.5" cy="138.5" r="2.05"/>
<circle cx="1248" cy="135.3" r="2.05"/>
<circle cx="1264.7" cy="150.6" r="2.05"/>
<circle cx="1228.6" cy="141.2" r="2.05"/>
<circle cx="1265.7" cy="140.5" r="2.05"/>
<circle cx="1261.8" cy="159.6" r="2.05"/>
<circle cx="1247.6" cy="134.7" r="2.05"/>
<circle cx="1254" cy="202.9" r="2.05"/>
<circle cx="1255.9" cy="159.2" r="2.05"/>
<circle cx="1237.9" cy="150.6" r="2.05"/>
<circle cx="1292.2" cy="180.8" r="2.05"/>
<circle cx="1217.8" cy="120.8" r="2.05"/>
<circle cx="1227.6" cy="119.3" r="2.05"/>
<circle cx="1289.2" cy="156.5" r="2.05"/>
<circle cx="1238.3" cy="135.6" r="2.05"/>
<circle cx="1296.2" cy="135.8" r="2.05"/>
<circle cx="1254.4" cy="156.4" r="2.05"/>
<circle cx="1311.8" cy="167.9" r="2.05"/>
<circle cx="1254.1" cy="129.9" r="2.05"/>
<circle cx="1257.2" cy="156.9" r="2.05"/>
<circle cx="1261" cy="160.4" r="2.05"/>
<circle cx="1216.9" cy="117.1" r="2.05"/>
<circle cx="1302.8" cy="149.8" r="2.05"/>
<circle cx="1244.1" cy="122.7" r="2.05"/>
<circle cx="1245" cy="159.6" r="2.05"/>
<circle cx="1241.2" cy="191.7" r="2.05"/>
<circle cx="1251.3" cy="168.4" r="2.05"/>
<circle cx="1236.7" cy="187.6" r="2.05"/>
<circle cx="1242.1" cy="162.8" r="2.05"/>
<circle cx="1227.8" cy="142.5" r="2.05"/>
<circle cx="1238.2" cy="200.6" r="2.05"/>
<circle cx="1196.9" cy="134.9" r="2.05"/>
<circle cx="1251.1" cy="138.2" r="2.05"/>
<circle cx="1187.5" cy="201" r="2.05"/>
<circle cx="1260.7" cy="141.9" r="2.05"/>
<circle cx="1274.3" cy="139.8" r="2.05"/>
<circle cx="1254.7" cy="140.3" r="2.05"/>
<circle cx="1241.6" cy="185.2" r="2.05"/>
<circle cx="1271" cy="154.6" r="2.05"/>
<circle cx="1239.8" cy="159.6" r="2.05"/>
<circle cx="1263.3" cy="153.9" r="2.05"/>
<circle cx="1205.2" cy="163.8" r="2.05"/>
<circle cx="1276" cy="152.8" r="2.05"/>
<circle cx="1284.9" cy="143.3" r="2.05"/>
<circle cx="1254.2" cy="110.5" r="2.05"/>
<circle cx="1278.2" cy="159.2" r="2.05"/>
<circle cx="1247.9" cy="134.7" r="2.05"/>
<circle cx="1235.3" cy="174.8" r="2.05"/>
<circle cx="1257.5" cy="152.9" r="2.05"/>
<circle cx="1236.1" cy="166.8" r="2.05"/>
<circle cx="1255" cy="151.2" r="2.05"/>
<circle cx="1241.4" cy="169.2" r="2.05"/>
<circle cx="1226.9" cy="187.9" r="2.05"/>
<circle cx="1253.2" cy="154.9" r="2.05"/>
<circle cx="1225.5" cy="160.3" r="2.05"/>
<circle cx="1257.5" cy="138.3" r="2.05"/>
<circle cx="1237.5" cy="139.5" r="2.05"/>
<circle cx="1270.4" cy="186.8" r="2.05"/>
<circle cx="1210.3" cy="150.7" r="2.05"/>
<circle cx="1249.8" cy="138.5" r="2.05"/>
<circle cx="1277.6" cy="165.9" r="2.05"/>
<circle cx="1251.2" cy="127.6" r="2.05"/>
<circle cx="1212.5" cy="129.6" r="2.05"/>
<circle cx="1182.1" cy="181.4" r="2.05"/>
<circle cx="1315.2" cy="137.9" r="2.05"/>
<circle cx="1247.4" cy="144.9" r="2.05"/>
<circle cx="1234.5" cy="139.8" r="2.05"/>
<circle cx="1244.7" cy="168.8" r="2.05"/>
<circle cx="1320.3" cy="114.3" r="2.05"/>
<circle cx="1218.4" cy="205.8" r="2.05"/>
<circle cx="1230.8" cy="147.9" r="2.05"/>
<circle cx="1199.7" cy="180.4" r="2.05"/>
<circle cx="1240.6" cy="154.8" r="2.05"/>
<circle cx="1287.2" cy="175.2" r="2.05"/>
<circle cx="1213.2" cy="119.2" r="2.05"/>
<circle cx="1194.8" cy="167.8" r="2.05"/>
<circle cx="1253.4" cy="128.8" r="2.05"/>
<circle cx="1217.7" cy="149.3" r="2.05"/>
<circle cx="1285.1" cy="142.2" r="2.05"/>
<circle cx="1264.6" cy="166.4" r="2.05"/>
<circle cx="1270" cy="150.4" r="2.05"/>
<circle cx="1231" cy="160.9" r="2.05"/>
<circle cx="1198.6" cy="202.4" r="2.05"/>
<circle cx="1250.1" cy="152.1" r="2.05"/>
<circle cx="1237.8" cy="190" r="2.05"/>
<circle cx="1249.1" cy="161.5" r="2.05"/>
<circle cx="1198.7" cy="145.9" r="2.05"/>
<circle cx="1312.6" cy="129.1" r="2.05"/>
<circle cx="1219.9" cy="213.5" r="2.05"/>
<circle cx="1274.8" cy="138.9" r="2.05"/>
<circle cx="1272.5" cy="99.4" r="2.05"/>
<circle cx="1226" cy="156.8" r="2.05"/>
<circle cx="1292" cy="160.2" r="2.05"/>
<circle cx="1277.1" cy="143" r="2.05"/>
<circle cx="1287.3" cy="146.8" r="2.05"/>
<circle cx="1286.6" cy="137.9" r="2.05"/>
<circle cx="1279.3" cy="134.4" r="2.05"/>
<circle cx="1304.3" cy="139.1" r="2.05"/>
<circle cx="1320.7" cy="124.5" r="2.05"/>
<circle cx="1354.1" cy="134.3" r="2.05"/>
<circle cx="1332" cy="133.1" r="2.05"/>
<circle cx="1307.2" cy="122.2" r="2.05"/>
<circle cx="1268.3" cy="123.5" r="2.05"/>
<circle cx="1329.4" cy="116.3" r="2.05"/>
<circle cx="1356" cy="114.7" r="2.05"/>
<circle cx="1326.3" cy="161.5" r="2.05"/>
<circle cx="1325.6" cy="140.2" r="2.05"/>
<circle cx="1284.9" cy="136.3" r="2.05"/>
<circle cx="1290.4" cy="152" r="2.05"/>
<circle cx="1342.9" cy="151" r="2.05"/>
<circle cx="1347.9" cy="142" r="2.05"/>
<circle cx="1321.3" cy="126.9" r="2.05"/>
<circle cx="1316.3" cy="126.2" r="2.05"/>
<circle cx="1334" cy="125.4" r="2.05"/>
<circle cx="1267.1" cy="135.8" r="2.05"/>
<circle cx="1282.7" cy="139" r="2.05"/>
<circle cx="1288" cy="138.6" r="2.05"/>
<circle cx="1291.3" cy="149.4" r="2.05"/>
<circle cx="1268.4" cy="113.9" r="2.05"/>
<circle cx="1356.7" cy="134.3" r="2.05"/>
<circle cx="1305.4" cy="134.5" r="2.05"/>
<circle cx="1311.1" cy="131" r="2.05"/>
<circle cx="1274.4" cy="134.5" r="2.05"/>
<circle cx="1281.7" cy="117" r="2.05"/>
<circle cx="1331.3" cy="111.1" r="2.05"/>
<circle cx="1291.1" cy="128.4" r="2.05"/>
<circle cx="1298.4" cy="163.1" r="2.05"/>
<circle cx="1312.3" cy="114.3" r="2.05"/>
<circle cx="1318.7" cy="118.5" r="2.05"/>
<circle cx="1375" cy="115.4" r="2.05"/>
<circle cx="1390.4" cy="120.7" r="2.05"/>
<circle cx="1398.2" cy="136.5" r="2.05"/>
<circle cx="1359.5" cy="152.4" r="2.05"/>
<circle cx="1362.6" cy="110.1" r="2.05"/>
<circle cx="1356.4" cy="115.4" r="2.05"/>
<circle cx="1344" cy="168.3" r="2.05"/>
<circle cx="1181.5" cy="231.7" r="2.05"/>
<circle cx="1187.7" cy="229.1" r="2.05"/>
<circle cx="1212.5" cy="229.1" r="2.05"/>
<circle cx="1195.5" cy="226.5" r="2.05"/>
<circle cx="1173.8" cy="304.7" r="2.05"/>
<circle cx="1200.1" cy="205.3" r="2.05"/>
<circle cx="1180" cy="149.7" r="2.05"/>
<circle cx="1173.8" cy="168.3" r="2.05"/>
<circle cx="1204.7" cy="215.9" r="2.05"/>
<circle cx="1217.1" cy="213.2" r="2.05"/>
<circle cx="1220.2" cy="207.9" r="2.05"/>
<circle cx="1192.4" cy="218.5" r="2.05"/>
<circle cx="1206.3" cy="234.4" r="2.05"/>
</g>
<path d="M1175.5 170.5 L1184.8 168.2 L1194.1 165.8 L1203.4 163.2 L1212.7 160.5 L1222 157.6 L1231.3 154.5 L1240.6 151.4 L1249.9 148.2 L1259.2 145 L1268.5 141.7 L1277.8 138.4 L1287.1 135.1 L1296.4 131.7 L1305.7 128.2 L1315 124.8 L1324.3 121.2 L1333.6 117.7 L1342.9 114.1 L1352.2 110.4 L1361.5 106.8 L1370.8 103 L1380.1 99.3 L1389.4 95.4 L1398.7 91.6 L1398.7 109.6 L1389.4 112 L1380.1 114.4 L1370.8 116.9 L1361.5 119.4 L1352.2 122 L1342.9 124.6 L1333.6 127.2 L1324.3 129.9 L1315 132.6 L1305.7 135.4 L1296.4 138.2 L1287.1 141.1 L1277.8 143.9 L1268.5 146.9 L1259.2 149.8 L1249.9 152.9 L1240.6 155.9 L1231.3 159 L1222 162.2 L1212.7 165.6 L1203.4 169.1 L1194.1 172.7 L1184.8 176.5 L1175.5 180.5Z" fill="#999" fill-opacity=".4"/>
<line x1="1175.5" y1="175.5" x2="1398.7" y2="100.6" stroke="#3366ff" stroke-width="2.2"/>
<rect x="1164.3" y="81.5" width="245.5" height="232.8" fill="none" stroke="#333" stroke-width="1.1"/>
<text x="1407.3" y="94.9" font-size="12.1" text-anchor="end" fill="#e01c1c" font-family="DejaVu Sans, sans-serif">Rho = 0.381</text>
<text x="1407.3" y="106.7" font-size="12.1" text-anchor="end" fill="#e01c1c" font-family="DejaVu Sans, sans-serif">p = 1.79e-18</text>
<line x1="1173.8" y1="314.3" x2="1173.8" y2="318.5" stroke="#222" stroke-width="1.4"/>
<text x="1173.8" y="332.3" font-size="13.2" text-anchor="middle" fill="#333" font-family="DejaVu Sans, sans-serif">0.0</text>
<line x1="1251.2" y1="314.3" x2="1251.2" y2="318.5" stroke="#222" stroke-width="1.4"/>
<text x="1251.2" y="332.3" font-size="13.2" text-anchor="middle" fill="#333" font-family="DejaVu Sans, sans-serif">0.5</text>
<line x1="1328.5" y1="314.3" x2="1328.5" y2="318.5" stroke="#222" stroke-width="1.4"/>
<text x="1328.5" y="332.3" font-size="13.2" text-anchor="middle" fill="#333" font-family="DejaVu Sans, sans-serif">1.0</text>
<line x1="1405.9" y1="314.3" x2="1405.9" y2="318.5" stroke="#222" stroke-width="1.4"/>
<text x="1405.9" y="332.3" font-size="13.2" text-anchor="middle" fill="#333" font-family="DejaVu Sans, sans-serif">1.5</text>
<rect x="1423.4" y="56.5" width="244.6" height="25.0" fill="#d9d9d9" stroke="#4d4d4d" stroke-width="1.3"/>
<text x="1545.7" y="74" font-size="13.3" text-anchor="middle" fill="#1a1a1a" font-family="DejaVu Sans, sans-serif">Neutrophil_TIMER</text>
<line x1="1423.4" y1="81.5" x2="1668" y2="81.5" stroke="#1a1a1a" stroke-width="1.7"/>
<line x1="1462.2" y1="81.5" x2="1462.2" y2="313.3" stroke="#eeeeee" stroke-width="1.2"/>
<line x1="1518.8" y1="81.5" x2="1518.8" y2="313.3" stroke="#eeeeee" stroke-width="1.2"/>
<line x1="1575.2" y1="81.5" x2="1575.2" y2="313.3" stroke="#eeeeee" stroke-width="1.2"/>
<line x1="1631.8" y1="81.5" x2="1631.8" y2="313.3" stroke="#eeeeee" stroke-width="1.2"/>
<line x1="1423.4" y1="303.2" x2="1668" y2="303.2" stroke="#eeeeee" stroke-width="1.2"/>
<line x1="1423.4" y1="281.3" x2="1668" y2="281.3" stroke="#e5e5e5" stroke-width="1.7"/>
<line x1="1423.4" y1="259.4" x2="1668" y2="259.4" stroke="#eeeeee" stroke-width="1.2"/>
<line x1="1423.4" y1="237.5" x2="1668" y2="237.5" stroke="#e5e5e5" stroke-width="1.7"/>
<line x1="1423.4" y1="215.6" x2="1668" y2="215.6" stroke="#eeeeee" stroke-width="1.2"/>
<line x1="1423.4" y1="193.7" x2="1668" y2="193.7" stroke="#e5e5e5" stroke-width="1.7"/>
<line x1="1423.4" y1="171.8" x2="1668" y2="171.8" stroke="#eeeeee" stroke-width="1.2"/>
<line x1="1423.4" y1="149.9" x2="1668" y2="149.9" stroke="#e5e5e5" stroke-width="1.7"/>
<line x1="1423.4" y1="128" x2="1668" y2="128" stroke="#eeeeee" stroke-width="1.2"/>
<line x1="1423.4" y1="106.1" x2="1668" y2="106.1" stroke="#e5e5e5" stroke-width="1.7"/>
<line x1="1423.4" y1="84.2" x2="1668" y2="84.2" stroke="#eeeeee" stroke-width="1.2"/>
<line x1="1434" y1="81.5" x2="1434" y2="313.3" stroke="#e5e5e5" stroke-width="1.7"/>
<line x1="1490.5" y1="81.5" x2="1490.5" y2="313.3" stroke="#e5e5e5" stroke-width="1.7"/>
<line x1="1547" y1="81.5" x2="1547" y2="313.3" stroke="#e5e5e5" stroke-width="1.7"/>
<line x1="1603.5" y1="81.5" x2="1603.5" y2="313.3" stroke="#e5e5e5" stroke-width="1.7"/>
<line x1="1660" y1="81.5" x2="1660" y2="313.3" stroke="#e5e5e5" stroke-width="1.7"/>
<g fill="#000" fill-opacity=".32" stroke="#000" stroke-opacity=".5" stroke-width="1.1">
<circle cx="1434" cy="181.6" r="2.05"/>
<circle cx="1434" cy="191.3" r="2.05"/>
<circle cx="1434" cy="201.9" r="2.05"/>
<circle cx="1434" cy="187.7" r="2.05"/>
<circle cx="1434" cy="197.9" r="2.05"/>
<circle cx="1434" cy="175.3" r="2.05"/>
<circle cx="1434" cy="216.6" r="2.05"/>
<circle cx="1434" cy="164.7" r="2.05"/>
<circle cx="1434" cy="171.3" r="2.05"/>
<circle cx="1434" cy="174.5" r="2.05"/>
<circle cx="1434" cy="158" r="2.05"/>
<circle cx="1434" cy="174.1" r="2.05"/>
<circle cx="1434" cy="215.6" r="2.05"/>
<circle cx="1434" cy="184" r="2.05"/>
<circle cx="1434" cy="176.9" r="2.05"/>
<circle cx="1434" cy="197.2" r="2.05"/>
<circle cx="1434" cy="205.3" r="2.05"/>
<circle cx="1434" cy="177.2" r="2.05"/>
<circle cx="1434" cy="175.8" r="2.05"/>
<circle cx="1434" cy="192.6" r="2.05"/>
<circle cx="1434" cy="189.3" r="2.05"/>
<circle cx="1434" cy="194" r="2.05"/>
<circle cx="1434" cy="195.1" r="2.05"/>
<circle cx="1434" cy="186" r="2.05"/>
<circle cx="1434" cy="165.7" r="2.05"/>
<circle cx="1434" cy="213.8" r="2.05"/>
<circle cx="1434" cy="191" r="2.05"/>
<circle cx="1434" cy="156" r="2.05"/>
<circle cx="1434" cy="179.2" r="2.05"/>
<circle cx="1434" cy="182.2" r="2.05"/>
<circle cx="1434" cy="169.9" r="2.05"/>
<circle cx="1434" cy="202.9" r="2.05"/>
<circle cx="1434" cy="206.6" r="2.05"/>
<circle cx="1434" cy="214.7" r="2.05"/>
<circle cx="1434" cy="211.1" r="2.05"/>
<circle cx="1434" cy="180.5" r="2.05"/>
<circle cx="1434" cy="169.7" r="2.05"/>
<circle cx="1434" cy="192.4" r="2.05"/>
<circle cx="1434" cy="197.1" r="2.05"/>
<circle cx="1434" cy="177.7" r="2.05"/>
<circle cx="1434" cy="173.9" r="2.05"/>
<circle cx="1434" cy="180.3" r="2.05"/>
<circle cx="1434" cy="219.1" r="2.05"/>
<circle cx="1434" cy="194.7" r="2.05"/>
<circle cx="1434" cy="180.6" r="2.05"/>
<circle cx="1434" cy="200.2" r="2.05"/>
<circle cx="1434" cy="196.7" r="2.05"/>
<circle cx="1434" cy="158" r="2.05"/>
<circle cx="1434" cy="161.2" r="2.05"/>
<circle cx="1434" cy="176.3" r="2.05"/>
<circle cx="1434" cy="180" r="2.05"/>
<circle cx="1434" cy="181.8" r="2.05"/>
<circle cx="1434" cy="195.4" r="2.05"/>
<circle cx="1434" cy="185.8" r="2.05"/>
<circle cx="1434" cy="150.7" r="2.05"/>
<circle cx="1434" cy="228.7" r="2.05"/>
<circle cx="1434" cy="235.3" r="2.05"/>
<circle cx="1434" cy="239.7" r="2.05"/>
<circle cx="1434" cy="246.3" r="2.05"/>
<circle cx="1434" cy="255" r="2.05"/>
<circle cx="1434" cy="145.5" r="2.05"/>
<circle cx="1434" cy="136.8" r="2.05"/>
<circle cx="1445.3" cy="187.8" r="2.05"/>
<circle cx="1436.6" cy="165.3" r="2.05"/>
<circle cx="1444.8" cy="192.9" r="2.05"/>
<circle cx="1436.3" cy="184.2" r="2.05"/>
<circle cx="1449.6" cy="174.5" r="2.05"/>
<circle cx="1440.5" cy="163.6" r="2.05"/>
<circle cx="1439.9" cy="191.4" r="2.05"/>
<circle cx="1435.7" cy="185.8" r="2.05"/>
<circle cx="1442.4" cy="185.8" r="2.05"/>
<circle cx="1447.5" cy="183.1" r="2.05"/>
<circle cx="1455.4" cy="186.5" r="2.05"/>
<circle cx="1444.4" cy="142.5" r="2.05"/>
<circle cx="1447.4" cy="182.2" r="2.05"/>
<circle cx="1438.7" cy="201.9" r="2.05"/>
<circle cx="1439.5" cy="179.7" r="2.05"/>
<circle cx="1438.1" cy="143.1" r="2.05"/>
<circle cx="1437.9" cy="166.5" r="2.05"/>
<circle cx="1444.8" cy="187.5" r="2.05"/>
<circle cx="1441.8" cy="152.9" r="2.05"/>
<circle cx="1443.3" cy="175.3" r="2.05"/>
<circle cx="1447.9" cy="162" r="2.05"/>
<circle cx="1441.1" cy="142.8" r="2.05"/>
<circle cx="1452.5" cy="161.8" r="2.05"/>
<circle cx="1437.9" cy="178.3" r="2.05"/>
<circle cx="1441.3" cy="173.3" r="2.05"/>
<circle cx="1437.6" cy="168.9" r="2.05"/>
<circle cx="1447.8" cy="171.2" r="2.05"/>
<circle cx="1441.2" cy="165.2" r="2.05"/>
<circle cx="1453.4" cy="188" r="2.05"/>
<circle cx="1439.8" cy="169.9" r="2.05"/>
<circle cx="1441.2" cy="170.2" r="2.05"/>
<circle cx="1435.8" cy="181.7" r="2.05"/>
<circle cx="1455.1" cy="146" r="2.05"/>
<circle cx="1451.6" cy="216.2" r="2.05"/>
<circle cx="1440" cy="189.6" r="2.05"/>
<circle cx="1440.9" cy="204.2" r="2.05"/>
<circle cx="1439" cy="179.9" r="2.05"/>
<circle cx="1441.2" cy="163.8" r="2.05"/>
<circle cx="1464.1" cy="147.4" r="2.05"/>
<circle cx="1448.9" cy="182.6" r="2.05"/>
<circle cx="1442.6" cy="178.5" r="2.05"/>
<circle cx="1448.7" cy="166.6" r="2.05"/>
<circle cx="1435.1" cy="171.3" r="2.05"/>
<circle cx="1443.3" cy="164.8" r="2.05"/>
<circle cx="1452.9" cy="180.6" r="2.05"/>
<circle cx="1441.4" cy="205.2" r="2.05"/>
<circle cx="1446" cy="162.6" r="2.05"/>
<circle cx="1447" cy="148.3" r="2.05"/>
<circle cx="1436.1" cy="207.9" r="2.05"/>
<circle cx="1451.2" cy="161.1" r="2.05"/>
<circle cx="1438" cy="161.5" r="2.05"/>
<circle cx="1453.4" cy="176.1" r="2.05"/>
<circle cx="1446.5" cy="187.6" r="2.05"/>
<circle cx="1442.9" cy="183.6" r="2.05"/>
<circle cx="1438.8" cy="173.8" r="2.05"/>
<circle cx="1461.6" cy="192" r="2.05"/>
<circle cx="1444.1" cy="156.2" r="2.05"/>
<circle cx="1448.2" cy="174.8" r="2.05"/>
<circle cx="1462.6" cy="154.7" r="2.05"/>
<circle cx="1470.5" cy="173.1" r="2.05"/>
<circle cx="1455.3" cy="169" r="2.05"/>
<circle cx="1443.4" cy="186.7" r="2.05"/>
<circle cx="1444.8" cy="172.5" r="2.05"/>
<circle cx="1440.3" cy="193.2" r="2.05"/>
<circle cx="1437.4" cy="172.9" r="2.05"/>
<circle cx="1445" cy="159.2" r="2.05"/>
<circle cx="1454.7" cy="167.5" r="2.05"/>
<circle cx="1439.4" cy="153.5" r="2.05"/>
<circle cx="1442.4" cy="188.7" r="2.05"/>
<circle cx="1450.9" cy="143.2" r="2.05"/>
<circle cx="1442.1" cy="195.6" r="2.05"/>
<circle cx="1438.7" cy="194.6" r="2.05"/>
<circle cx="1453.1" cy="167.9" r="2.05"/>
<circle cx="1459.3" cy="169.3" r="2.05"/>
<circle cx="1445.7" cy="176.9" r="2.05"/>
<circle cx="1440.4" cy="180.4" r="2.05"/>
<circle cx="1437.2" cy="176.1" r="2.05"/>
<circle cx="1443.2" cy="172.1" r="2.05"/>
<circle cx="1436.7" cy="180.3" r="2.05"/>
<circle cx="1442.9" cy="194.2" r="2.05"/>
<circle cx="1437.7" cy="166.1" r="2.05"/>
<circle cx="1463.9" cy="179.9" r="2.05"/>
<circle cx="1451" cy="160.5" r="2.05"/>
<circle cx="1443.3" cy="155.8" r="2.05"/>
<circle cx="1446.6" cy="189.4" r="2.05"/>
<circle cx="1458.1" cy="180.1" r="2.05"/>
<circle cx="1437.3" cy="206.2" r="2.05"/>
<circle cx="1446.9" cy="195.6" r="2.05"/>
<circle cx="1436.3" cy="209.5" r="2.05"/>
<circle cx="1447.5" cy="182.1" r="2.05"/>
<circle cx="1442" cy="188.3" r="2.05"/>
<circle cx="1443.7" cy="152.7" r="2.05"/>
<circle cx="1439.6" cy="152.7" r="2.05"/>
<circle cx="1454.1" cy="152.6" r="2.05"/>
<circle cx="1438.3" cy="203.3" r="2.05"/>
<circle cx="1442.8" cy="184.4" r="2.05"/>
<circle cx="1437" cy="210.1" r="2.05"/>
<circle cx="1438.1" cy="175.5" r="2.05"/>
<circle cx="1446" cy="172.1" r="2.05"/>
<circle cx="1454.9" cy="170.3" r="2.05"/>
<circle cx="1443" cy="139.2" r="2.05"/>
<circle cx="1460.7" cy="187.2" r="2.05"/>
<circle cx="1439.6" cy="188.4" r="2.05"/>
<circle cx="1462.4" cy="167.5" r="2.05"/>
<circle cx="1444.7" cy="190.1" r="2.05"/>
<circle cx="1452.4" cy="166.8" r="2.05"/>
<circle cx="1449.1" cy="200.6" r="2.05"/>
<circle cx="1434.7" cy="154.4" r="2.05"/>
<circle cx="1459.1" cy="151.4" r="2.05"/>
<circle cx="1434.7" cy="177.4" r="2.05"/>
<circle cx="1442.3" cy="160.2" r="2.05"/>
<circle cx="1443.1" cy="175.7" r="2.05"/>
<circle cx="1459.7" cy="197" r="2.05"/>
<circle cx="1456.2" cy="172.7" r="2.05"/>
<circle cx="1437.3" cy="215.2" r="2.05"/>
<circle cx="1435.1" cy="146.6" r="2.05"/>
<circle cx="1452.8" cy="213.3" r="2.05"/>
<circle cx="1436.6" cy="188.4" r="2.05"/>
<circle cx="1437.2" cy="200" r="2.05"/>
<circle cx="1451.1" cy="195.3" r="2.05"/>
<circle cx="1442.4" cy="178.7" r="2.05"/>
<circle cx="1444.7" cy="194.8" r="2.05"/>
<circle cx="1441.8" cy="185.3" r="2.05"/>
<circle cx="1435.8" cy="164.8" r="2.05"/>
<circle cx="1435.1" cy="185.9" r="2.05"/>
<circle cx="1454.9" cy="173" r="2.05"/>
<circle cx="1444.2" cy="187.7" r="2.05"/>
<circle cx="1435.5" cy="208.9" r="2.05"/>
<circle cx="1450.9" cy="168.8" r="2.05"/>
<circle cx="1450.4" cy="180.5" r="2.05"/>
<circle cx="1455" cy="180.2" r="2.05"/>
<circle cx="1453.7" cy="178.9" r="2.05"/>
<circle cx="1458.2" cy="168.2" r="2.05"/>
<circle cx="1436.5" cy="162.9" r="2.05"/>
<circle cx="1439.3" cy="173.5" r="2.05"/>
<circle cx="1437.1" cy="172.3" r="2.05"/>
<circle cx="1452.6" cy="163.2" r="2.05"/>
<circle cx="1445.4" cy="214.2" r="2.05"/>
<circle cx="1467.7" cy="184.7" r="2.05"/>
<circle cx="1452.9" cy="174.4" r="2.05"/>
<circle cx="1443" cy="168.7" r="2.05"/>
<circle cx="1445.5" cy="187.4" r="2.05"/>
<circle cx="1441.8" cy="172" r="2.05"/>
<circle cx="1442.1" cy="168.7" r="2.05"/>
<circle cx="1438.8" cy="187" r="2.05"/>
<circle cx="1448.2" cy="168.5" r="2.05"/>
<circle cx="1447.7" cy="217.9" r="2.05"/>
<circle cx="1447" cy="216.4" r="2.05"/>
<circle cx="1437.3" cy="190.4" r="2.05"/>
<circle cx="1436.2" cy="187.7" r="2.05"/>
<circle cx="1438.5" cy="176" r="2.05"/>
<circle cx="1438.9" cy="192.1" r="2.05"/>
<circle cx="1465.6" cy="183.5" r="2.05"/>
<circle cx="1441.3" cy="192.1" r="2.05"/>
<circle cx="1439.9" cy="184.8" r="2.05"/>
<circle cx="1446.2" cy="157.6" r="2.05"/>
<circle cx="1455" cy="175.7" r="2.05"/>
<circle cx="1435.3" cy="164.4" r="2.05"/>
<circle cx="1451" cy="189.6" r="2.05"/>
<circle cx="1448.6" cy="161.3" r="2.05"/>
<circle cx="1440.7" cy="191.2" r="2.05"/>
<circle cx="1439" cy="202.1" r="2.05"/>
<circle cx="1440.8" cy="182.3" r="2.05"/>
<circle cx="1464.9" cy="161.3" r="2.05"/>
<circle cx="1444.1" cy="159.9" r="2.05"/>
<circle cx="1452.3" cy="196" r="2.05"/>
<circle cx="1444.7" cy="198.7" r="2.05"/>
<circle cx="1459.9" cy="188.6" r="2.05"/>
<circle cx="1438.5" cy="175.8" r="2.05"/>
<circle cx="1440.3" cy="154.7" r="2.05"/>
<circle cx="1448.1" cy="161.7" r="2.05"/>
<circle cx="1436.5" cy="199.1" r="2.05"/>
<circle cx="1436.5" cy="202.9" r="2.05"/>
<circle cx="1454.6" cy="186.2" r="2.05"/>
<circle cx="1447.1" cy="155" r="2.05"/>
<circle cx="1442.3" cy="192.8" r="2.05"/>
<circle cx="1436.3" cy="197.2" r="2.05"/>
<circle cx="1445.8" cy="174" r="2.05"/>
<circle cx="1444.1" cy="188.8" r="2.05"/>
<circle cx="1443.6" cy="201.5" r="2.05"/>
<circle cx="1455.5" cy="186.9" r="2.05"/>
<circle cx="1437.1" cy="194.9" r="2.05"/>
<circle cx="1454.7" cy="160.5" r="2.05"/>
<circle cx="1450.8" cy="164.6" r="2.05"/>
<circle cx="1435.8" cy="152" r="2.05"/>
<circle cx="1442.9" cy="170.6" r="2.05"/>
<circle cx="1441.8" cy="166" r="2.05"/>
<circle cx="1438.1" cy="182" r="2.05"/>
<circle cx="1454.4" cy="140.1" r="2.05"/>
<circle cx="1450.8" cy="211" r="2.05"/>
<circle cx="1450.7" cy="142.8" r="2.05"/>
<circle cx="1479" cy="173.9" r="2.05"/>
<circle cx="1465" cy="169.1" r="2.05"/>
<circle cx="1456.2" cy="166.9" r="2.05"/>
<circle cx="1478.3" cy="183.5" r="2.05"/>
<circle cx="1466" cy="167.2" r="2.05"/>
<circle cx="1463.3" cy="167" r="2.05"/>
<circle cx="1455.8" cy="193.1" r="2.05"/>
<circle cx="1467.8" cy="161.8" r="2.05"/>
<circle cx="1469.6" cy="147.7" r="2.05"/>
<circle cx="1443" cy="212.4" r="2.05"/>
<circle cx="1492.5" cy="174.6" r="2.05"/>
<circle cx="1467" cy="168.4" r="2.05"/>
<circle cx="1471.8" cy="174.8" r="2.05"/>
<circle cx="1458.6" cy="180.1" r="2.05"/>
<circle cx="1464.7" cy="160.6" r="2.05"/>
<circle cx="1446.9" cy="153.6" r="2.05"/>
<circle cx="1478" cy="157.7" r="2.05"/>
<circle cx="1459.5" cy="174.2" r="2.05"/>
<circle cx="1470.8" cy="182.3" r="2.05"/>
<circle cx="1453.7" cy="156.5" r="2.05"/>
<circle cx="1447.6" cy="182.4" r="2.05"/>
<circle cx="1473.7" cy="136.8" r="2.05"/>
<circle cx="1451" cy="155.7" r="2.05"/>
<circle cx="1451.5" cy="166.8" r="2.05"/>
<circle cx="1468.2" cy="185.7" r="2.05"/>
<circle cx="1476.2" cy="136.9" r="2.05"/>
<circle cx="1461.9" cy="165.5" r="2.05"/>
<circle cx="1443.9" cy="147.1" r="2.05"/>
<circle cx="1462" cy="189.8" r="2.05"/>
<circle cx="1472.4" cy="189.5" r="2.05"/>
<circle cx="1451" cy="206.7" r="2.05"/>
<circle cx="1481.3" cy="173.7" r="2.05"/>
<circle cx="1451.5" cy="182" r="2.05"/>
<circle cx="1452.8" cy="163.8" r="2.05"/>
<circle cx="1482.5" cy="179.2" r="2.05"/>
<circle cx="1467.6" cy="196.4" r="2.05"/>
<circle cx="1483.5" cy="164.4" r="2.05"/>
<circle cx="1450.8" cy="149" r="2.05"/>
<circle cx="1459.6" cy="148.8" r="2.05"/>
<circle cx="1476.9" cy="138.9" r="2.05"/>
<circle cx="1449.4" cy="172.7" r="2.05"/>
<circle cx="1466.5" cy="171.3" r="2.05"/>
<circle cx="1483.5" cy="174.3" r="2.05"/>
<circle cx="1475.8" cy="143.9" r="2.05"/>
<circle cx="1446.9" cy="188.6" r="2.05"/>
<circle cx="1453.1" cy="166.3" r="2.05"/>
<circle cx="1458.6" cy="169.5" r="2.05"/>
<circle cx="1454.4" cy="173.3" r="2.05"/>
<circle cx="1468.2" cy="156" r="2.05"/>
<circle cx="1449.6" cy="175.3" r="2.05"/>
<circle cx="1449.9" cy="176.2" r="2.05"/>
<circle cx="1440" cy="161.4" r="2.05"/>
<circle cx="1471" cy="168.8" r="2.05"/>
<circle cx="1451.1" cy="180.3" r="2.05"/>
<circle cx="1451.3" cy="197.3" r="2.05"/>
<circle cx="1485.1" cy="181.9" r="2.05"/>
<circle cx="1444" cy="166.2" r="2.05"/>
<circle cx="1470" cy="192" r="2.05"/>
<circle cx="1469.1" cy="198.9" r="2.05"/>
<circle cx="1482" cy="171.3" r="2.05"/>
<circle cx="1462.4" cy="169.6" r="2.05"/>
<circle cx="1452.9" cy="174.7" r="2.05"/>
<circle cx="1456.7" cy="151.7" r="2.05"/>
<circle cx="1459.8" cy="170.9" r="2.05"/>
<circle cx="1453.3" cy="182.4" r="2.05"/>
<circle cx="1450.3" cy="173.2" r="2.05"/>
<circle cx="1488.1" cy="144" r="2.05"/>
<circle cx="1464.6" cy="142.6" r="2.05"/>
<circle cx="1476" cy="162.1" r="2.05"/>
<circle cx="1458.7" cy="188" r="2.05"/>
<circle cx="1464.8" cy="173.8" r="2.05"/>
<circle cx="1442.2" cy="145.3" r="2.05"/>
<circle cx="1464.3" cy="161.1" r="2.05"/>
<circle cx="1464.1" cy="176.4" r="2.05"/>
<circle cx="1467.9" cy="150.8" r="2.05"/>
<circle cx="1456.6" cy="163.3" r="2.05"/>
<circle cx="1476.2" cy="172.9" r="2.05"/>
<circle cx="1463.6" cy="180.9" r="2.05"/>
<circle cx="1470" cy="173" r="2.05"/>
<circle cx="1478" cy="176.8" r="2.05"/>
<circle cx="1485.9" cy="167.2" r="2.05"/>
<circle cx="1448.8" cy="188" r="2.05"/>
<circle cx="1470.9" cy="180.4" r="2.05"/>
<circle cx="1487.6" cy="141.5" r="2.05"/>
<circle cx="1468.7" cy="190" r="2.05"/>
<circle cx="1460.8" cy="181.5" r="2.05"/>
<circle cx="1467.4" cy="133.3" r="2.05"/>
<circle cx="1453.2" cy="159.6" r="2.05"/>
<circle cx="1480" cy="179.3" r="2.05"/>
<circle cx="1456.1" cy="167.3" r="2.05"/>
<circle cx="1468.1" cy="185.9" r="2.05"/>
<circle cx="1464.3" cy="170.7" r="2.05"/>
<circle cx="1475.1" cy="190.8" r="2.05"/>
<circle cx="1452.8" cy="180.5" r="2.05"/>
<circle cx="1456.5" cy="160" r="2.05"/>
<circle cx="1451.9" cy="184" r="2.05"/>
<circle cx="1473.5" cy="150.1" r="2.05"/>
<circle cx="1475.3" cy="168.8" r="2.05"/>
<circle cx="1448.9" cy="177.8" r="2.05"/>
<circle cx="1470.9" cy="165" r="2.05"/>
<circle cx="1469.7" cy="158.2" r="2.05"/>
<circle cx="1448.1" cy="188.7" r="2.05"/>
<circle cx="1482.3" cy="171.1" r="2.05"/>
<circle cx="1488.4" cy="174.6" r="2.05"/>
<circle cx="1447.4" cy="159" r="2.05"/>
<circle cx="1444.5" cy="188.8" r="2.05"/>
<circle cx="1476.5" cy="178.1" r="2.05"/>
<circle cx="1498" cy="157" r="2.05"/>
<circle cx="1500.6" cy="155.7" r="2.05"/>
<circle cx="1461.9" cy="179.8" r="2.05"/>
<circle cx="1457.9" cy="178.9" r="2.05"/>
<circle cx="1460.8" cy="157.9" r="2.05"/>
<circle cx="1442.4" cy="190.2" r="2.05"/>
<circle cx="1483.2" cy="164.3" r="2.05"/>
<circle cx="1460.9" cy="170.9" r="2.05"/>
<circle cx="1475.9" cy="160.3" r="2.05"/>
<circle cx="1473.6" cy="168.7" r="2.05"/>
<circle cx="1459.3" cy="171.4" r="2.05"/>
<circle cx="1477.1" cy="189.9" r="2.05"/>
<circle cx="1446.5" cy="163.9" r="2.05"/>
<circle cx="1461.9" cy="156.9" r="2.05"/>
<circle cx="1486.2" cy="132.8" r="2.05"/>
<circle cx="1481.4" cy="167.2" r="2.05"/>
<circle cx="1491.2" cy="174.5" r="2.05"/>
<circle cx="1459.9" cy="154.6" r="2.05"/>
<circle cx="1458" cy="172.8" r="2.05"/>
<circle cx="1455.9" cy="150.1" r="2.05"/>
<circle cx="1479.8" cy="147.5" r="2.05"/>
<circle cx="1460.1" cy="161.4" r="2.05"/>
<circle cx="1446.9" cy="156.9" r="2.05"/>
<circle cx="1447.6" cy="152.1" r="2.05"/>
<circle cx="1460.3" cy="175.5" r="2.05"/>
<circle cx="1454" cy="175.2" r="2.05"/>
<circle cx="1442.7" cy="197.1" r="2.05"/>
<circle cx="1485.5" cy="162.7" r="2.05"/>
<circle cx="1469.2" cy="162.6" r="2.05"/>
<circle cx="1468.1" cy="191.8" r="2.05"/>
<circle cx="1447.2" cy="164.3" r="2.05"/>
<circle cx="1475.8" cy="183.5" r="2.05"/>
<circle cx="1452.6" cy="189.4" r="2.05"/>
<circle cx="1470.7" cy="161.6" r="2.05"/>
<circle cx="1461.6" cy="180.1" r="2.05"/>
<circle cx="1466.2" cy="167.9" r="2.05"/>
<circle cx="1450.2" cy="168.1" r="2.05"/>
<circle cx="1451.4" cy="158" r="2.05"/>
<circle cx="1470.3" cy="178" r="2.05"/>
<circle cx="1469.7" cy="166.2" r="2.05"/>
<circle cx="1450.7" cy="187.6" r="2.05"/>
<circle cx="1444.5" cy="169.6" r="2.05"/>
<circle cx="1552.3" cy="149.5" r="2.05"/>
<circle cx="1484.7" cy="167.3" r="2.05"/>
<circle cx="1485.7" cy="164.4" r="2.05"/>
<circle cx="1530.5" cy="142.4" r="2.05"/>
<circle cx="1512.7" cy="159.9" r="2.05"/>
<circle cx="1553.3" cy="141.2" r="2.05"/>
<circle cx="1503.4" cy="147.1" r="2.05"/>
<circle cx="1504.9" cy="135.3" r="2.05"/>
<circle cx="1513.1" cy="166" r="2.05"/>
<circle cx="1492.3" cy="151.7" r="2.05"/>
<circle cx="1546.2" cy="141.3" r="2.05"/>
<circle cx="1530.5" cy="136.2" r="2.05"/>
<circle cx="1483.8" cy="143.8" r="2.05"/>
<circle cx="1519.3" cy="155" r="2.05"/>
<circle cx="1537.9" cy="139.8" r="2.05"/>
<circle cx="1535.9" cy="155.8" r="2.05"/>
<circle cx="1532.2" cy="148.3" r="2.05"/>
<circle cx="1513.5" cy="156.6" r="2.05"/>
<circle cx="1550.6" cy="148" r="2.05"/>
<circle cx="1479.5" cy="160.3" r="2.05"/>
<circle cx="1494.9" cy="143.3" r="2.05"/>
<circle cx="1486.1" cy="179.8" r="2.05"/>
<circle cx="1505.7" cy="200.5" r="2.05"/>
<circle cx="1500.3" cy="162.1" r="2.05"/>
<circle cx="1510.9" cy="163.4" r="2.05"/>
<circle cx="1533.7" cy="155.3" r="2.05"/>
<circle cx="1484.8" cy="157.7" r="2.05"/>
<circle cx="1522.2" cy="152.6" r="2.05"/>
<circle cx="1487.1" cy="178.5" r="2.05"/>
<circle cx="1494.5" cy="158.8" r="2.05"/>
<circle cx="1532.2" cy="175.5" r="2.05"/>
<circle cx="1502.3" cy="155.6" r="2.05"/>
<circle cx="1553.1" cy="134.7" r="2.05"/>
<circle cx="1490.4" cy="175.7" r="2.05"/>
<circle cx="1517.5" cy="135.6" r="2.05"/>
<circle cx="1655.5" cy="160.8" r="2.05"/>
<circle cx="1619.3" cy="169.6" r="2.05"/>
<circle cx="1630.6" cy="198.1" r="2.05"/>
<circle cx="1603.5" cy="136.8" r="2.05"/>
<circle cx="1569.6" cy="132.4" r="2.05"/>
<circle cx="1587.7" cy="152.1" r="2.05"/>
<circle cx="1558.3" cy="163" r="2.05"/>
<circle cx="1562.8" cy="191.5" r="2.05"/>
<circle cx="1547" cy="204.6" r="2.05"/>
<circle cx="1513.1" cy="204.6" r="2.05"/>
<circle cx="1470.2" cy="239.7" r="2.05"/>
<circle cx="1481.5" cy="246.3" r="2.05"/>
<circle cx="1447.6" cy="248.4" r="2.05"/>
<circle cx="1456.6" cy="246.3" r="2.05"/>
<circle cx="1434" cy="302.3" r="2.05"/>
</g>
<path d="M1434.2 182.8 L1443.5 179.9 L1452.8 176.9 L1462 173.9 L1471.3 170.7 L1480.6 167.5 L1489.9 164.1 L1499.2 160.7 L1508.4 157.2 L1517.7 153.7 L1527 150.1 L1536.3 146.4 L1545.6 142.7 L1554.8 139 L1564.1 135.1 L1573.4 131.2 L1582.7 127.3 L1591.9 123.3 L1601.2 119.2 L1610.5 115.1 L1619.8 110.9 L1629.1 106.6 L1638.3 102.3 L1647.6 97.9 L1656.9 93.5 L1656.9 115.5 L1647.6 117.8 L1638.3 120.2 L1629.1 122.7 L1619.8 125.2 L1610.5 127.8 L1601.2 130.5 L1591.9 133.2 L1582.7 135.9 L1573.4 138.8 L1564.1 141.6 L1554.8 144.6 L1545.6 147.6 L1536.3 150.6 L1527 153.8 L1517.7 156.9 L1508.4 160.2 L1499.2 163.5 L1489.9 166.8 L1480.6 170.3 L1471.3 173.8 L1462 177.4 L1452.8 181.1 L1443.5 184.9 L1434.2 188.8Z" fill="#999" fill-opacity=".4"/>
<line x1="1434.2" y1="185.8" x2="1656.9" y2="104.5" stroke="#3366ff" stroke-width="2.2"/>
<rect x="1423.4" y="81.5" width="244.6" height="231.8" fill="none" stroke="#333" stroke-width="1.1"/>
<text x="1665.5" y="94.9" font-size="12.1" text-anchor="end" fill="#e01c1c" font-family="DejaVu Sans, sans-serif">Rho = 0.493</text>
<text x="1665.5" y="106.7" font-size="12.1" text-anchor="end" fill="#e01c1c" font-family="DejaVu Sans, sans-serif">p = 1.39e-31</text>
<line x1="1434" y1="313.3" x2="1434" y2="317.5" stroke="#222" stroke-width="1.4"/>
<text x="1434" y="331.3" font-size="13.2" text-anchor="middle" fill="#333" font-family="DejaVu Sans, sans-serif">0.00</text>
<line x1="1490.5" y1="313.3" x2="1490.5" y2="317.5" stroke="#222" stroke-width="1.4"/>
<text x="1490.5" y="331.3" font-size="13.2" text-anchor="middle" fill="#333" font-family="DejaVu Sans, sans-serif">0.25</text>
<line x1="1547" y1="313.3" x2="1547" y2="317.5" stroke="#222" stroke-width="1.4"/>
<text x="1547" y="331.3" font-size="13.2" text-anchor="middle" fill="#333" font-family="DejaVu Sans, sans-serif">0.50</text>
<line x1="1603.5" y1="313.3" x2="1603.5" y2="317.5" stroke="#222" stroke-width="1.4"/>
<text x="1603.5" y="331.3" font-size="13.2" text-anchor="middle" fill="#333" font-family="DejaVu Sans, sans-serif">0.75</text>
<line x1="1660" y1="313.3" x2="1660" y2="317.5" stroke="#222" stroke-width="1.4"/>
<text x="1660" y="331.3" font-size="13.2" text-anchor="middle" fill="#333" font-family="DejaVu Sans, sans-serif">1.00</text>
<rect x="1682.3" y="56.5" width="245.2" height="25.0" fill="#d9d9d9" stroke="#4d4d4d" stroke-width="1.3"/>
<text x="1804.9" y="74" font-size="13.3" text-anchor="middle" fill="#1a1a1a" font-family="DejaVu Sans, sans-serif">Macrophage_TIMER</text>
<line x1="1682.3" y1="81.5" x2="1927.5" y2="81.5" stroke="#1a1a1a" stroke-width="1.7"/>
<line x1="1719.5" y1="81.5" x2="1719.5" y2="314.3" stroke="#eeeeee" stroke-width="1.2"/>
<line x1="1772.5" y1="81.5" x2="1772.5" y2="314.3" stroke="#eeeeee" stroke-width="1.2"/>
<line x1="1825.4" y1="81.5" x2="1825.4" y2="314.3" stroke="#eeeeee" stroke-width="1.2"/>
<line x1="1878.4" y1="81.5" x2="1878.4" y2="314.3" stroke="#eeeeee" stroke-width="1.2"/>
<line x1="1682.3" y1="305.8" x2="1927.5" y2="305.8" stroke="#eeeeee" stroke-width="1.2"/>
<line x1="1682.3" y1="281.7" x2="1927.5" y2="281.7" stroke="#e5e5e5" stroke-width="1.7"/>
<line x1="1682.3" y1="257.6" x2="1927.5" y2="257.6" stroke="#eeeeee" stroke-width="1.2"/>
<line x1="1682.3" y1="233.5" x2="1927.5" y2="233.5" stroke="#e5e5e5" stroke-width="1.7"/>
<line x1="1682.3" y1="209.4" x2="1927.5" y2="209.4" stroke="#eeeeee" stroke-width="1.2"/>
<line x1="1682.3" y1="185.3" x2="1927.5" y2="185.3" stroke="#e5e5e5" stroke-width="1.7"/>
<line x1="1682.3" y1="161.2" x2="1927.5" y2="161.2" stroke="#eeeeee" stroke-width="1.2"/>
<line x1="1682.3" y1="137.1" x2="1927.5" y2="137.1" stroke="#e5e5e5" stroke-width="1.7"/>
<line x1="1682.3" y1="113" x2="1927.5" y2="113" stroke="#eeeeee" stroke-width="1.2"/>
<line x1="1682.3" y1="88.9" x2="1927.5" y2="88.9" stroke="#e5e5e5" stroke-width="1.7"/>
<line x1="1693" y1="81.5" x2="1693" y2="314.3" stroke="#e5e5e5" stroke-width="1.7"/>
<line x1="1746" y1="81.5" x2="1746" y2="314.3" stroke="#e5e5e5" stroke-width="1.7"/>
<line x1="1799" y1="81.5" x2="1799" y2="314.3" stroke="#e5e5e5" stroke-width="1.7"/>
<line x1="1851.9" y1="81.5" x2="1851.9" y2="314.3" stroke="#e5e5e5" stroke-width="1.7"/>
<line x1="1904.9" y1="81.5" x2="1904.9" y2="314.3" stroke="#e5e5e5" stroke-width="1.7"/>
<g fill="#000" fill-opacity=".32" stroke="#000" stroke-opacity=".5" stroke-width="1.1">
<circle cx="1693" cy="142.4" r="2.05"/>
<circle cx="1693" cy="175.3" r="2.05"/>
<circle cx="1693" cy="193" r="2.05"/>
<circle cx="1693" cy="159.5" r="2.05"/>
<circle cx="1693" cy="167" r="2.05"/>
<circle cx="1693" cy="174.5" r="2.05"/>
<circle cx="1693" cy="204.1" r="2.05"/>
<circle cx="1693" cy="151.5" r="2.05"/>
<circle cx="1693" cy="153.6" r="2.05"/>
<circle cx="1693" cy="139" r="2.05"/>
<circle cx="1693" cy="156.5" r="2.05"/>
<circle cx="1693" cy="169.4" r="2.05"/>
<circle cx="1693" cy="185.8" r="2.05"/>
<circle cx="1693" cy="173" r="2.05"/>
<circle cx="1693" cy="185.5" r="2.05"/>
<circle cx="1693" cy="170.1" r="2.05"/>
<circle cx="1693" cy="183" r="2.05"/>
<circle cx="1693" cy="143" r="2.05"/>
<circle cx="1693" cy="169.2" r="2.05"/>
<circle cx="1693" cy="156.5" r="2.05"/>
<circle cx="1693" cy="165.8" r="2.05"/>
<circle cx="1693" cy="172.5" r="2.05"/>
<circle cx="1693" cy="208.9" r="2.05"/>
<circle cx="1693" cy="174.3" r="2.05"/>
<circle cx="1693" cy="175.6" r="2.05"/>
<circle cx="1693" cy="142.1" r="2.05"/>
<circle cx="1693" cy="190.8" r="2.05"/>
<circle cx="1693" cy="150.1" r="2.05"/>
<circle cx="1693" cy="152" r="2.05"/>
<circle cx="1693" cy="166.9" r="2.05"/>
<circle cx="1693" cy="167.6" r="2.05"/>
<circle cx="1693" cy="146.5" r="2.05"/>
<circle cx="1693" cy="160.7" r="2.05"/>
<circle cx="1693" cy="185.8" r="2.05"/>
<circle cx="1693" cy="122.8" r="2.05"/>
<circle cx="1693" cy="156.3" r="2.05"/>
<circle cx="1693" cy="208.3" r="2.05"/>
<circle cx="1693" cy="196.2" r="2.05"/>
<circle cx="1693" cy="198.6" r="2.05"/>
<circle cx="1693" cy="207.5" r="2.05"/>
<circle cx="1693" cy="179.2" r="2.05"/>
<circle cx="1693" cy="171.8" r="2.05"/>
<circle cx="1693" cy="190.8" r="2.05"/>
<circle cx="1693" cy="168.9" r="2.05"/>
<circle cx="1693" cy="177" r="2.05"/>
<circle cx="1693" cy="148.1" r="2.05"/>
<circle cx="1693" cy="194.8" r="2.05"/>
<circle cx="1693" cy="167.9" r="2.05"/>
<circle cx="1693" cy="163" r="2.05"/>
<circle cx="1693" cy="148.8" r="2.05"/>
<circle cx="1693" cy="191.7" r="2.05"/>
<circle cx="1693" cy="166.5" r="2.05"/>
<circle cx="1693" cy="194" r="2.05"/>
<circle cx="1693" cy="150.4" r="2.05"/>
<circle cx="1693" cy="155.5" r="2.05"/>
<circle cx="1693" cy="141.5" r="2.05"/>
<circle cx="1693" cy="172" r="2.05"/>
<circle cx="1693" cy="129.3" r="2.05"/>
<circle cx="1693" cy="176.9" r="2.05"/>
<circle cx="1693" cy="202.2" r="2.05"/>
<circle cx="1693" cy="182.3" r="2.05"/>
<circle cx="1693" cy="167.8" r="2.05"/>
<circle cx="1693" cy="142.9" r="2.05"/>
<circle cx="1693" cy="177.7" r="2.05"/>
<circle cx="1693" cy="178.7" r="2.05"/>
<circle cx="1693" cy="153.3" r="2.05"/>
<circle cx="1693" cy="193.8" r="2.05"/>
<circle cx="1693" cy="146.3" r="2.05"/>
<circle cx="1693" cy="155.6" r="2.05"/>
<circle cx="1693" cy="188.6" r="2.05"/>
<circle cx="1693" cy="167.8" r="2.05"/>
<circle cx="1693" cy="180.9" r="2.05"/>
<circle cx="1693" cy="185.5" r="2.05"/>
<circle cx="1693" cy="160" r="2.05"/>
<circle cx="1693" cy="173.1" r="2.05"/>
<circle cx="1693" cy="146.8" r="2.05"/>
<circle cx="1693" cy="165" r="2.05"/>
<circle cx="1693" cy="201.3" r="2.05"/>
<circle cx="1693" cy="161.8" r="2.05"/>
<circle cx="1693" cy="150.8" r="2.05"/>
<circle cx="1693" cy="159.2" r="2.05"/>
<circle cx="1693" cy="196.9" r="2.05"/>
<circle cx="1693" cy="179.8" r="2.05"/>
<circle cx="1693" cy="193.6" r="2.05"/>
<circle cx="1693" cy="172" r="2.05"/>
<circle cx="1693" cy="182.3" r="2.05"/>
<circle cx="1693" cy="147" r="2.05"/>
<circle cx="1693" cy="158.4" r="2.05"/>
<circle cx="1693" cy="154.8" r="2.05"/>
<circle cx="1693" cy="197.9" r="2.05"/>
<circle cx="1693" cy="171" r="2.05"/>
<circle cx="1693" cy="127.7" r="2.05"/>
<circle cx="1693" cy="174.2" r="2.05"/>
<circle cx="1693" cy="163.5" r="2.05"/>
<circle cx="1693" cy="146.5" r="2.05"/>
<circle cx="1693" cy="136" r="2.05"/>
<circle cx="1693" cy="141.7" r="2.05"/>
<circle cx="1693" cy="168" r="2.05"/>
<circle cx="1693" cy="191" r="2.05"/>
<circle cx="1693" cy="177.7" r="2.05"/>
<circle cx="1693" cy="153.4" r="2.05"/>
<circle cx="1693" cy="200.1" r="2.05"/>
<circle cx="1693" cy="163.3" r="2.05"/>
<circle cx="1693" cy="132.6" r="2.05"/>
<circle cx="1693" cy="191.8" r="2.05"/>
<circle cx="1693" cy="150.3" r="2.05"/>
<circle cx="1693" cy="183.3" r="2.05"/>
<circle cx="1693" cy="182.6" r="2.05"/>
<circle cx="1693" cy="157.1" r="2.05"/>
<circle cx="1693" cy="152.4" r="2.05"/>
<circle cx="1693" cy="219" r="2.05"/>
<circle cx="1693" cy="223.9" r="2.05"/>
<circle cx="1693" cy="228.7" r="2.05"/>
<circle cx="1693" cy="233.5" r="2.05"/>
<circle cx="1693" cy="238.3" r="2.05"/>
<circle cx="1693" cy="243.1" r="2.05"/>
<circle cx="1700.2" cy="154.8" r="2.05"/>
<circle cx="1713.7" cy="130.7" r="2.05"/>
<circle cx="1702" cy="178.1" r="2.05"/>
<circle cx="1731.3" cy="142.9" r="2.05"/>
<circle cx="1697.6" cy="152.5" r="2.05"/>
<circle cx="1729.7" cy="162.9" r="2.05"/>
<circle cx="1708.2" cy="146" r="2.05"/>
<circle cx="1696.7" cy="181.1" r="2.05"/>
<circle cx="1715.9" cy="159.6" r="2.05"/>
<circle cx="1705.5" cy="174" r="2.05"/>
<circle cx="1712.7" cy="143.8" r="2.05"/>
<circle cx="1703.2" cy="160.7" r="2.05"/>
<circle cx="1701.6" cy="172.2" r="2.05"/>
<circle cx="1707.9" cy="159.6" r="2.05"/>
<circle cx="1705.2" cy="172" r="2.05"/>
<circle cx="1707.1" cy="164.1" r="2.05"/>
<circle cx="1713.1" cy="137.2" r="2.05"/>
<circle cx="1715.9" cy="157.1" r="2.05"/>
<circle cx="1724.7" cy="171.1" r="2.05"/>
<circle cx="1695.1" cy="148.6" r="2.05"/>
<circle cx="1705.5" cy="175.4" r="2.05"/>
<circle cx="1704.5" cy="170.1" r="2.05"/>
<circle cx="1701.5" cy="158.7" r="2.05"/>
<circle cx="1716.5" cy="173.2" r="2.05"/>
<circle cx="1710.2" cy="153.6" r="2.05"/>
<circle cx="1697.1" cy="150.4" r="2.05"/>
<circle cx="1700.9" cy="154.3" r="2.05"/>
<circle cx="1696.2" cy="177" r="2.05"/>
<circle cx="1694.8" cy="134" r="2.05"/>
<circle cx="1709.3" cy="155.7" r="2.05"/>
<circle cx="1698.8" cy="159.4" r="2.05"/>
<circle cx="1705.5" cy="155.7" r="2.05"/>
<circle cx="1701.5" cy="170.9" r="2.05"/>
<circle cx="1710.5" cy="181.1" r="2.05"/>
<circle cx="1707.2" cy="149.4" r="2.05"/>
<circle cx="1704.3" cy="184.5" r="2.05"/>
<circle cx="1722.1" cy="148" r="2.05"/>
<circle cx="1710.2" cy="160.2" r="2.05"/>
<circle cx="1704.7" cy="154.1" r="2.05"/>
<circle cx="1701.7" cy="173.4" r="2.05"/>
<circle cx="1704.8" cy="154" r="2.05"/>
<circle cx="1702.1" cy="148.3" r="2.05"/>
<circle cx="1710.9" cy="178.7" r="2.05"/>
<circle cx="1710.4" cy="166.9" r="2.05"/>
<circle cx="1728" cy="204.8" r="2.05"/>
<circle cx="1697.1" cy="153.1" r="2.05"/>
<circle cx="1720" cy="175" r="2.05"/>
<circle cx="1702.7" cy="154.4" r="2.05"/>
<circle cx="1695.2" cy="151.8" r="2.05"/>
<circle cx="1697.4" cy="174.7" r="2.05"/>
<circle cx="1722.4" cy="171" r="2.05"/>
<circle cx="1696.6" cy="126.7" r="2.05"/>
<circle cx="1723.7" cy="163.7" r="2.05"/>
<circle cx="1708.2" cy="172.4" r="2.05"/>
<circle cx="1703.8" cy="168.7" r="2.05"/>
<circle cx="1715.6" cy="150.9" r="2.05"/>
<circle cx="1699.1" cy="199.2" r="2.05"/>
<circle cx="1723.4" cy="169.1" r="2.05"/>
<circle cx="1715.4" cy="146.5" r="2.05"/>
<circle cx="1723.6" cy="167.4" r="2.05"/>
<circle cx="1702.2" cy="172.1" r="2.05"/>
<circle cx="1709" cy="156.1" r="2.05"/>
<circle cx="1704.6" cy="153.5" r="2.05"/>
<circle cx="1700.6" cy="162.6" r="2.05"/>
<circle cx="1697.9" cy="154.6" r="2.05"/>
<circle cx="1745" cy="164.6" r="2.05"/>
<circle cx="1709.6" cy="179.7" r="2.05"/>
<circle cx="1702.4" cy="158.5" r="2.05"/>
<circle cx="1712" cy="176" r="2.05"/>
<circle cx="1707.1" cy="162.4" r="2.05"/>
<circle cx="1726.7" cy="142.2" r="2.05"/>
<circle cx="1719.9" cy="149.2" r="2.05"/>
<circle cx="1720.1" cy="167" r="2.05"/>
<circle cx="1722" cy="145.4" r="2.05"/>
<circle cx="1716.8" cy="166" r="2.05"/>
<circle cx="1695.8" cy="172.3" r="2.05"/>
<circle cx="1726.2" cy="180" r="2.05"/>
<circle cx="1695.2" cy="159.1" r="2.05"/>
<circle cx="1708.1" cy="157.7" r="2.05"/>
<circle cx="1720.3" cy="148.1" r="2.05"/>
<circle cx="1705.6" cy="161" r="2.05"/>
<circle cx="1702.5" cy="204.2" r="2.05"/>
<circle cx="1716.5" cy="148.6" r="2.05"/>
<circle cx="1708.6" cy="142.6" r="2.05"/>
<circle cx="1716.7" cy="120.8" r="2.05"/>
<circle cx="1710.3" cy="133.7" r="2.05"/>
<circle cx="1697.2" cy="166.4" r="2.05"/>
<circle cx="1735.1" cy="142" r="2.05"/>
<circle cx="1731" cy="159.7" r="2.05"/>
<circle cx="1701.6" cy="148" r="2.05"/>
<circle cx="1697.9" cy="150.3" r="2.05"/>
<circle cx="1709.1" cy="193.6" r="2.05"/>
<circle cx="1695" cy="152.8" r="2.05"/>
<circle cx="1737.2" cy="157.6" r="2.05"/>
<circle cx="1705.4" cy="164.6" r="2.05"/>
<circle cx="1707.5" cy="139.8" r="2.05"/>
<circle cx="1712.6" cy="152.8" r="2.05"/>
<circle cx="1709" cy="164.3" r="2.05"/>
<circle cx="1715.4" cy="127.4" r="2.05"/>
<circle cx="1704.1" cy="126.6" r="2.05"/>
<circle cx="1724.1" cy="185.9" r="2.05"/>
<circle cx="1713.3" cy="167.4" r="2.05"/>
<circle cx="1740.6" cy="144.8" r="2.05"/>
<circle cx="1712.1" cy="159.1" r="2.05"/>
<circle cx="1709.5" cy="141.6" r="2.05"/>
<circle cx="1696" cy="188.6" r="2.05"/>
<circle cx="1708.3" cy="144.6" r="2.05"/>
<circle cx="1722.9" cy="187" r="2.05"/>
<circle cx="1708.8" cy="171.5" r="2.05"/>
<circle cx="1705.1" cy="148.2" r="2.05"/>
<circle cx="1698.2" cy="163.7" r="2.05"/>
<circle cx="1718.6" cy="158.6" r="2.05"/>
<circle cx="1728.5" cy="166.7" r="2.05"/>
<circle cx="1709.5" cy="152.1" r="2.05"/>
<circle cx="1743.8" cy="168" r="2.05"/>
<circle cx="1717.2" cy="163.1" r="2.05"/>
<circle cx="1702" cy="161.4" r="2.05"/>
<circle cx="1714.6" cy="148.4" r="2.05"/>
<circle cx="1697.5" cy="158.9" r="2.05"/>
<circle cx="1717.4" cy="161.9" r="2.05"/>
<circle cx="1711.2" cy="177.4" r="2.05"/>
<circle cx="1713.7" cy="138.4" r="2.05"/>
<circle cx="1733.8" cy="175.9" r="2.05"/>
<circle cx="1705.6" cy="158.7" r="2.05"/>
<circle cx="1697.2" cy="165.5" r="2.05"/>
<circle cx="1701.9" cy="159.1" r="2.05"/>
<circle cx="1694.9" cy="167.2" r="2.05"/>
<circle cx="1726.1" cy="173.9" r="2.05"/>
<circle cx="1703.9" cy="172" r="2.05"/>
<circle cx="1696.3" cy="164" r="2.05"/>
<circle cx="1702.4" cy="158" r="2.05"/>
<circle cx="1698.7" cy="152.2" r="2.05"/>
<circle cx="1705.2" cy="180.4" r="2.05"/>
<circle cx="1700.5" cy="141.6" r="2.05"/>
<circle cx="1723.2" cy="166.9" r="2.05"/>
<circle cx="1735.1" cy="150.2" r="2.05"/>
<circle cx="1711.4" cy="153.1" r="2.05"/>
<circle cx="1703" cy="181.1" r="2.05"/>
<circle cx="1723.8" cy="155.1" r="2.05"/>
<circle cx="1709.4" cy="177.8" r="2.05"/>
<circle cx="1712.8" cy="152.9" r="2.05"/>
<circle cx="1711.8" cy="149" r="2.05"/>
<circle cx="1698.8" cy="156.2" r="2.05"/>
<circle cx="1710.8" cy="170" r="2.05"/>
<circle cx="1696.8" cy="183.6" r="2.05"/>
<circle cx="1705.3" cy="179.9" r="2.05"/>
<circle cx="1709.5" cy="159" r="2.05"/>
<circle cx="1699.3" cy="152.3" r="2.05"/>
<circle cx="1697.1" cy="134.9" r="2.05"/>
<circle cx="1709" cy="179.7" r="2.05"/>
<circle cx="1695.2" cy="157.3" r="2.05"/>
<circle cx="1731.4" cy="166.1" r="2.05"/>
<circle cx="1728" cy="154.2" r="2.05"/>
<circle cx="1724.3" cy="167.6" r="2.05"/>
<circle cx="1699.4" cy="168.6" r="2.05"/>
<circle cx="1702.8" cy="177.9" r="2.05"/>
<circle cx="1706.8" cy="148.9" r="2.05"/>
<circle cx="1719.9" cy="159.5" r="2.05"/>
<circle cx="1694.1" cy="145.3" r="2.05"/>
<circle cx="1715.6" cy="147.4" r="2.05"/>
<circle cx="1706.1" cy="150.1" r="2.05"/>
<circle cx="1708.6" cy="144" r="2.05"/>
<circle cx="1712.3" cy="160.1" r="2.05"/>
<circle cx="1716.6" cy="175.1" r="2.05"/>
<circle cx="1706" cy="154.8" r="2.05"/>
<circle cx="1712.9" cy="150.9" r="2.05"/>
<circle cx="1710.1" cy="145.4" r="2.05"/>
<circle cx="1702.8" cy="141.5" r="2.05"/>
<circle cx="1718.7" cy="148.4" r="2.05"/>
<circle cx="1742" cy="153.5" r="2.05"/>
<circle cx="1706.6" cy="160.4" r="2.05"/>
<circle cx="1703.8" cy="146.4" r="2.05"/>
<circle cx="1694.8" cy="165.8" r="2.05"/>
<circle cx="1708.2" cy="141.7" r="2.05"/>
<circle cx="1695.4" cy="180" r="2.05"/>
<circle cx="1708.7" cy="157" r="2.05"/>
<circle cx="1718.3" cy="169.4" r="2.05"/>
<circle cx="1703.6" cy="191.2" r="2.05"/>
<circle cx="1722.1" cy="179.1" r="2.05"/>
<circle cx="1715.9" cy="176.9" r="2.05"/>
<circle cx="1695" cy="174.5" r="2.05"/>
<circle cx="1696.2" cy="194.6" r="2.05"/>
<circle cx="1698.3" cy="148.5" r="2.05"/>
<circle cx="1710" cy="126.4" r="2.05"/>
<circle cx="1718.6" cy="135.3" r="2.05"/>
<circle cx="1704" cy="183.5" r="2.05"/>
<circle cx="1710.6" cy="169.2" r="2.05"/>
<circle cx="1703.7" cy="169.9" r="2.05"/>
<circle cx="1727.9" cy="158.8" r="2.05"/>
<circle cx="1697.7" cy="178.2" r="2.05"/>
<circle cx="1705.8" cy="163.2" r="2.05"/>
<circle cx="1699" cy="176.5" r="2.05"/>
<circle cx="1707.5" cy="173.5" r="2.05"/>
<circle cx="1695.1" cy="145.8" r="2.05"/>
<circle cx="1720.5" cy="165.5" r="2.05"/>
<circle cx="1731.6" cy="163.8" r="2.05"/>
<circle cx="1722.3" cy="155.3" r="2.05"/>
<circle cx="1694.1" cy="164.2" r="2.05"/>
<circle cx="1695.6" cy="159.6" r="2.05"/>
<circle cx="1700.5" cy="164.9" r="2.05"/>
<circle cx="1702.4" cy="154.7" r="2.05"/>
<circle cx="1717.6" cy="176.6" r="2.05"/>
<circle cx="1701.9" cy="147.2" r="2.05"/>
<circle cx="1716.6" cy="173" r="2.05"/>
<circle cx="1744.8" cy="167.6" r="2.05"/>
<circle cx="1714.3" cy="153.6" r="2.05"/>
<circle cx="1746.9" cy="164.4" r="2.05"/>
<circle cx="1724.3" cy="149.5" r="2.05"/>
<circle cx="1701.1" cy="161.7" r="2.05"/>
<circle cx="1700" cy="158.5" r="2.05"/>
<circle cx="1705.2" cy="194" r="2.05"/>
<circle cx="1713.1" cy="154.7" r="2.05"/>
<circle cx="1719.8" cy="157.6" r="2.05"/>
<circle cx="1699.9" cy="150.6" r="2.05"/>
<circle cx="1719.1" cy="194.4" r="2.05"/>
<circle cx="1720.4" cy="148.7" r="2.05"/>
<circle cx="1694.4" cy="179.6" r="2.05"/>
<circle cx="1695.3" cy="145.3" r="2.05"/>
<circle cx="1705.9" cy="148.9" r="2.05"/>
<circle cx="1694.6" cy="186.1" r="2.05"/>
<circle cx="1700.1" cy="127" r="2.05"/>
<circle cx="1717.1" cy="148.2" r="2.05"/>
<circle cx="1711.2" cy="161" r="2.05"/>
<circle cx="1698.7" cy="168.8" r="2.05"/>
<circle cx="1708.3" cy="163.8" r="2.05"/>
<circle cx="1702.5" cy="154.9" r="2.05"/>
<circle cx="1711.9" cy="153.8" r="2.05"/>
<circle cx="1705.7" cy="154.3" r="2.05"/>
<circle cx="1721.5" cy="138" r="2.05"/>
<circle cx="1726.2" cy="168.7" r="2.05"/>
<circle cx="1708.5" cy="159" r="2.05"/>
<circle cx="1734.9" cy="129.4" r="2.05"/>
<circle cx="1710.2" cy="127.3" r="2.05"/>
<circle cx="1725.8" cy="176.7" r="2.05"/>
<circle cx="1714.7" cy="154.6" r="2.05"/>
<circle cx="1696" cy="139.2" r="2.05"/>
<circle cx="1712.4" cy="183.1" r="2.05"/>
<circle cx="1700.5" cy="165.7" r="2.05"/>
<circle cx="1721.9" cy="151.3" r="2.05"/>
<circle cx="1719" cy="163.3" r="2.05"/>
<circle cx="1724.4" cy="162" r="2.05"/>
<circle cx="1715.2" cy="164" r="2.05"/>
<circle cx="1696.3" cy="156.8" r="2.05"/>
<circle cx="1705.2" cy="160.3" r="2.05"/>
<circle cx="1710.4" cy="180.4" r="2.05"/>
<circle cx="1700.9" cy="165.3" r="2.05"/>
<circle cx="1702.5" cy="192.2" r="2.05"/>
<circle cx="1721.1" cy="165.6" r="2.05"/>
<circle cx="1750" cy="185.3" r="2.05"/>
<circle cx="1714.4" cy="164.2" r="2.05"/>
<circle cx="1711.3" cy="181.6" r="2.05"/>
<circle cx="1719" cy="177.3" r="2.05"/>
<circle cx="1711.2" cy="166.7" r="2.05"/>
<circle cx="1699.5" cy="155.6" r="2.05"/>
<circle cx="1694.2" cy="164.7" r="2.05"/>
<circle cx="1725.8" cy="151.2" r="2.05"/>
<circle cx="1720" cy="160.4" r="2.05"/>
<circle cx="1694.5" cy="167.6" r="2.05"/>
<circle cx="1695.2" cy="187.4" r="2.05"/>
<circle cx="1705.8" cy="163.2" r="2.05"/>
<circle cx="1737.9" cy="157.3" r="2.05"/>
<circle cx="1790.9" cy="155.9" r="2.05"/>
<circle cx="1750.6" cy="140.5" r="2.05"/>
<circle cx="1772.7" cy="148" r="2.05"/>
<circle cx="1752.5" cy="172.7" r="2.05"/>
<circle cx="1764" cy="158.2" r="2.05"/>
<circle cx="1790.2" cy="144.5" r="2.05"/>
<circle cx="1791.2" cy="135" r="2.05"/>
<circle cx="1756.8" cy="143.5" r="2.05"/>
<circle cx="1775.9" cy="155.8" r="2.05"/>
<circle cx="1774" cy="119.4" r="2.05"/>
<circle cx="1785.3" cy="155.4" r="2.05"/>
<circle cx="1743.2" cy="148" r="2.05"/>
<circle cx="1746.3" cy="168.5" r="2.05"/>
<circle cx="1750.2" cy="141.8" r="2.05"/>
<circle cx="1783" cy="173.1" r="2.05"/>
<circle cx="1770.9" cy="142.7" r="2.05"/>
<circle cx="1763.9" cy="140.4" r="2.05"/>
<circle cx="1739.4" cy="156.5" r="2.05"/>
<circle cx="1735.4" cy="147.3" r="2.05"/>
<circle cx="1774.2" cy="141.5" r="2.05"/>
<circle cx="1747.4" cy="121.8" r="2.05"/>
<circle cx="1783.2" cy="148.7" r="2.05"/>
<circle cx="1752" cy="139" r="2.05"/>
<circle cx="1725.6" cy="169.1" r="2.05"/>
<circle cx="1725.7" cy="149.3" r="2.05"/>
<circle cx="1784.1" cy="144.9" r="2.05"/>
<circle cx="1790.9" cy="143.1" r="2.05"/>
<circle cx="1740.5" cy="152.6" r="2.05"/>
<circle cx="1731.6" cy="150.7" r="2.05"/>
<circle cx="1773.7" cy="162.4" r="2.05"/>
<circle cx="1741.7" cy="161.3" r="2.05"/>
<circle cx="1744.5" cy="137.2" r="2.05"/>
<circle cx="1792.9" cy="145.8" r="2.05"/>
<circle cx="1785.8" cy="123.1" r="2.05"/>
<circle cx="1726.2" cy="134" r="2.05"/>
<circle cx="1773.8" cy="137.8" r="2.05"/>
<circle cx="1762.6" cy="170.7" r="2.05"/>
<circle cx="1780.8" cy="134.4" r="2.05"/>
<circle cx="1743.1" cy="136.2" r="2.05"/>
<circle cx="1752.3" cy="141.7" r="2.05"/>
<circle cx="1764.3" cy="125.7" r="2.05"/>
<circle cx="1778.4" cy="160.1" r="2.05"/>
<circle cx="1788.3" cy="158.9" r="2.05"/>
<circle cx="1780.7" cy="157.8" r="2.05"/>
<circle cx="1788.7" cy="149.4" r="2.05"/>
<circle cx="1750.3" cy="139.6" r="2.05"/>
<circle cx="1773.4" cy="138.3" r="2.05"/>
<circle cx="1788.9" cy="157.6" r="2.05"/>
<circle cx="1789.3" cy="161.7" r="2.05"/>
<circle cx="1778.4" cy="161.8" r="2.05"/>
<circle cx="1777.1" cy="140.1" r="2.05"/>
<circle cx="1746.7" cy="134.9" r="2.05"/>
<circle cx="1780.5" cy="131.6" r="2.05"/>
<circle cx="1741.9" cy="165.5" r="2.05"/>
<circle cx="1733.6" cy="183.6" r="2.05"/>
<circle cx="1734.1" cy="167.6" r="2.05"/>
<circle cx="1790.2" cy="142.9" r="2.05"/>
<circle cx="1793.4" cy="168.7" r="2.05"/>
<circle cx="1768.3" cy="138.3" r="2.05"/>
<circle cx="1736.7" cy="143.8" r="2.05"/>
<circle cx="1730" cy="156.1" r="2.05"/>
<circle cx="1756" cy="132.2" r="2.05"/>
<circle cx="1753.2" cy="148.3" r="2.05"/>
<circle cx="1790.5" cy="169.2" r="2.05"/>
<circle cx="1912.8" cy="149.2" r="2.05"/>
<circle cx="1851.9" cy="175.7" r="2.05"/>
<circle cx="1846.6" cy="158.8" r="2.05"/>
<circle cx="1857.2" cy="161.2" r="2.05"/>
<circle cx="1833.4" cy="168.4" r="2.05"/>
<circle cx="1806.9" cy="161.2" r="2.05"/>
<circle cx="1801.6" cy="175.7" r="2.05"/>
<circle cx="1767.2" cy="122.6" r="2.05"/>
<circle cx="1809.5" cy="125.1" r="2.05"/>
<circle cx="1785.7" cy="204.6" r="2.05"/>
<circle cx="1788.4" cy="209.4" r="2.05"/>
<circle cx="1693" cy="304.8" r="2.05"/>
<circle cx="1711.5" cy="233.5" r="2.05"/>
<circle cx="1716.8" cy="240.7" r="2.05"/>
<circle cx="1719.5" cy="240.7" r="2.05"/>
<circle cx="1746" cy="209.4" r="2.05"/>
<circle cx="1732.7" cy="223.9" r="2.05"/>
</g>
<path d="M1693 169.4 L1702.3 167.1 L1711.6 164.7 L1721 162.3 L1730.3 159.7 L1739.6 157 L1748.9 154.3 L1758.2 151.4 L1767.6 148.6 L1776.9 145.6 L1786.2 142.6 L1795.5 139.5 L1804.8 136.3 L1814.2 133.1 L1823.5 129.8 L1832.8 126.5 L1842.1 123 L1851.5 119.5 L1860.8 116 L1870.1 112.4 L1879.4 108.7 L1888.7 104.9 L1898.1 101.1 L1907.4 97.2 L1916.7 93.3 L1916.7 117.3 L1907.4 118.9 L1898.1 120.7 L1888.7 122.4 L1879.4 124.3 L1870.1 126.2 L1860.8 128.2 L1851.5 130.2 L1842.1 132.3 L1832.8 134.5 L1823.5 136.7 L1814.2 139 L1804.8 141.4 L1795.5 143.8 L1786.2 146.3 L1776.9 148.9 L1767.6 151.5 L1758.2 154.2 L1748.9 157 L1739.6 159.8 L1730.3 162.8 L1721 165.8 L1711.6 168.9 L1702.3 172.1 L1693 175.4Z" fill="#999" fill-opacity=".4"/>
<line x1="1693" y1="172.4" x2="1916.7" y2="105.3" stroke="#3366ff" stroke-width="2.2"/>
<rect x="1682.3" y="81.5" width="245.2" height="232.8" fill="none" stroke="#333" stroke-width="1.1"/>
<text x="1925" y="94.9" font-size="12.1" text-anchor="end" fill="#e01c1c" font-family="DejaVu Sans, sans-serif">Rho = 0.403</text>
<text x="1925" y="106.7" font-size="12.1" text-anchor="end" fill="#e01c1c" font-family="DejaVu Sans, sans-serif">p = 1.13e-20</text>
<line x1="1693" y1="314.3" x2="1693" y2="318.5" stroke="#222" stroke-width="1.4"/>
<text x="1693" y="332.3" font-size="13.2" text-anchor="middle" fill="#333" font-family="DejaVu Sans, sans-serif">0.0</text>
<line x1="1746" y1="314.3" x2="1746" y2="318.5" stroke="#222" stroke-width="1.4"/>
<text x="1746" y="332.3" font-size="13.2" text-anchor="middle" fill="#333" font-family="DejaVu Sans, sans-serif">0.2</text>
<line x1="1799" y1="314.3" x2="1799" y2="318.5" stroke="#222" stroke-width="1.4"/>
<text x="1799" y="332.3" font-size="13.2" text-anchor="middle" fill="#333" font-family="DejaVu Sans, sans-serif">0.4</text>
<line x1="1851.9" y1="314.3" x2="1851.9" y2="318.5" stroke="#222" stroke-width="1.4"/>
<text x="1851.9" y="332.3" font-size="13.2" text-anchor="middle" fill="#333" font-family="DejaVu Sans, sans-serif">0.6</text>
<line x1="1904.9" y1="314.3" x2="1904.9" y2="318.5" stroke="#222" stroke-width="1.4"/>
<text x="1904.9" y="332.3" font-size="13.2" text-anchor="middle" fill="#333" font-family="DejaVu Sans, sans-serif">0.8</text>
<rect x="107.6" y="81.5" width="25.4" height="233.8" fill="#d9d9d9" stroke="#333" stroke-width="1.1"/>
<text transform="translate(125,198.3) rotate(-90)" x="0" y="0" font-size="12.5" text-anchor="middle" fill="#1a1a1a" font-family="DejaVu Sans, sans-serif">LUAD</text>
<line x1="103.3" y1="279.6" x2="107.6" y2="279.6" stroke="#222" stroke-width="1.4"/>
<text x="98.8" y="284.4" font-size="13.2" text-anchor="end" fill="#333" font-family="DejaVu Sans, sans-serif">4</text>
<line x1="103.3" y1="225.9" x2="107.6" y2="225.9" stroke="#222" stroke-width="1.4"/>
<text x="98.8" y="230.7" font-size="13.2" text-anchor="end" fill="#333" font-family="DejaVu Sans, sans-serif">5</text>
<line x1="103.3" y1="172.1" x2="107.6" y2="172.1" stroke="#222" stroke-width="1.4"/>
<text x="98.8" y="176.9" font-size="13.2" text-anchor="end" fill="#333" font-family="DejaVu Sans, sans-serif">6</text>
<line x1="103.3" y1="118.4" x2="107.6" y2="118.4" stroke="#222" stroke-width="1.4"/>
<text x="98.8" y="123.2" font-size="13.2" text-anchor="end" fill="#333" font-family="DejaVu Sans, sans-serif">7</text>
<text transform="translate(85.5,198.3) rotate(-90)" x="0" y="0" font-size="16.5" text-anchor="middle" fill="#000" font-family="DejaVu Sans, sans-serif">GRB2 Expression Level (log2 TPM)</text>
<g font-family="Liberation Serif, serif" fill="#000">
<rect x="9.8" y="454" width="877" height="3.7" fill="#000"/>
<rect x="9.8" y="500.1" width="877" height="3.7" fill="#000"/>
<rect x="9.8" y="823.9" width="877" height="3.7" fill="#000"/>
<text x="180" y="492" font-size="36.7" text-anchor="middle">variable</text>
<text x="510" y="492" font-size="36.7" text-anchor="middle">partial.cor</text>
<text x="780.7" y="492" font-size="36.7" text-anchor="middle">p</text>
<text x="180" y="537.7" font-size="37" text-anchor="middle">Purity</text>
<text transform="translate(443.3,540.3) scale(0.91,1)" font-size="36.5">-0.227</text>
<text transform="translate(709.6,540.3) scale(0.92,1)" font-size="36.5">3.38E-07</text>
<text x="180" y="583.4" font-size="37" text-anchor="middle">B Cell</text>
<text transform="translate(444.4,585.3) scale(0.91,1)" font-size="36.5">-0.09</text>
<text transform="translate(709.6,585.3) scale(0.92,1)" font-size="36.5">4.69E-02</text>
<text x="179.5" y="629.8" font-size="37" text-anchor="middle">CD8+ T Cell</text>
<text transform="translate(446.5,631.2) scale(0.91,1)" font-size="36.5">0.4</text>
<text transform="translate(709.6,631.2) scale(0.92,1)" font-size="36.5">2.08E-20</text>
<text x="179.5" y="675.5" font-size="37" text-anchor="middle">CD4+ T Cell</text>
<text transform="translate(445.6,676.9) scale(0.91,1)" font-size="36.5">0.118</text>
<text transform="translate(709.6,676.9) scale(0.92,1)" font-size="36.5">8.61E-03</text>
<text x="188.3" y="721.2" font-size="37.8" text-anchor="middle">Myeloid dendritic cell</text>
<text transform="translate(444.3,722.3) scale(0.91,1)" font-size="36.5">0.381</text>
<text transform="translate(709,722.3) scale(0.92,1)" font-size="36.5">1.79E-18</text>
<text x="179.7" y="768.6" font-size="37" text-anchor="middle">Neutrophil</text>
<text transform="translate(444.3,769) scale(0.91,1)" font-size="36.5">0.493</text>
<text transform="translate(709,769) scale(0.92,1)" font-size="36.5">1.39E-31</text>
<text x="183.3" y="810.8" font-size="38" text-anchor="middle">Macrophage</text>
<text transform="translate(444.3,811.5) scale(0.91,1)" font-size="36.5">0.403</text>
<text transform="translate(709,811.5) scale(0.92,1)" font-size="36.5">1.13E-20</text>
</g>
<rect x="945.6" y="455.2" width="241.4" height="23.8" fill="#d9d9d9" stroke="#4d4d4d" stroke-width="1.3"/>
<text x="1066.3" y="471.8" font-size="13" text-anchor="middle" fill="#1a1a1a" font-family="DejaVu Sans, sans-serif">Purity</text>
<line x1="945.6" y1="479" x2="1187" y2="479" stroke="#1a1a1a" stroke-width="1.7"/>
<line x1="964.6" y1="479" x2="964.6" y2="705" stroke="#eeeeee" stroke-width="1.2"/>
<line x1="995.2" y1="479" x2="995.2" y2="705" stroke="#e5e5e5" stroke-width="1.7"/>
<line x1="1025.9" y1="479" x2="1025.9" y2="705" stroke="#eeeeee" stroke-width="1.2"/>
<line x1="1056.5" y1="479" x2="1056.5" y2="705" stroke="#e5e5e5" stroke-width="1.7"/>
<line x1="1087.2" y1="479" x2="1087.2" y2="705" stroke="#eeeeee" stroke-width="1.2"/>
<line x1="1117.8" y1="479" x2="1117.8" y2="705" stroke="#e5e5e5" stroke-width="1.7"/>
<line x1="1148.5" y1="479" x2="1148.5" y2="705" stroke="#eeeeee" stroke-width="1.2"/>
<line x1="1179.1" y1="479" x2="1179.1" y2="705" stroke="#e5e5e5" stroke-width="1.7"/>
<line x1="945.6" y1="696.2" x2="1187" y2="696.2" stroke="#eeeeee" stroke-width="1.2"/>
<line x1="945.6" y1="670.3" x2="1187" y2="670.3" stroke="#e5e5e5" stroke-width="1.7"/>
<line x1="945.6" y1="644.3" x2="1187" y2="644.3" stroke="#eeeeee" stroke-width="1.2"/>
<line x1="945.6" y1="618.4" x2="1187" y2="618.4" stroke="#e5e5e5" stroke-width="1.7"/>
<line x1="945.6" y1="592.4" x2="1187" y2="592.4" stroke="#eeeeee" stroke-width="1.2"/>
<line x1="945.6" y1="566.5" x2="1187" y2="566.5" stroke="#e5e5e5" stroke-width="1.7"/>
<line x1="945.6" y1="540.5" x2="1187" y2="540.5" stroke="#eeeeee" stroke-width="1.2"/>
<line x1="945.6" y1="514.6" x2="1187" y2="514.6" stroke="#e5e5e5" stroke-width="1.7"/>
<line x1="945.6" y1="488.6" x2="1187" y2="488.6" stroke="#eeeeee" stroke-width="1.2"/>
<g fill="#000" fill-opacity=".32" stroke="#000" stroke-opacity=".5" stroke-width="1">
<circle cx="964.3" cy="528.6" r="1.9"/>
<circle cx="991.5" cy="548.5" r="1.9"/>
<circle cx="963" cy="537.2" r="1.9"/>
<circle cx="985.1" cy="516.2" r="1.9"/>
<circle cx="964.4" cy="561.6" r="1.9"/>
<circle cx="987.9" cy="528.7" r="1.9"/>
<circle cx="998.1" cy="519.5" r="1.9"/>
<circle cx="978" cy="542.6" r="1.9"/>
<circle cx="1010.8" cy="545.7" r="1.9"/>
<circle cx="969.6" cy="559" r="1.9"/>
<circle cx="980.4" cy="534.6" r="1.9"/>
<circle cx="975" cy="538.2" r="1.9"/>
<circle cx="982.6" cy="524" r="1.9"/>
<circle cx="992.7" cy="534.3" r="1.9"/>
<circle cx="957.3" cy="521.6" r="1.9"/>
<circle cx="961.9" cy="539.2" r="1.9"/>
<circle cx="961.2" cy="535.8" r="1.9"/>
<circle cx="969.7" cy="532.3" r="1.9"/>
<circle cx="978.7" cy="520.7" r="1.9"/>
<circle cx="963" cy="541.6" r="1.9"/>
<circle cx="987.4" cy="539.8" r="1.9"/>
<circle cx="983.8" cy="535.7" r="1.9"/>
<circle cx="966.9" cy="525.2" r="1.9"/>
<circle cx="969.3" cy="499.6" r="1.9"/>
<circle cx="973.1" cy="523.3" r="1.9"/>
<circle cx="979.3" cy="518.6" r="1.9"/>
<circle cx="971.9" cy="517" r="1.9"/>
<circle cx="977.7" cy="512.3" r="1.9"/>
<circle cx="986.9" cy="535.2" r="1.9"/>
<circle cx="969.7" cy="521.4" r="1.9"/>
<circle cx="985" cy="505.4" r="1.9"/>
<circle cx="974.6" cy="526" r="1.9"/>
<circle cx="985.5" cy="532.3" r="1.9"/>
<circle cx="981.8" cy="534" r="1.9"/>
<circle cx="971.9" cy="556.7" r="1.9"/>
<circle cx="974.4" cy="525.3" r="1.9"/>
<circle cx="997.8" cy="519.6" r="1.9"/>
<circle cx="992.2" cy="523.1" r="1.9"/>
<circle cx="987.8" cy="534.4" r="1.9"/>
<circle cx="988.7" cy="503.2" r="1.9"/>
<circle cx="975.2" cy="550.7" r="1.9"/>
<circle cx="1003.3" cy="534.5" r="1.9"/>
<circle cx="991.2" cy="521.1" r="1.9"/>
<circle cx="965.3" cy="501.1" r="1.9"/>
<circle cx="981.4" cy="522.7" r="1.9"/>
<circle cx="980.8" cy="554.9" r="1.9"/>
<circle cx="977.9" cy="529.8" r="1.9"/>
<circle cx="992.9" cy="524.5" r="1.9"/>
<circle cx="980" cy="510.7" r="1.9"/>
<circle cx="969.9" cy="520.9" r="1.9"/>
<circle cx="992.9" cy="544.2" r="1.9"/>
<circle cx="957.3" cy="553.3" r="1.9"/>
<circle cx="982.2" cy="527.2" r="1.9"/>
<circle cx="998.2" cy="558.7" r="1.9"/>
<circle cx="979.3" cy="524.5" r="1.9"/>
<circle cx="977.3" cy="583.9" r="1.9"/>
<circle cx="989.1" cy="492.6" r="1.9"/>
<circle cx="991.6" cy="556.5" r="1.9"/>
<circle cx="974.2" cy="532.5" r="1.9"/>
<circle cx="1009.8" cy="527.7" r="1.9"/>
<circle cx="980.7" cy="506.7" r="1.9"/>
<circle cx="978.3" cy="500.5" r="1.9"/>
<circle cx="970.9" cy="546" r="1.9"/>
<circle cx="988.1" cy="510" r="1.9"/>
<circle cx="987.3" cy="532.1" r="1.9"/>
<circle cx="956.9" cy="549.5" r="1.9"/>
<circle cx="971.8" cy="547.2" r="1.9"/>
<circle cx="986.5" cy="544.6" r="1.9"/>
<circle cx="988.9" cy="536.5" r="1.9"/>
<circle cx="975.2" cy="534.7" r="1.9"/>
<circle cx="984.5" cy="520.9" r="1.9"/>
<circle cx="973.4" cy="541.4" r="1.9"/>
<circle cx="962.5" cy="504.3" r="1.9"/>
<circle cx="997.1" cy="542.4" r="1.9"/>
<circle cx="973.4" cy="561.2" r="1.9"/>
<circle cx="981.3" cy="533.4" r="1.9"/>
<circle cx="1006" cy="534.7" r="1.9"/>
<circle cx="969.7" cy="584.7" r="1.9"/>
<circle cx="996.5" cy="535.1" r="1.9"/>
<circle cx="959.5" cy="532.1" r="1.9"/>
<circle cx="959.5" cy="513.6" r="1.9"/>
<circle cx="986.3" cy="541.4" r="1.9"/>
<circle cx="977.7" cy="567.9" r="1.9"/>
<circle cx="986.6" cy="580.1" r="1.9"/>
<circle cx="968.1" cy="512.3" r="1.9"/>
<circle cx="999.4" cy="562.3" r="1.9"/>
<circle cx="960.5" cy="518.4" r="1.9"/>
<circle cx="989.7" cy="557.7" r="1.9"/>
<circle cx="970.7" cy="550.3" r="1.9"/>
<circle cx="964.7" cy="549.5" r="1.9"/>
<circle cx="994.6" cy="525" r="1.9"/>
<circle cx="1004.5" cy="541.2" r="1.9"/>
<circle cx="977.6" cy="556.6" r="1.9"/>
<circle cx="977.7" cy="563.1" r="1.9"/>
<circle cx="957.5" cy="521.7" r="1.9"/>
<circle cx="996.9" cy="522.3" r="1.9"/>
<circle cx="995.6" cy="533.7" r="1.9"/>
<circle cx="970.5" cy="534.9" r="1.9"/>
<circle cx="974.7" cy="558.9" r="1.9"/>
<circle cx="958.5" cy="564.8" r="1.9"/>
<circle cx="979.2" cy="534.4" r="1.9"/>
<circle cx="973.4" cy="508.7" r="1.9"/>
<circle cx="981.5" cy="526" r="1.9"/>
<circle cx="994.2" cy="554.8" r="1.9"/>
<circle cx="988.5" cy="551.7" r="1.9"/>
<circle cx="995.3" cy="532" r="1.9"/>
<circle cx="991.6" cy="523.3" r="1.9"/>
<circle cx="988.1" cy="551.4" r="1.9"/>
<circle cx="970" cy="545.1" r="1.9"/>
<circle cx="988.7" cy="520.7" r="1.9"/>
<circle cx="991.7" cy="571.1" r="1.9"/>
<circle cx="972" cy="583.6" r="1.9"/>
<circle cx="978" cy="525.4" r="1.9"/>
<circle cx="969.9" cy="531.7" r="1.9"/>
<circle cx="982.1" cy="517.7" r="1.9"/>
<circle cx="969.2" cy="552.8" r="1.9"/>
<circle cx="969.9" cy="502" r="1.9"/>
<circle cx="992.6" cy="540.9" r="1.9"/>
<circle cx="982" cy="535.3" r="1.9"/>
<circle cx="981.8" cy="541.7" r="1.9"/>
<circle cx="975.2" cy="561.8" r="1.9"/>
<circle cx="971.4" cy="504.1" r="1.9"/>
<circle cx="985.8" cy="536.6" r="1.9"/>
<circle cx="976.6" cy="535.9" r="1.9"/>
<circle cx="983.6" cy="550.4" r="1.9"/>
<circle cx="981.7" cy="532.8" r="1.9"/>
<circle cx="970.1" cy="552.1" r="1.9"/>
<circle cx="967" cy="557.3" r="1.9"/>
<circle cx="990.2" cy="584.8" r="1.9"/>
<circle cx="976" cy="549.1" r="1.9"/>
<circle cx="971.7" cy="534.8" r="1.9"/>
<circle cx="993.1" cy="537" r="1.9"/>
<circle cx="977.5" cy="549.3" r="1.9"/>
<circle cx="977.7" cy="519.2" r="1.9"/>
<circle cx="974.4" cy="559.5" r="1.9"/>
<circle cx="963.8" cy="557.8" r="1.9"/>
<circle cx="962.2" cy="514.2" r="1.9"/>
<circle cx="983.6" cy="542.4" r="1.9"/>
<circle cx="997.2" cy="551.8" r="1.9"/>
<circle cx="988.5" cy="522.3" r="1.9"/>
<circle cx="960.3" cy="566.4" r="1.9"/>
<circle cx="967.9" cy="518.5" r="1.9"/>
<circle cx="995.2" cy="562.9" r="1.9"/>
<circle cx="992.1" cy="546" r="1.9"/>
<circle cx="974.4" cy="547.8" r="1.9"/>
<circle cx="975.3" cy="572.9" r="1.9"/>
<circle cx="967" cy="560.7" r="1.9"/>
<circle cx="985.3" cy="496.6" r="1.9"/>
<circle cx="975.1" cy="570.9" r="1.9"/>
<circle cx="974.3" cy="555.4" r="1.9"/>
<circle cx="1003.6" cy="528.1" r="1.9"/>
<circle cx="970.3" cy="518.1" r="1.9"/>
<circle cx="985.8" cy="569.9" r="1.9"/>
<circle cx="972.7" cy="541.5" r="1.9"/>
<circle cx="979.5" cy="534.7" r="1.9"/>
<circle cx="975.1" cy="533.2" r="1.9"/>
<circle cx="972.1" cy="554.4" r="1.9"/>
<circle cx="997.8" cy="531.8" r="1.9"/>
<circle cx="984.6" cy="569.2" r="1.9"/>
<circle cx="977.2" cy="521" r="1.9"/>
<circle cx="963.4" cy="514.3" r="1.9"/>
<circle cx="974.5" cy="529" r="1.9"/>
<circle cx="977.6" cy="532.9" r="1.9"/>
<circle cx="994" cy="546.5" r="1.9"/>
<circle cx="998.4" cy="554.4" r="1.9"/>
<circle cx="967.8" cy="522.3" r="1.9"/>
<circle cx="966.2" cy="543.5" r="1.9"/>
<circle cx="990.4" cy="514.4" r="1.9"/>
<circle cx="957.5" cy="525.5" r="1.9"/>
<circle cx="1002.4" cy="515.7" r="1.9"/>
<circle cx="976.3" cy="548.9" r="1.9"/>
<circle cx="975.6" cy="559.8" r="1.9"/>
<circle cx="976" cy="540.8" r="1.9"/>
<circle cx="977.5" cy="513.9" r="1.9"/>
<circle cx="976.4" cy="565.8" r="1.9"/>
<circle cx="992.1" cy="559.6" r="1.9"/>
<circle cx="973.8" cy="539.5" r="1.9"/>
<circle cx="975" cy="556.8" r="1.9"/>
<circle cx="976.2" cy="494" r="1.9"/>
<circle cx="971.8" cy="539.4" r="1.9"/>
<circle cx="1020.4" cy="519.8" r="1.9"/>
<circle cx="1075.3" cy="530.5" r="1.9"/>
<circle cx="1082.9" cy="597.3" r="1.9"/>
<circle cx="1054.4" cy="537.2" r="1.9"/>
<circle cx="1163.3" cy="527.9" r="1.9"/>
<circle cx="1020.8" cy="545.1" r="1.9"/>
<circle cx="1032.4" cy="552" r="1.9"/>
<circle cx="1038.3" cy="555.5" r="1.9"/>
<circle cx="1061.3" cy="568.5" r="1.9"/>
<circle cx="1108.6" cy="523.6" r="1.9"/>
<circle cx="1019.6" cy="522.8" r="1.9"/>
<circle cx="1089" cy="551.9" r="1.9"/>
<circle cx="1092.6" cy="536.6" r="1.9"/>
<circle cx="1075.8" cy="567.8" r="1.9"/>
<circle cx="1092.4" cy="535.1" r="1.9"/>
<circle cx="1026.2" cy="537.1" r="1.9"/>
<circle cx="1111.9" cy="522.1" r="1.9"/>
<circle cx="1092.5" cy="533" r="1.9"/>
<circle cx="1151" cy="582.9" r="1.9"/>
<circle cx="1039.3" cy="550.1" r="1.9"/>
<circle cx="1159.2" cy="600.3" r="1.9"/>
<circle cx="1054.2" cy="569.9" r="1.9"/>
<circle cx="1036.7" cy="547.9" r="1.9"/>
<circle cx="1021.6" cy="543.6" r="1.9"/>
<circle cx="1044.1" cy="510.5" r="1.9"/>
<circle cx="1015" cy="533.5" r="1.9"/>
<circle cx="1139" cy="577.3" r="1.9"/>
<circle cx="1020.2" cy="575.1" r="1.9"/>
<circle cx="1000.8" cy="524" r="1.9"/>
<circle cx="1033.6" cy="568.3" r="1.9"/>
<circle cx="1171" cy="538" r="1.9"/>
<circle cx="1133.4" cy="537.2" r="1.9"/>
<circle cx="1087.6" cy="557.6" r="1.9"/>
<circle cx="1010.3" cy="559" r="1.9"/>
<circle cx="1016.7" cy="516.9" r="1.9"/>
<circle cx="1089.8" cy="545" r="1.9"/>
<circle cx="1099.5" cy="543.7" r="1.9"/>
<circle cx="1034.2" cy="535.3" r="1.9"/>
<circle cx="1148" cy="503.5" r="1.9"/>
<circle cx="1014.7" cy="548.8" r="1.9"/>
<circle cx="1008.7" cy="520.2" r="1.9"/>
<circle cx="1134.5" cy="563.5" r="1.9"/>
<circle cx="1056.2" cy="576.5" r="1.9"/>
<circle cx="1074.6" cy="544.8" r="1.9"/>
<circle cx="1105.2" cy="517" r="1.9"/>
<circle cx="1148.8" cy="553.9" r="1.9"/>
<circle cx="1030.1" cy="583.5" r="1.9"/>
<circle cx="1070.2" cy="539.3" r="1.9"/>
<circle cx="1032.6" cy="532.8" r="1.9"/>
<circle cx="1000.4" cy="520.2" r="1.9"/>
<circle cx="1157.5" cy="546" r="1.9"/>
<circle cx="1151.7" cy="591.7" r="1.9"/>
<circle cx="1110.3" cy="579.7" r="1.9"/>
<circle cx="1087.9" cy="533.9" r="1.9"/>
<circle cx="1173.5" cy="552.9" r="1.9"/>
<circle cx="1160.8" cy="574.9" r="1.9"/>
<circle cx="1130.9" cy="547.9" r="1.9"/>
<circle cx="1070.3" cy="592.4" r="1.9"/>
<circle cx="1158.1" cy="531.5" r="1.9"/>
<circle cx="1135" cy="580.4" r="1.9"/>
<circle cx="1134.6" cy="586.7" r="1.9"/>
<circle cx="1010.3" cy="524.3" r="1.9"/>
<circle cx="1058.8" cy="552.6" r="1.9"/>
<circle cx="1061.3" cy="548.8" r="1.9"/>
<circle cx="1112" cy="565.8" r="1.9"/>
<circle cx="1166.7" cy="570.3" r="1.9"/>
<circle cx="1116.9" cy="572.2" r="1.9"/>
<circle cx="1099.6" cy="523.5" r="1.9"/>
<circle cx="1093.1" cy="574.9" r="1.9"/>
<circle cx="1134" cy="583.9" r="1.9"/>
<circle cx="1173.1" cy="527" r="1.9"/>
<circle cx="1129.9" cy="550.7" r="1.9"/>
<circle cx="1043.6" cy="554.1" r="1.9"/>
<circle cx="1032.6" cy="542.7" r="1.9"/>
<circle cx="1064.9" cy="535.3" r="1.9"/>
<circle cx="1159.8" cy="547.5" r="1.9"/>
<circle cx="1096.1" cy="555.4" r="1.9"/>
<circle cx="1099.3" cy="519.4" r="1.9"/>
<circle cx="1142.6" cy="557.4" r="1.9"/>
<circle cx="1011.3" cy="577.5" r="1.9"/>
<circle cx="1005.7" cy="567.4" r="1.9"/>
<circle cx="1164.1" cy="544" r="1.9"/>
<circle cx="1027.9" cy="524.4" r="1.9"/>
<circle cx="1086.3" cy="557.8" r="1.9"/>
<circle cx="1166.9" cy="563.6" r="1.9"/>
<circle cx="1073" cy="581.5" r="1.9"/>
<circle cx="1063.1" cy="554.9" r="1.9"/>
<circle cx="1048.8" cy="565.2" r="1.9"/>
<circle cx="1048.4" cy="573.2" r="1.9"/>
<circle cx="1125.9" cy="556.1" r="1.9"/>
<circle cx="1041.5" cy="544" r="1.9"/>
<circle cx="1005.3" cy="523" r="1.9"/>
<circle cx="1067.5" cy="517.4" r="1.9"/>
<circle cx="1158.3" cy="557.8" r="1.9"/>
<circle cx="1174.6" cy="566.6" r="1.9"/>
<circle cx="1166.7" cy="513" r="1.9"/>
<circle cx="1074.5" cy="528" r="1.9"/>
<circle cx="1083.1" cy="534.1" r="1.9"/>
<circle cx="1091.3" cy="554.9" r="1.9"/>
<circle cx="1165.4" cy="562.8" r="1.9"/>
<circle cx="1172.9" cy="584.8" r="1.9"/>
<circle cx="1143.8" cy="565.6" r="1.9"/>
<circle cx="1109.4" cy="560.5" r="1.9"/>
<circle cx="1079.2" cy="548.8" r="1.9"/>
<circle cx="1092.2" cy="544.8" r="1.9"/>
<circle cx="1019.9" cy="578.4" r="1.9"/>
<circle cx="1079.2" cy="538.8" r="1.9"/>
<circle cx="1044.6" cy="569.2" r="1.9"/>
<circle cx="1136.9" cy="567.9" r="1.9"/>
<circle cx="1092.7" cy="553" r="1.9"/>
<circle cx="1129.1" cy="554.4" r="1.9"/>
<circle cx="1157.4" cy="546.2" r="1.9"/>
<circle cx="1138" cy="571.5" r="1.9"/>
<circle cx="1046.3" cy="563.8" r="1.9"/>
<circle cx="1120.3" cy="583.2" r="1.9"/>
<circle cx="1111" cy="566.1" r="1.9"/>
<circle cx="1132.5" cy="549" r="1.9"/>
<circle cx="1173" cy="542.5" r="1.9"/>
<circle cx="1161.6" cy="553.2" r="1.9"/>
<circle cx="1008.5" cy="549.6" r="1.9"/>
<circle cx="1046.1" cy="577.3" r="1.9"/>
<circle cx="1016" cy="530.9" r="1.9"/>
<circle cx="1094.6" cy="543.4" r="1.9"/>
<circle cx="1118.7" cy="550" r="1.9"/>
<circle cx="1096.2" cy="567.8" r="1.9"/>
<circle cx="1083.3" cy="567.9" r="1.9"/>
<circle cx="1035.4" cy="568.7" r="1.9"/>
<circle cx="1147.7" cy="524.7" r="1.9"/>
<circle cx="1011" cy="514.2" r="1.9"/>
<circle cx="1109.3" cy="524.5" r="1.9"/>
<circle cx="1135.3" cy="550.1" r="1.9"/>
<circle cx="1043.8" cy="524.1" r="1.9"/>
<circle cx="1142.6" cy="579.5" r="1.9"/>
<circle cx="1174.7" cy="534.1" r="1.9"/>
<circle cx="1055.9" cy="585.9" r="1.9"/>
<circle cx="1162.5" cy="569.7" r="1.9"/>
<circle cx="1074.2" cy="557.7" r="1.9"/>
<circle cx="1154.3" cy="549.6" r="1.9"/>
<circle cx="1011.7" cy="519.2" r="1.9"/>
<circle cx="1084.4" cy="536.4" r="1.9"/>
<circle cx="1120.3" cy="566.7" r="1.9"/>
<circle cx="1011.3" cy="506.8" r="1.9"/>
<circle cx="1035.8" cy="552.4" r="1.9"/>
<circle cx="1052" cy="556.9" r="1.9"/>
<circle cx="1127.4" cy="561.6" r="1.9"/>
<circle cx="1023.2" cy="564.1" r="1.9"/>
<circle cx="1061.7" cy="552.9" r="1.9"/>
<circle cx="1018.7" cy="567.9" r="1.9"/>
<circle cx="1124.6" cy="602.3" r="1.9"/>
<circle cx="1165.9" cy="580.4" r="1.9"/>
<circle cx="1161.1" cy="596.9" r="1.9"/>
<circle cx="1052.2" cy="532.7" r="1.9"/>
<circle cx="1054.5" cy="592.9" r="1.9"/>
<circle cx="1157.8" cy="525.5" r="1.9"/>
<circle cx="1042.1" cy="562.2" r="1.9"/>
<circle cx="1062.7" cy="532.6" r="1.9"/>
<circle cx="1068.5" cy="561.8" r="1.9"/>
<circle cx="1098.6" cy="542.6" r="1.9"/>
<circle cx="1140.3" cy="599.2" r="1.9"/>
<circle cx="1098.4" cy="563.8" r="1.9"/>
<circle cx="1029.3" cy="544" r="1.9"/>
<circle cx="1048" cy="596.4" r="1.9"/>
<circle cx="1001.6" cy="573.5" r="1.9"/>
<circle cx="1099.2" cy="555.6" r="1.9"/>
<circle cx="1170.6" cy="583.3" r="1.9"/>
<circle cx="1009.1" cy="579.4" r="1.9"/>
<circle cx="1095.5" cy="550" r="1.9"/>
<circle cx="1012.3" cy="554.8" r="1.9"/>
<circle cx="1129.6" cy="547.3" r="1.9"/>
<circle cx="1111.2" cy="559.5" r="1.9"/>
<circle cx="1023.4" cy="547.2" r="1.9"/>
<circle cx="1041.6" cy="581.6" r="1.9"/>
<circle cx="1037.1" cy="544.7" r="1.9"/>
<circle cx="1134.5" cy="583.9" r="1.9"/>
<circle cx="1068.2" cy="582.2" r="1.9"/>
<circle cx="1118" cy="502" r="1.9"/>
<circle cx="1086" cy="587.9" r="1.9"/>
<circle cx="1124.4" cy="563.5" r="1.9"/>
<circle cx="1161.4" cy="594.9" r="1.9"/>
<circle cx="1117" cy="530.9" r="1.9"/>
<circle cx="1150.4" cy="541.8" r="1.9"/>
<circle cx="1156.7" cy="599.1" r="1.9"/>
<circle cx="1169.1" cy="576.7" r="1.9"/>
<circle cx="1124.8" cy="576.8" r="1.9"/>
<circle cx="1141.3" cy="577.7" r="1.9"/>
<circle cx="1023.8" cy="534.8" r="1.9"/>
<circle cx="1130.3" cy="532.7" r="1.9"/>
<circle cx="1027.7" cy="547.9" r="1.9"/>
<circle cx="1034.2" cy="564.5" r="1.9"/>
<circle cx="1171.2" cy="550" r="1.9"/>
<circle cx="1008.2" cy="549.1" r="1.9"/>
<circle cx="1113.6" cy="543.1" r="1.9"/>
<circle cx="1136.5" cy="552.2" r="1.9"/>
<circle cx="1079.8" cy="543.5" r="1.9"/>
<circle cx="1102.2" cy="547.6" r="1.9"/>
<circle cx="1017.1" cy="549.2" r="1.9"/>
<circle cx="1030.7" cy="543.4" r="1.9"/>
<circle cx="1126" cy="538.2" r="1.9"/>
<circle cx="1104.1" cy="550.7" r="1.9"/>
<circle cx="1048" cy="533.6" r="1.9"/>
<circle cx="1028.5" cy="545.7" r="1.9"/>
<circle cx="1095.8" cy="572.6" r="1.9"/>
<circle cx="1143.9" cy="574.5" r="1.9"/>
<circle cx="1156.5" cy="555.2" r="1.9"/>
<circle cx="1161.3" cy="574" r="1.9"/>
<circle cx="1169" cy="534" r="1.9"/>
<circle cx="1084" cy="550" r="1.9"/>
<circle cx="1167.3" cy="551.1" r="1.9"/>
<circle cx="1141.1" cy="577.7" r="1.9"/>
<circle cx="1090" cy="533" r="1.9"/>
<circle cx="1046.8" cy="514.1" r="1.9"/>
<circle cx="1040.2" cy="549.8" r="1.9"/>
<circle cx="999.6" cy="566.4" r="1.9"/>
<circle cx="1140.3" cy="552.3" r="1.9"/>
<circle cx="1125.3" cy="565.6" r="1.9"/>
<circle cx="1025.7" cy="554.9" r="1.9"/>
<circle cx="1055.3" cy="551.7" r="1.9"/>
<circle cx="1090" cy="504.9" r="1.9"/>
<circle cx="1111.7" cy="535.4" r="1.9"/>
<circle cx="1093.3" cy="553" r="1.9"/>
<circle cx="1024.6" cy="546.2" r="1.9"/>
<circle cx="1144.7" cy="557.7" r="1.9"/>
<circle cx="1149.1" cy="552.7" r="1.9"/>
<circle cx="1046" cy="556.9" r="1.9"/>
<circle cx="1125.9" cy="533.1" r="1.9"/>
<circle cx="1081.5" cy="535.9" r="1.9"/>
<circle cx="1168.7" cy="598" r="1.9"/>
<circle cx="1052" cy="572.5" r="1.9"/>
<circle cx="1138.9" cy="601.2" r="1.9"/>
<circle cx="1013.9" cy="519.5" r="1.9"/>
<circle cx="1145.6" cy="549" r="1.9"/>
<circle cx="1091.7" cy="523.8" r="1.9"/>
<circle cx="1025.9" cy="536.5" r="1.9"/>
<circle cx="1053.3" cy="566.3" r="1.9"/>
<circle cx="1011.3" cy="554.2" r="1.9"/>
<circle cx="1125.7" cy="530.3" r="1.9"/>
<circle cx="1062" cy="553.8" r="1.9"/>
<circle cx="1068.2" cy="560.2" r="1.9"/>
<circle cx="1080.3" cy="508.1" r="1.9"/>
<circle cx="1114.7" cy="563.1" r="1.9"/>
<circle cx="999.9" cy="570.6" r="1.9"/>
<circle cx="1040.2" cy="522" r="1.9"/>
<circle cx="1098.6" cy="555.9" r="1.9"/>
<circle cx="1175.1" cy="558.2" r="1.9"/>
<circle cx="1140.8" cy="547.5" r="1.9"/>
<circle cx="1049.6" cy="517.4" r="1.9"/>
<circle cx="1065" cy="568.8" r="1.9"/>
<circle cx="1058" cy="554.1" r="1.9"/>
<circle cx="1067.9" cy="559" r="1.9"/>
<circle cx="1033.4" cy="562.7" r="1.9"/>
<circle cx="1128.6" cy="582.1" r="1.9"/>
<circle cx="1098.4" cy="503.2" r="1.9"/>
<circle cx="1127.2" cy="576.5" r="1.9"/>
<circle cx="1014.2" cy="507.4" r="1.9"/>
<circle cx="1022.9" cy="517.1" r="1.9"/>
<circle cx="1124.4" cy="535.2" r="1.9"/>
<circle cx="1029.8" cy="583.2" r="1.9"/>
<circle cx="1103.8" cy="527.4" r="1.9"/>
<circle cx="1013.8" cy="543.4" r="1.9"/>
<circle cx="1019.9" cy="532.5" r="1.9"/>
<circle cx="1070.5" cy="503.1" r="1.9"/>
<circle cx="1074.1" cy="527.4" r="1.9"/>
<circle cx="1089.2" cy="575.8" r="1.9"/>
<circle cx="1144.6" cy="588.4" r="1.9"/>
<circle cx="1066.7" cy="561.7" r="1.9"/>
<circle cx="1000.4" cy="523.3" r="1.9"/>
<circle cx="1069.4" cy="570.6" r="1.9"/>
<circle cx="1139" cy="573.1" r="1.9"/>
<circle cx="1001" cy="571.4" r="1.9"/>
<circle cx="1056.9" cy="567.6" r="1.9"/>
<circle cx="1016.7" cy="517.3" r="1.9"/>
<circle cx="1065.2" cy="590.9" r="1.9"/>
<circle cx="1145.4" cy="559" r="1.9"/>
<circle cx="1107.1" cy="531.7" r="1.9"/>
<circle cx="1159.3" cy="524.4" r="1.9"/>
<circle cx="1095.8" cy="568.9" r="1.9"/>
<circle cx="1023" cy="524.2" r="1.9"/>
<circle cx="1125.4" cy="526.9" r="1.9"/>
<circle cx="1125.7" cy="557.3" r="1.9"/>
<circle cx="1147.2" cy="538.4" r="1.9"/>
<circle cx="1109.9" cy="500.4" r="1.9"/>
<circle cx="1033.1" cy="531.9" r="1.9"/>
<circle cx="1100.8" cy="544.1" r="1.9"/>
<circle cx="1122.4" cy="580.3" r="1.9"/>
<circle cx="1062.3" cy="502.3" r="1.9"/>
<circle cx="1080.5" cy="506.3" r="1.9"/>
<circle cx="1021.9" cy="501.9" r="1.9"/>
<circle cx="1159.5" cy="586.6" r="1.9"/>
<circle cx="1098" cy="560.6" r="1.9"/>
<circle cx="1045" cy="587.3" r="1.9"/>
<circle cx="1144" cy="566.1" r="1.9"/>
<circle cx="1145.3" cy="563.7" r="1.9"/>
<circle cx="1049.3" cy="534.6" r="1.9"/>
<circle cx="1100.3" cy="563.2" r="1.9"/>
<circle cx="1146.4" cy="545.1" r="1.9"/>
<circle cx="1011.3" cy="518.2" r="1.9"/>
<circle cx="1003.4" cy="515.3" r="1.9"/>
<circle cx="1165.8" cy="569.2" r="1.9"/>
<circle cx="1117.8" cy="571.1" r="1.9"/>
<circle cx="1129.7" cy="578.3" r="1.9"/>
<circle cx="987.8" cy="609.1" r="1.9"/>
<circle cx="1007.5" cy="609.6" r="1.9"/>
<circle cx="1007.5" cy="621" r="1.9"/>
<circle cx="1022.2" cy="603.9" r="1.9"/>
<circle cx="1081" cy="628.3" r="1.9"/>
<circle cx="1115.3" cy="628.3" r="1.9"/>
<circle cx="1103.1" cy="622.6" r="1.9"/>
<circle cx="1139.9" cy="613.2" r="1.9"/>
<circle cx="1149.7" cy="619.4" r="1.9"/>
<circle cx="1152.1" cy="620" r="1.9"/>
<circle cx="1110.4" cy="695.2" r="1.9"/>
<circle cx="1076.1" cy="602.8" r="1.9"/>
<circle cx="1095.7" cy="603.3" r="1.9"/>
<circle cx="1125.2" cy="608" r="1.9"/>
<circle cx="958.4" cy="571.7" r="1.9"/>
<circle cx="956" cy="550.9" r="1.9"/>
</g>
<path d="M956.6 534.3 L965.8 535.5 L975 536.6 L984.1 537.7 L993.3 538.7 L1002.5 539.8 L1011.7 540.8 L1020.9 541.8 L1030 542.7 L1039.2 543.7 L1048.4 544.6 L1057.6 545.4 L1066.8 546.3 L1075.9 547.1 L1085.1 547.8 L1094.3 548.6 L1103.5 549.3 L1112.6 549.9 L1121.8 550.5 L1131 551.1 L1140.2 551.7 L1149.4 552.2 L1158.5 552.7 L1167.7 553.1 L1176.9 553.5 L1176.9 562.5 L1167.7 561.2 L1158.5 559.9 L1149.4 558.6 L1140.2 557.4 L1131 556.3 L1121.8 555.1 L1112.6 554 L1103.5 552.9 L1094.3 551.9 L1085.1 550.9 L1075.9 549.9 L1066.8 549 L1057.6 548.1 L1048.4 547.3 L1039.2 546.5 L1030 545.7 L1020.9 544.9 L1011.7 544.2 L1002.5 543.4 L993.3 542.8 L984.1 542.1 L975 541.5 L965.8 540.9 L956.6 540.3Z" fill="#999" fill-opacity=".4"/>
<line x1="956.6" y1="537.3" x2="1176.9" y2="558" stroke="#3366ff" stroke-width="2"/>
<rect x="945.6" y="479" width="241.4" height="226" fill="none" stroke="#333" stroke-width="1.1"/>
<text x="1184.2" y="491.9" font-size="11.8" text-anchor="end" fill="#e01c1c" font-family="DejaVu Sans, sans-serif">rho = -0.227</text>
<text x="1184.2" y="503.5" font-size="11.8" text-anchor="end" fill="#e01c1c" font-family="DejaVu Sans, sans-serif">p = 3.38e-07</text>
<line x1="995.2" y1="705" x2="995.2" y2="709" stroke="#333" stroke-width="1.1"/>
<text x="995.2" y="722.4" font-size="12.4" text-anchor="middle" fill="#333" font-family="DejaVu Sans, sans-serif">0.25</text>
<line x1="1056.5" y1="705" x2="1056.5" y2="709" stroke="#333" stroke-width="1.1"/>
<text x="1056.5" y="722.4" font-size="12.4" text-anchor="middle" fill="#333" font-family="DejaVu Sans, sans-serif">0.50</text>
<line x1="1117.8" y1="705" x2="1117.8" y2="709" stroke="#333" stroke-width="1.1"/>
<text x="1117.8" y="722.4" font-size="12.4" text-anchor="middle" fill="#333" font-family="DejaVu Sans, sans-serif">0.75</text>
<line x1="1179.1" y1="705" x2="1179.1" y2="709" stroke="#333" stroke-width="1.1"/>
<text x="1179.1" y="722.4" font-size="12.4" text-anchor="middle" fill="#333" font-family="DejaVu Sans, sans-serif">1.00</text>
<line x1="941.3" y1="670.3" x2="945.6" y2="670.3" stroke="#333" stroke-width="1.1"/>
<text x="936.6" y="674.8" font-size="12.4" text-anchor="end" fill="#333" font-family="DejaVu Sans, sans-serif">4</text>
<line x1="941.3" y1="618.4" x2="945.6" y2="618.4" stroke="#333" stroke-width="1.1"/>
<text x="936.6" y="622.9" font-size="12.4" text-anchor="end" fill="#333" font-family="DejaVu Sans, sans-serif">5</text>
<line x1="941.3" y1="566.5" x2="945.6" y2="566.5" stroke="#333" stroke-width="1.1"/>
<text x="936.6" y="571" font-size="12.4" text-anchor="end" fill="#333" font-family="DejaVu Sans, sans-serif">6</text>
<line x1="941.3" y1="514.6" x2="945.6" y2="514.6" stroke="#333" stroke-width="1.1"/>
<text x="936.6" y="519.1" font-size="12.4" text-anchor="end" fill="#333" font-family="DejaVu Sans, sans-serif">7</text>
<rect x="1211.4" y="455.2" width="242.1" height="23.8" fill="#d9d9d9" stroke="#4d4d4d" stroke-width="1.3"/>
<text x="1332.5" y="471.8" font-size="13" text-anchor="middle" fill="#1a1a1a" font-family="DejaVu Sans, sans-serif">EGFR</text>
<line x1="1211.4" y1="479" x2="1453.5" y2="479" stroke="#1a1a1a" stroke-width="1.7"/>
<line x1="1217.5" y1="479" x2="1217.5" y2="705" stroke="#e5e5e5" stroke-width="1.7"/>
<line x1="1250.1" y1="479" x2="1250.1" y2="705" stroke="#eeeeee" stroke-width="1.2"/>
<line x1="1282.7" y1="479" x2="1282.7" y2="705" stroke="#e5e5e5" stroke-width="1.7"/>
<line x1="1315.3" y1="479" x2="1315.3" y2="705" stroke="#eeeeee" stroke-width="1.2"/>
<line x1="1347.9" y1="479" x2="1347.9" y2="705" stroke="#e5e5e5" stroke-width="1.7"/>
<line x1="1380.5" y1="479" x2="1380.5" y2="705" stroke="#eeeeee" stroke-width="1.2"/>
<line x1="1413.1" y1="479" x2="1413.1" y2="705" stroke="#e5e5e5" stroke-width="1.7"/>
<line x1="1445.7" y1="479" x2="1445.7" y2="705" stroke="#eeeeee" stroke-width="1.2"/>
<line x1="1211.4" y1="696.2" x2="1453.5" y2="696.2" stroke="#eeeeee" stroke-width="1.2"/>
<line x1="1211.4" y1="670.3" x2="1453.5" y2="670.3" stroke="#e5e5e5" stroke-width="1.7"/>
<line x1="1211.4" y1="644.3" x2="1453.5" y2="644.3" stroke="#eeeeee" stroke-width="1.2"/>
<line x1="1211.4" y1="618.4" x2="1453.5" y2="618.4" stroke="#e5e5e5" stroke-width="1.7"/>
<line x1="1211.4" y1="592.4" x2="1453.5" y2="592.4" stroke="#eeeeee" stroke-width="1.2"/>
<line x1="1211.4" y1="566.5" x2="1453.5" y2="566.5" stroke="#e5e5e5" stroke-width="1.7"/>
<line x1="1211.4" y1="540.5" x2="1453.5" y2="540.5" stroke="#eeeeee" stroke-width="1.2"/>
<line x1="1211.4" y1="514.6" x2="1453.5" y2="514.6" stroke="#e5e5e5" stroke-width="1.7"/>
<line x1="1211.4" y1="488.6" x2="1453.5" y2="488.6" stroke="#eeeeee" stroke-width="1.2"/>
<g fill="#000" fill-opacity=".32" stroke="#000" stroke-opacity=".5" stroke-width="1">
<circle cx="1267.2" cy="558.1" r="1.9"/>
<circle cx="1311.3" cy="559.1" r="1.9"/>
<circle cx="1358.4" cy="531.8" r="1.9"/>
<circle cx="1311.4" cy="509.3" r="1.9"/>
<circle cx="1303.1" cy="578.9" r="1.9"/>
<circle cx="1269.9" cy="573.8" r="1.9"/>
<circle cx="1346.7" cy="518.5" r="1.9"/>
<circle cx="1364.9" cy="493.5" r="1.9"/>
<circle cx="1347.1" cy="507.3" r="1.9"/>
<circle cx="1347.9" cy="548.2" r="1.9"/>
<circle cx="1354.7" cy="532.1" r="1.9"/>
<circle cx="1315.7" cy="502.3" r="1.9"/>
<circle cx="1353.1" cy="544.5" r="1.9"/>
<circle cx="1320.9" cy="492.9" r="1.9"/>
<circle cx="1314.4" cy="530.3" r="1.9"/>
<circle cx="1347.6" cy="524.3" r="1.9"/>
<circle cx="1346.4" cy="546.6" r="1.9"/>
<circle cx="1306.2" cy="552.7" r="1.9"/>
<circle cx="1310.2" cy="530" r="1.9"/>
<circle cx="1383" cy="543.5" r="1.9"/>
<circle cx="1344.9" cy="558.1" r="1.9"/>
<circle cx="1297.4" cy="557.3" r="1.9"/>
<circle cx="1328.1" cy="551.6" r="1.9"/>
<circle cx="1223.9" cy="545.5" r="1.9"/>
<circle cx="1313.5" cy="560.8" r="1.9"/>
<circle cx="1350" cy="548" r="1.9"/>
<circle cx="1269.2" cy="550.5" r="1.9"/>
<circle cx="1340" cy="556.3" r="1.9"/>
<circle cx="1356.1" cy="524.5" r="1.9"/>
<circle cx="1280.4" cy="518.9" r="1.9"/>
<circle cx="1334.2" cy="565" r="1.9"/>
<circle cx="1341.3" cy="534.8" r="1.9"/>
<circle cx="1361.1" cy="560.9" r="1.9"/>
<circle cx="1363.8" cy="509.4" r="1.9"/>
<circle cx="1350.5" cy="521.1" r="1.9"/>
<circle cx="1374.3" cy="510.9" r="1.9"/>
<circle cx="1328.8" cy="560.2" r="1.9"/>
<circle cx="1366.5" cy="507.7" r="1.9"/>
<circle cx="1335.3" cy="536.3" r="1.9"/>
<circle cx="1351.6" cy="589.9" r="1.9"/>
<circle cx="1336" cy="594.6" r="1.9"/>
<circle cx="1333.1" cy="517" r="1.9"/>
<circle cx="1396.5" cy="530" r="1.9"/>
<circle cx="1340.3" cy="539.6" r="1.9"/>
<circle cx="1238.4" cy="555.4" r="1.9"/>
<circle cx="1323.1" cy="542.2" r="1.9"/>
<circle cx="1287.5" cy="556.3" r="1.9"/>
<circle cx="1326.8" cy="514.3" r="1.9"/>
<circle cx="1334.9" cy="548.9" r="1.9"/>
<circle cx="1313.5" cy="548.1" r="1.9"/>
<circle cx="1292.6" cy="520.4" r="1.9"/>
<circle cx="1348.4" cy="563.6" r="1.9"/>
<circle cx="1327.8" cy="516.8" r="1.9"/>
<circle cx="1269.2" cy="558.1" r="1.9"/>
<circle cx="1314.5" cy="495" r="1.9"/>
<circle cx="1339.5" cy="547.4" r="1.9"/>
<circle cx="1302.1" cy="508.9" r="1.9"/>
<circle cx="1305.8" cy="499" r="1.9"/>
<circle cx="1263.7" cy="567.5" r="1.9"/>
<circle cx="1314.4" cy="562.2" r="1.9"/>
<circle cx="1315.5" cy="531" r="1.9"/>
<circle cx="1298.1" cy="583.6" r="1.9"/>
<circle cx="1375.2" cy="494.2" r="1.9"/>
<circle cx="1297.2" cy="545.5" r="1.9"/>
<circle cx="1225" cy="553" r="1.9"/>
<circle cx="1272.6" cy="572.6" r="1.9"/>
<circle cx="1406.5" cy="544.3" r="1.9"/>
<circle cx="1324.4" cy="567" r="1.9"/>
<circle cx="1252.7" cy="592.6" r="1.9"/>
<circle cx="1334" cy="569.1" r="1.9"/>
<circle cx="1301" cy="535" r="1.9"/>
<circle cx="1317.5" cy="574.6" r="1.9"/>
<circle cx="1381" cy="522.1" r="1.9"/>
<circle cx="1377.5" cy="549.1" r="1.9"/>
<circle cx="1388.3" cy="552.2" r="1.9"/>
<circle cx="1256.7" cy="575" r="1.9"/>
<circle cx="1309.3" cy="542.5" r="1.9"/>
<circle cx="1302.1" cy="536.7" r="1.9"/>
<circle cx="1374.7" cy="541.3" r="1.9"/>
<circle cx="1270.9" cy="569.8" r="1.9"/>
<circle cx="1354.9" cy="515.3" r="1.9"/>
<circle cx="1310.3" cy="569.8" r="1.9"/>
<circle cx="1322.8" cy="522.6" r="1.9"/>
<circle cx="1296.2" cy="524" r="1.9"/>
<circle cx="1332.2" cy="534.4" r="1.9"/>
<circle cx="1299.5" cy="521.5" r="1.9"/>
<circle cx="1325.2" cy="576.1" r="1.9"/>
<circle cx="1354.9" cy="542.7" r="1.9"/>
<circle cx="1364.8" cy="526.4" r="1.9"/>
<circle cx="1299.5" cy="547.8" r="1.9"/>
<circle cx="1304.7" cy="568.1" r="1.9"/>
<circle cx="1324.3" cy="525" r="1.9"/>
<circle cx="1326.2" cy="544.7" r="1.9"/>
<circle cx="1302.2" cy="538.1" r="1.9"/>
<circle cx="1333.9" cy="519.1" r="1.9"/>
<circle cx="1337.5" cy="492.1" r="1.9"/>
<circle cx="1263.3" cy="564.7" r="1.9"/>
<circle cx="1343.9" cy="517.2" r="1.9"/>
<circle cx="1264.8" cy="590" r="1.9"/>
<circle cx="1321.9" cy="521" r="1.9"/>
<circle cx="1365.5" cy="563.4" r="1.9"/>
<circle cx="1328.4" cy="516.2" r="1.9"/>
<circle cx="1324.5" cy="566.1" r="1.9"/>
<circle cx="1296" cy="582.2" r="1.9"/>
<circle cx="1369.1" cy="534.5" r="1.9"/>
<circle cx="1307" cy="568.4" r="1.9"/>
<circle cx="1318.1" cy="565.5" r="1.9"/>
<circle cx="1286" cy="557" r="1.9"/>
<circle cx="1314.6" cy="536.6" r="1.9"/>
<circle cx="1329" cy="515.8" r="1.9"/>
<circle cx="1321.7" cy="538.6" r="1.9"/>
<circle cx="1332.1" cy="558.7" r="1.9"/>
<circle cx="1368.9" cy="541.3" r="1.9"/>
<circle cx="1262.9" cy="536.1" r="1.9"/>
<circle cx="1348.4" cy="548" r="1.9"/>
<circle cx="1359.9" cy="510.5" r="1.9"/>
<circle cx="1350.3" cy="560.8" r="1.9"/>
<circle cx="1330.2" cy="564.4" r="1.9"/>
<circle cx="1300" cy="563.9" r="1.9"/>
<circle cx="1291" cy="543.6" r="1.9"/>
<circle cx="1293.2" cy="540" r="1.9"/>
<circle cx="1329.9" cy="555" r="1.9"/>
<circle cx="1329.9" cy="526.5" r="1.9"/>
<circle cx="1367.1" cy="535.2" r="1.9"/>
<circle cx="1389.7" cy="509.4" r="1.9"/>
<circle cx="1371" cy="557.9" r="1.9"/>
<circle cx="1282.9" cy="530.5" r="1.9"/>
<circle cx="1314.8" cy="536.4" r="1.9"/>
<circle cx="1369.2" cy="560.5" r="1.9"/>
<circle cx="1340.6" cy="495.5" r="1.9"/>
<circle cx="1353.9" cy="531.8" r="1.9"/>
<circle cx="1344.9" cy="536.6" r="1.9"/>
<circle cx="1352.9" cy="505.4" r="1.9"/>
<circle cx="1314.7" cy="534" r="1.9"/>
<circle cx="1335" cy="523.6" r="1.9"/>
<circle cx="1355.3" cy="556.9" r="1.9"/>
<circle cx="1367.8" cy="510.3" r="1.9"/>
<circle cx="1281.6" cy="563.8" r="1.9"/>
<circle cx="1267.7" cy="568.4" r="1.9"/>
<circle cx="1335.9" cy="565.2" r="1.9"/>
<circle cx="1293.9" cy="572.8" r="1.9"/>
<circle cx="1296.9" cy="569.6" r="1.9"/>
<circle cx="1282.6" cy="544.7" r="1.9"/>
<circle cx="1315.2" cy="564.6" r="1.9"/>
<circle cx="1361" cy="543.9" r="1.9"/>
<circle cx="1357.5" cy="559.8" r="1.9"/>
<circle cx="1377" cy="536.1" r="1.9"/>
<circle cx="1287.2" cy="546.7" r="1.9"/>
<circle cx="1272.4" cy="584.3" r="1.9"/>
<circle cx="1332.4" cy="551.5" r="1.9"/>
<circle cx="1338.5" cy="535.7" r="1.9"/>
<circle cx="1332.9" cy="537.8" r="1.9"/>
<circle cx="1350.4" cy="535" r="1.9"/>
<circle cx="1365.4" cy="509.3" r="1.9"/>
<circle cx="1248.5" cy="606.9" r="1.9"/>
<circle cx="1382.6" cy="534.1" r="1.9"/>
<circle cx="1330.4" cy="544" r="1.9"/>
<circle cx="1333.7" cy="492" r="1.9"/>
<circle cx="1296.4" cy="551.3" r="1.9"/>
<circle cx="1323.5" cy="567.5" r="1.9"/>
<circle cx="1290.1" cy="560.7" r="1.9"/>
<circle cx="1322.7" cy="535.6" r="1.9"/>
<circle cx="1248.7" cy="602.7" r="1.9"/>
<circle cx="1386" cy="527.2" r="1.9"/>
<circle cx="1354.6" cy="542.9" r="1.9"/>
<circle cx="1296.3" cy="506.4" r="1.9"/>
<circle cx="1276.3" cy="579.2" r="1.9"/>
<circle cx="1349" cy="535.1" r="1.9"/>
<circle cx="1260.9" cy="561.3" r="1.9"/>
<circle cx="1351" cy="568.2" r="1.9"/>
<circle cx="1302" cy="533.7" r="1.9"/>
<circle cx="1395.9" cy="571" r="1.9"/>
<circle cx="1297" cy="552" r="1.9"/>
<circle cx="1288.6" cy="575.2" r="1.9"/>
<circle cx="1304.2" cy="539" r="1.9"/>
<circle cx="1282.7" cy="538.3" r="1.9"/>
<circle cx="1354.8" cy="514.9" r="1.9"/>
<circle cx="1381.5" cy="536.2" r="1.9"/>
<circle cx="1321.3" cy="522.7" r="1.9"/>
<circle cx="1371.3" cy="507.6" r="1.9"/>
<circle cx="1306.1" cy="560.3" r="1.9"/>
<circle cx="1273.2" cy="569.9" r="1.9"/>
<circle cx="1289.2" cy="565.8" r="1.9"/>
<circle cx="1308.8" cy="530.5" r="1.9"/>
<circle cx="1355.7" cy="534.4" r="1.9"/>
<circle cx="1279.8" cy="559.4" r="1.9"/>
<circle cx="1339.6" cy="519.9" r="1.9"/>
<circle cx="1331.1" cy="523.7" r="1.9"/>
<circle cx="1298.3" cy="538" r="1.9"/>
<circle cx="1351.2" cy="542.5" r="1.9"/>
<circle cx="1294.4" cy="526.5" r="1.9"/>
<circle cx="1285.4" cy="541.4" r="1.9"/>
<circle cx="1312.9" cy="555" r="1.9"/>
<circle cx="1313.6" cy="556.8" r="1.9"/>
<circle cx="1321.7" cy="505.5" r="1.9"/>
<circle cx="1378.3" cy="528.8" r="1.9"/>
<circle cx="1341" cy="518.3" r="1.9"/>
<circle cx="1307" cy="509.1" r="1.9"/>
<circle cx="1324.5" cy="530" r="1.9"/>
<circle cx="1287" cy="580.3" r="1.9"/>
<circle cx="1285.3" cy="570.5" r="1.9"/>
<circle cx="1362.3" cy="538.1" r="1.9"/>
<circle cx="1356.6" cy="542.2" r="1.9"/>
<circle cx="1287" cy="552.2" r="1.9"/>
<circle cx="1308.1" cy="585.2" r="1.9"/>
<circle cx="1325" cy="517.6" r="1.9"/>
<circle cx="1315.3" cy="572.8" r="1.9"/>
<circle cx="1294.4" cy="579.9" r="1.9"/>
<circle cx="1313.9" cy="567.7" r="1.9"/>
<circle cx="1318.9" cy="541.6" r="1.9"/>
<circle cx="1373.4" cy="552.8" r="1.9"/>
<circle cx="1245.5" cy="534" r="1.9"/>
<circle cx="1339.6" cy="546.6" r="1.9"/>
<circle cx="1342.3" cy="558" r="1.9"/>
<circle cx="1310.3" cy="533.5" r="1.9"/>
<circle cx="1311.3" cy="545" r="1.9"/>
<circle cx="1339.7" cy="536" r="1.9"/>
<circle cx="1314" cy="535.8" r="1.9"/>
<circle cx="1373.3" cy="499.8" r="1.9"/>
<circle cx="1289.9" cy="538.3" r="1.9"/>
<circle cx="1251.1" cy="598.6" r="1.9"/>
<circle cx="1338.3" cy="527.3" r="1.9"/>
<circle cx="1374.8" cy="564.6" r="1.9"/>
<circle cx="1364" cy="542.5" r="1.9"/>
<circle cx="1305.4" cy="540.2" r="1.9"/>
<circle cx="1376.3" cy="547.1" r="1.9"/>
<circle cx="1258.4" cy="578.4" r="1.9"/>
<circle cx="1318.7" cy="519.4" r="1.9"/>
<circle cx="1336.9" cy="546.1" r="1.9"/>
<circle cx="1303.9" cy="560.5" r="1.9"/>
<circle cx="1359.7" cy="568.3" r="1.9"/>
<circle cx="1296.8" cy="571.8" r="1.9"/>
<circle cx="1365.6" cy="527.4" r="1.9"/>
<circle cx="1297.6" cy="536.1" r="1.9"/>
<circle cx="1396.9" cy="497.6" r="1.9"/>
<circle cx="1273.7" cy="564.9" r="1.9"/>
<circle cx="1365.9" cy="569.6" r="1.9"/>
<circle cx="1276.7" cy="568.4" r="1.9"/>
<circle cx="1342.7" cy="555.6" r="1.9"/>
<circle cx="1328.6" cy="545.8" r="1.9"/>
<circle cx="1335.1" cy="566.5" r="1.9"/>
<circle cx="1239" cy="618.6" r="1.9"/>
<circle cx="1329.1" cy="520.9" r="1.9"/>
<circle cx="1341" cy="573.3" r="1.9"/>
<circle cx="1257.1" cy="572.2" r="1.9"/>
<circle cx="1288.2" cy="595.7" r="1.9"/>
<circle cx="1300.7" cy="568.9" r="1.9"/>
<circle cx="1318.2" cy="537.6" r="1.9"/>
<circle cx="1329.8" cy="538.1" r="1.9"/>
<circle cx="1342.4" cy="540.3" r="1.9"/>
<circle cx="1305.6" cy="557.6" r="1.9"/>
<circle cx="1367.4" cy="535.9" r="1.9"/>
<circle cx="1353.1" cy="498.3" r="1.9"/>
<circle cx="1388.4" cy="569.7" r="1.9"/>
<circle cx="1328.2" cy="521.3" r="1.9"/>
<circle cx="1305.4" cy="565.6" r="1.9"/>
<circle cx="1268.5" cy="577" r="1.9"/>
<circle cx="1322.5" cy="585.6" r="1.9"/>
<circle cx="1322" cy="563" r="1.9"/>
<circle cx="1323.2" cy="568" r="1.9"/>
<circle cx="1325.6" cy="540.1" r="1.9"/>
<circle cx="1296.2" cy="567.9" r="1.9"/>
<circle cx="1358.3" cy="519.2" r="1.9"/>
<circle cx="1293" cy="544.8" r="1.9"/>
<circle cx="1278.8" cy="570.3" r="1.9"/>
<circle cx="1301" cy="536.9" r="1.9"/>
<circle cx="1303.9" cy="538" r="1.9"/>
<circle cx="1298.1" cy="546.1" r="1.9"/>
<circle cx="1316.8" cy="567.8" r="1.9"/>
<circle cx="1401.6" cy="537.1" r="1.9"/>
<circle cx="1271.5" cy="558.6" r="1.9"/>
<circle cx="1340.3" cy="531.4" r="1.9"/>
<circle cx="1318.3" cy="535.9" r="1.9"/>
<circle cx="1357.6" cy="519.6" r="1.9"/>
<circle cx="1270.1" cy="524.3" r="1.9"/>
<circle cx="1321.2" cy="589.7" r="1.9"/>
<circle cx="1353.8" cy="537.6" r="1.9"/>
<circle cx="1333.1" cy="498" r="1.9"/>
<circle cx="1302.1" cy="565" r="1.9"/>
<circle cx="1285.3" cy="552.8" r="1.9"/>
<circle cx="1347.3" cy="528" r="1.9"/>
<circle cx="1328.7" cy="589" r="1.9"/>
<circle cx="1332.4" cy="517.9" r="1.9"/>
<circle cx="1303.1" cy="562.7" r="1.9"/>
<circle cx="1284.2" cy="552" r="1.9"/>
<circle cx="1263.4" cy="522.4" r="1.9"/>
<circle cx="1314.9" cy="560.2" r="1.9"/>
<circle cx="1276.4" cy="548.1" r="1.9"/>
<circle cx="1359.1" cy="544.9" r="1.9"/>
<circle cx="1328.9" cy="536.2" r="1.9"/>
<circle cx="1359" cy="519.3" r="1.9"/>
<circle cx="1369.1" cy="560.2" r="1.9"/>
<circle cx="1420.9" cy="523.3" r="1.9"/>
<circle cx="1280.1" cy="578.8" r="1.9"/>
<circle cx="1337" cy="523.1" r="1.9"/>
<circle cx="1414.2" cy="531.2" r="1.9"/>
<circle cx="1309.4" cy="559.1" r="1.9"/>
<circle cx="1299.7" cy="555.9" r="1.9"/>
<circle cx="1299.2" cy="526.8" r="1.9"/>
<circle cx="1335.1" cy="526.9" r="1.9"/>
<circle cx="1316.5" cy="571.9" r="1.9"/>
<circle cx="1339" cy="547.8" r="1.9"/>
<circle cx="1397.6" cy="493.2" r="1.9"/>
<circle cx="1276.7" cy="581.2" r="1.9"/>
<circle cx="1301.7" cy="556.1" r="1.9"/>
<circle cx="1365.6" cy="534.4" r="1.9"/>
<circle cx="1339.7" cy="546" r="1.9"/>
<circle cx="1314.3" cy="520.5" r="1.9"/>
<circle cx="1323" cy="501.7" r="1.9"/>
<circle cx="1320.8" cy="536.7" r="1.9"/>
<circle cx="1337.5" cy="525.2" r="1.9"/>
<circle cx="1395.3" cy="535.5" r="1.9"/>
<circle cx="1302.5" cy="571.7" r="1.9"/>
<circle cx="1390.8" cy="512" r="1.9"/>
<circle cx="1339.6" cy="529" r="1.9"/>
<circle cx="1252.7" cy="550.7" r="1.9"/>
<circle cx="1327.4" cy="536.3" r="1.9"/>
<circle cx="1325.9" cy="545.4" r="1.9"/>
<circle cx="1319.8" cy="557.8" r="1.9"/>
<circle cx="1314" cy="533.6" r="1.9"/>
<circle cx="1242.7" cy="552.8" r="1.9"/>
<circle cx="1346.9" cy="559.8" r="1.9"/>
<circle cx="1341.8" cy="531.6" r="1.9"/>
<circle cx="1302.9" cy="514.2" r="1.9"/>
<circle cx="1329.2" cy="545.3" r="1.9"/>
<circle cx="1273.3" cy="513.4" r="1.9"/>
<circle cx="1330.8" cy="535" r="1.9"/>
<circle cx="1313.9" cy="502.3" r="1.9"/>
<circle cx="1316.8" cy="512.1" r="1.9"/>
<circle cx="1362.5" cy="510.2" r="1.9"/>
<circle cx="1346.6" cy="511.5" r="1.9"/>
<circle cx="1318.2" cy="591.1" r="1.9"/>
<circle cx="1364.6" cy="575.5" r="1.9"/>
<circle cx="1373.2" cy="569" r="1.9"/>
<circle cx="1345.6" cy="526.7" r="1.9"/>
<circle cx="1295.7" cy="596.6" r="1.9"/>
<circle cx="1319.1" cy="508.9" r="1.9"/>
<circle cx="1318.5" cy="546" r="1.9"/>
<circle cx="1325.8" cy="542.6" r="1.9"/>
<circle cx="1333.6" cy="560" r="1.9"/>
<circle cx="1253.7" cy="548.8" r="1.9"/>
<circle cx="1302.8" cy="562" r="1.9"/>
<circle cx="1269.8" cy="565.7" r="1.9"/>
<circle cx="1306.2" cy="540.6" r="1.9"/>
<circle cx="1307.6" cy="581.2" r="1.9"/>
<circle cx="1341.2" cy="540.2" r="1.9"/>
<circle cx="1251.1" cy="575.4" r="1.9"/>
<circle cx="1351.2" cy="536.5" r="1.9"/>
<circle cx="1310.2" cy="535.7" r="1.9"/>
<circle cx="1298.3" cy="567.7" r="1.9"/>
<circle cx="1342.3" cy="541.5" r="1.9"/>
<circle cx="1299.1" cy="547.4" r="1.9"/>
<circle cx="1332.3" cy="521" r="1.9"/>
<circle cx="1360.5" cy="530.1" r="1.9"/>
<circle cx="1321.5" cy="565.2" r="1.9"/>
<circle cx="1330.1" cy="549.8" r="1.9"/>
<circle cx="1354.1" cy="516.8" r="1.9"/>
<circle cx="1346.7" cy="537.8" r="1.9"/>
<circle cx="1335" cy="507.8" r="1.9"/>
<circle cx="1386.8" cy="536.2" r="1.9"/>
<circle cx="1346" cy="570.1" r="1.9"/>
<circle cx="1324.5" cy="534" r="1.9"/>
<circle cx="1379" cy="529.7" r="1.9"/>
<circle cx="1318.3" cy="558.3" r="1.9"/>
<circle cx="1334" cy="567.3" r="1.9"/>
<circle cx="1343.9" cy="530.1" r="1.9"/>
<circle cx="1373.5" cy="534.4" r="1.9"/>
<circle cx="1334.9" cy="536.1" r="1.9"/>
<circle cx="1321.9" cy="565.5" r="1.9"/>
<circle cx="1301.5" cy="550.3" r="1.9"/>
<circle cx="1341.2" cy="515.9" r="1.9"/>
<circle cx="1300" cy="546.2" r="1.9"/>
<circle cx="1345.8" cy="518.2" r="1.9"/>
<circle cx="1332.1" cy="536.8" r="1.9"/>
<circle cx="1309.7" cy="548" r="1.9"/>
<circle cx="1315.4" cy="584.4" r="1.9"/>
<circle cx="1296.1" cy="605.2" r="1.9"/>
<circle cx="1341.8" cy="519" r="1.9"/>
<circle cx="1309.2" cy="545.1" r="1.9"/>
<circle cx="1328.8" cy="547.8" r="1.9"/>
<circle cx="1378.2" cy="530.2" r="1.9"/>
<circle cx="1335.1" cy="541.6" r="1.9"/>
<circle cx="1398.2" cy="555" r="1.9"/>
<circle cx="1330.6" cy="570.6" r="1.9"/>
<circle cx="1296" cy="573.8" r="1.9"/>
<circle cx="1351.8" cy="558.2" r="1.9"/>
<circle cx="1285" cy="563.8" r="1.9"/>
<circle cx="1287" cy="577.5" r="1.9"/>
<circle cx="1382.4" cy="539.1" r="1.9"/>
<circle cx="1292.8" cy="524.3" r="1.9"/>
<circle cx="1326.3" cy="518.9" r="1.9"/>
<circle cx="1261.7" cy="570.7" r="1.9"/>
<circle cx="1340.9" cy="533.5" r="1.9"/>
<circle cx="1343.4" cy="510.5" r="1.9"/>
<circle cx="1345" cy="513.1" r="1.9"/>
<circle cx="1351.2" cy="551.1" r="1.9"/>
<circle cx="1330.3" cy="513.5" r="1.9"/>
<circle cx="1287.4" cy="544.2" r="1.9"/>
<circle cx="1346.8" cy="507.3" r="1.9"/>
<circle cx="1260.2" cy="513.1" r="1.9"/>
<circle cx="1264.6" cy="563.3" r="1.9"/>
<circle cx="1418.5" cy="542.1" r="1.9"/>
<circle cx="1407.7" cy="510.4" r="1.9"/>
<circle cx="1395.2" cy="517.1" r="1.9"/>
<circle cx="1293.6" cy="560.6" r="1.9"/>
<circle cx="1274.3" cy="590.1" r="1.9"/>
<circle cx="1337.5" cy="570.8" r="1.9"/>
<circle cx="1336.7" cy="541.1" r="1.9"/>
<circle cx="1318" cy="568.3" r="1.9"/>
<circle cx="1276.5" cy="542" r="1.9"/>
<circle cx="1287" cy="568.5" r="1.9"/>
<circle cx="1316.4" cy="531.5" r="1.9"/>
<circle cx="1397.6" cy="502.5" r="1.9"/>
<circle cx="1348.4" cy="521.5" r="1.9"/>
<circle cx="1315.1" cy="551.1" r="1.9"/>
<circle cx="1257.9" cy="553.5" r="1.9"/>
<circle cx="1304.3" cy="542" r="1.9"/>
<circle cx="1407.5" cy="497.7" r="1.9"/>
<circle cx="1366.4" cy="510.8" r="1.9"/>
<circle cx="1301.9" cy="565.2" r="1.9"/>
<circle cx="1268" cy="574.7" r="1.9"/>
<circle cx="1329.2" cy="527" r="1.9"/>
<circle cx="1344.7" cy="544.5" r="1.9"/>
<circle cx="1280.3" cy="557.1" r="1.9"/>
<circle cx="1334.8" cy="583.3" r="1.9"/>
<circle cx="1326.4" cy="574.2" r="1.9"/>
<circle cx="1305.8" cy="552.9" r="1.9"/>
<circle cx="1285.8" cy="567.5" r="1.9"/>
<circle cx="1323.2" cy="565.9" r="1.9"/>
<circle cx="1348.6" cy="521.6" r="1.9"/>
<circle cx="1343.5" cy="560.4" r="1.9"/>
<circle cx="1315.5" cy="553.8" r="1.9"/>
<circle cx="1327.1" cy="526.6" r="1.9"/>
<circle cx="1302.9" cy="550.4" r="1.9"/>
<circle cx="1353.8" cy="541.3" r="1.9"/>
<circle cx="1349.8" cy="535.9" r="1.9"/>
<circle cx="1269.5" cy="562.7" r="1.9"/>
<circle cx="1328.2" cy="551.7" r="1.9"/>
<circle cx="1394.9" cy="529.1" r="1.9"/>
<circle cx="1267.5" cy="565.9" r="1.9"/>
<circle cx="1314.3" cy="536.1" r="1.9"/>
<circle cx="1418" cy="510.1" r="1.9"/>
<circle cx="1353.5" cy="549.9" r="1.9"/>
<circle cx="1287.3" cy="571.4" r="1.9"/>
<circle cx="1315.3" cy="556.6" r="1.9"/>
<circle cx="1322.4" cy="558.5" r="1.9"/>
<circle cx="1277.4" cy="576.3" r="1.9"/>
<circle cx="1352" cy="559.9" r="1.9"/>
<circle cx="1352.1" cy="499.2" r="1.9"/>
<circle cx="1287.6" cy="536.5" r="1.9"/>
<circle cx="1354.2" cy="591.6" r="1.9"/>
<circle cx="1354.9" cy="519.8" r="1.9"/>
<circle cx="1293" cy="515.9" r="1.9"/>
<circle cx="1255.3" cy="538.4" r="1.9"/>
<circle cx="1332.5" cy="563.6" r="1.9"/>
<circle cx="1326.6" cy="576.4" r="1.9"/>
<circle cx="1345.3" cy="525.2" r="1.9"/>
<circle cx="1368.8" cy="498.8" r="1.9"/>
<circle cx="1296.5" cy="542.3" r="1.9"/>
<circle cx="1299.2" cy="615.2" r="1.9"/>
<circle cx="1358.5" cy="507.3" r="1.9"/>
<circle cx="1330.8" cy="504" r="1.9"/>
<circle cx="1320.2" cy="583" r="1.9"/>
<circle cx="1305.1" cy="556.3" r="1.9"/>
<circle cx="1332.7" cy="550.1" r="1.9"/>
<circle cx="1238" cy="599.3" r="1.9"/>
<circle cx="1316.8" cy="522.1" r="1.9"/>
<circle cx="1297.3" cy="581.3" r="1.9"/>
<circle cx="1304.3" cy="530.7" r="1.9"/>
<circle cx="1369.5" cy="550.6" r="1.9"/>
<circle cx="1348.1" cy="507.4" r="1.9"/>
<circle cx="1352.5" cy="558.8" r="1.9"/>
<circle cx="1345.2" cy="548.1" r="1.9"/>
<circle cx="1303.2" cy="509" r="1.9"/>
<circle cx="1321" cy="534.2" r="1.9"/>
<circle cx="1368.5" cy="493.7" r="1.9"/>
<circle cx="1332.9" cy="554.6" r="1.9"/>
<circle cx="1320.5" cy="560.1" r="1.9"/>
<circle cx="1317.8" cy="548.7" r="1.9"/>
<circle cx="1266" cy="580.4" r="1.9"/>
<circle cx="1268.7" cy="563.6" r="1.9"/>
<circle cx="1352.7" cy="518.8" r="1.9"/>
<circle cx="1329.5" cy="563.3" r="1.9"/>
<circle cx="1319.8" cy="575.3" r="1.9"/>
<circle cx="1343.9" cy="571.4" r="1.9"/>
<circle cx="1298.1" cy="515.1" r="1.9"/>
<circle cx="1338.1" cy="560.9" r="1.9"/>
<circle cx="1314.2" cy="569.8" r="1.9"/>
<circle cx="1292.1" cy="563.9" r="1.9"/>
<circle cx="1290.3" cy="551.1" r="1.9"/>
<circle cx="1362.9" cy="550.2" r="1.9"/>
<circle cx="1287.1" cy="574" r="1.9"/>
<circle cx="1299" cy="549.7" r="1.9"/>
<circle cx="1297" cy="572.3" r="1.9"/>
<circle cx="1296.6" cy="531.8" r="1.9"/>
<circle cx="1359.1" cy="509.9" r="1.9"/>
<circle cx="1329.2" cy="563.2" r="1.9"/>
<circle cx="1374.3" cy="541.9" r="1.9"/>
<circle cx="1299.2" cy="528.7" r="1.9"/>
<circle cx="1348.3" cy="527.6" r="1.9"/>
<circle cx="1233.1" cy="695.2" r="1.9"/>
<circle cx="1222.7" cy="558.7" r="1.9"/>
<circle cx="1226.6" cy="595" r="1.9"/>
<circle cx="1230.5" cy="530.2" r="1.9"/>
<circle cx="1243.6" cy="561.3" r="1.9"/>
<circle cx="1248.8" cy="621" r="1.9"/>
<circle cx="1256.6" cy="628.8" r="1.9"/>
<circle cx="1272.3" cy="621" r="1.9"/>
<circle cx="1301" cy="628.8" r="1.9"/>
<circle cx="1444.4" cy="563.9" r="1.9"/>
<circle cx="1436.6" cy="550.9" r="1.9"/>
<circle cx="1428.7" cy="553.5" r="1.9"/>
<circle cx="1434" cy="532.8" r="1.9"/>
<circle cx="1405.3" cy="525" r="1.9"/>
</g>
<path d="M1222.1 568 L1231.3 566 L1240.5 563.9 L1249.6 561.8 L1258.8 559.6 L1268 557.4 L1277.2 555.2 L1286.4 552.9 L1295.5 550.5 L1304.7 548.1 L1313.9 545.7 L1323.1 543.2 L1332.2 540.6 L1341.4 538 L1350.6 535.4 L1359.8 532.7 L1369 530 L1378.1 527.3 L1387.3 524.5 L1396.5 521.6 L1405.7 518.8 L1414.9 515.8 L1424 512.9 L1433.2 509.9 L1442.4 506.8 L1442.4 518.8 L1433.2 520.8 L1424 522.8 L1414.9 524.8 L1405.7 526.9 L1396.5 529 L1387.3 531.2 L1378.1 533.4 L1369 535.7 L1359.8 538 L1350.6 540.4 L1341.4 542.7 L1332.2 545.2 L1323.1 547.7 L1313.9 550.2 L1304.7 552.8 L1295.5 555.4 L1286.4 558 L1277.2 560.7 L1268 563.5 L1258.8 566.3 L1249.6 569.2 L1240.5 572.1 L1231.3 575 L1222.1 578Z" fill="#999" fill-opacity=".4"/>
<line x1="1222.1" y1="573" x2="1442.4" y2="512.8" stroke="#3366ff" stroke-width="2"/>
<rect x="1211.4" y="479" width="242.1" height="226" fill="none" stroke="#333" stroke-width="1.1"/>
<text x="1450.7" y="491.9" font-size="11.8" text-anchor="end" fill="#e01c1c" font-family="DejaVu Sans, sans-serif">partial.rho = 0.378</text>
<text x="1450.7" y="503.5" font-size="11.8" text-anchor="end" fill="#e01c1c" font-family="DejaVu Sans, sans-serif">p = 3.79e-18</text>
<line x1="1217.5" y1="705" x2="1217.5" y2="709" stroke="#333" stroke-width="1.1"/>
<text x="1217.5" y="722.4" font-size="12.4" text-anchor="middle" fill="#333" font-family="DejaVu Sans, sans-serif">0.0</text>
<line x1="1282.7" y1="705" x2="1282.7" y2="709" stroke="#333" stroke-width="1.1"/>
<text x="1282.7" y="722.4" font-size="12.4" text-anchor="middle" fill="#333" font-family="DejaVu Sans, sans-serif">2.5</text>
<line x1="1347.9" y1="705" x2="1347.9" y2="709" stroke="#333" stroke-width="1.1"/>
<text x="1347.9" y="722.4" font-size="12.4" text-anchor="middle" fill="#333" font-family="DejaVu Sans, sans-serif">5.0</text>
<line x1="1413.1" y1="705" x2="1413.1" y2="709" stroke="#333" stroke-width="1.1"/>
<text x="1413.1" y="722.4" font-size="12.4" text-anchor="middle" fill="#333" font-family="DejaVu Sans, sans-serif">7.5</text>
<line x1="1207.1" y1="670.3" x2="1211.4" y2="670.3" stroke="#333" stroke-width="1.1"/>
<text x="1202.4" y="674.8" font-size="12.4" text-anchor="end" fill="#333" font-family="DejaVu Sans, sans-serif">4</text>
<line x1="1207.1" y1="618.4" x2="1211.4" y2="618.4" stroke="#333" stroke-width="1.1"/>
<text x="1202.4" y="622.9" font-size="12.4" text-anchor="end" fill="#333" font-family="DejaVu Sans, sans-serif">5</text>
<line x1="1207.1" y1="566.5" x2="1211.4" y2="566.5" stroke="#333" stroke-width="1.1"/>
<text x="1202.4" y="571" font-size="12.4" text-anchor="end" fill="#333" font-family="DejaVu Sans, sans-serif">6</text>
<line x1="1207.1" y1="514.6" x2="1211.4" y2="514.6" stroke="#333" stroke-width="1.1"/>
<text x="1202.4" y="519.1" font-size="12.4" text-anchor="end" fill="#333" font-family="DejaVu Sans, sans-serif">7</text>
<text x="1033.8" y="740.6" font-size="15.9" text-anchor="middle" fill="#000" font-family="DejaVu Sans, sans-serif">Purity</text>
<text x="1357" y="740.6" font-size="15.8" text-anchor="middle" fill="#000" font-family="DejaVu Sans, sans-serif">Expression Level</text>
<text transform="translate(923,593.5) rotate(-90)" font-size="15.8" text-anchor="middle" fill="#000" font-family="DejaVu Sans, sans-serif">GRB2 Expression Level (log2 TPM)</text>
<rect x="1541.3" y="422.3" width="463.4" height="389.4" fill="none" stroke="#000" stroke-width="1.1"/>
<line x1="1533" y1="797.3" x2="1541.3" y2="797.3" stroke="#000" stroke-width="1.1"/>
<text transform="translate(1521.5,797.3) rotate(-90)" font-size="20.5" text-anchor="middle" fill="#000" font-family="Liberation Sans, sans-serif">0.0</text>
<line x1="1533" y1="725.1" x2="1541.3" y2="725.1" stroke="#000" stroke-width="1.1"/>
<text transform="translate(1521.5,725.1) rotate(-90)" font-size="20.5" text-anchor="middle" fill="#000" font-family="Liberation Sans, sans-serif">0.2</text>
<line x1="1533" y1="652.9" x2="1541.3" y2="652.9" stroke="#000" stroke-width="1.1"/>
<text transform="translate(1521.5,652.9) rotate(-90)" font-size="20.5" text-anchor="middle" fill="#000" font-family="Liberation Sans, sans-serif">0.4</text>
<line x1="1533" y1="580.7" x2="1541.3" y2="580.7" stroke="#000" stroke-width="1.1"/>
<text transform="translate(1521.5,580.7) rotate(-90)" font-size="20.5" text-anchor="middle" fill="#000" font-family="Liberation Sans, sans-serif">0.6</text>
<line x1="1533" y1="508.5" x2="1541.3" y2="508.5" stroke="#000" stroke-width="1.1"/>
<text transform="translate(1521.5,508.5) rotate(-90)" font-size="20.5" text-anchor="middle" fill="#000" font-family="Liberation Sans, sans-serif">0.8</text>
<line x1="1533" y1="436.3" x2="1541.3" y2="436.3" stroke="#000" stroke-width="1.1"/>
<text transform="translate(1521.5,436.3) rotate(-90)" font-size="20.5" text-anchor="middle" fill="#000" font-family="Liberation Sans, sans-serif">1.0</text>
<line x1="1558.3" y1="811.7" x2="1558.3" y2="820" stroke="#000" stroke-width="1.1"/>
<text x="1558.3" y="841.5" font-size="20.5" text-anchor="middle" fill="#000" font-family="Liberation Sans, sans-serif">0</text>
<line x1="1648.5" y1="811.7" x2="1648.5" y2="820" stroke="#000" stroke-width="1.1"/>
<text x="1648.5" y="841.5" font-size="20.5" text-anchor="middle" fill="#000" font-family="Liberation Sans, sans-serif">50</text>
<line x1="1738.8" y1="811.7" x2="1738.8" y2="820" stroke="#000" stroke-width="1.1"/>
<text x="1738.8" y="841.5" font-size="20.5" text-anchor="middle" fill="#000" font-family="Liberation Sans, sans-serif">100</text>
<line x1="1829" y1="811.7" x2="1829" y2="820" stroke="#000" stroke-width="1.1"/>
<text x="1829" y="841.5" font-size="20.5" text-anchor="middle" fill="#000" font-family="Liberation Sans, sans-serif">150</text>
<line x1="1919.2" y1="811.7" x2="1919.2" y2="820" stroke="#000" stroke-width="1.1"/>
<text x="1919.2" y="841.5" font-size="20.5" text-anchor="middle" fill="#000" font-family="Liberation Sans, sans-serif">200</text>
<text x="1772.7" y="395.6" font-size="20.7" font-weight="bold" text-anchor="middle" fill="#000" font-family="Liberation Sans, sans-serif">GRB2 (223049_at)</text>
<text x="1995.5" y="450.4" font-size="20.85" text-anchor="end" fill="#000" font-family="Liberation Sans, sans-serif">HR = 0.57 (0.48 − 0.68)</text>
<text x="1993.5" y="475.8" font-size="20.85" text-anchor="end" fill="#000" font-family="Liberation Sans, sans-serif">logrank P = 6.5e−11</text>
<text x="1773.6" y="875" font-size="20.7" text-anchor="middle" fill="#000" font-family="Liberation Sans, sans-serif">Time (months)</text>
<text transform="translate(1488,616) rotate(-90)" font-size="20.5" text-anchor="middle" fill="#000" font-family="Liberation Sans, sans-serif">Probability</text>
<text x="1552.3" y="743.6" font-size="20.4" fill="#000" font-family="Liberation Sans, sans-serif">Expression</text>
<text x="1616.5" y="773.6" font-size="20.4" fill="#000" font-family="Liberation Sans, sans-serif">low</text>
<text x="1616.5" y="795.8" font-size="20.4" fill="#000" font-family="Liberation Sans, sans-serif">high</text>
<line x1="1560" y1="766.3" x2="1597.8" y2="766.3" stroke="#000" stroke-width="1.1"/>
<line x1="1560" y1="789.1" x2="1597.8" y2="789.1" stroke="#ee1111" stroke-width="1.1"/>
<circle cx="1560.3" cy="797.3" r="0.9" fill="#000"/>
<text x="1541.7" y="891.8" font-size="13.8" fill="#000" font-family="Liberation Sans, sans-serif">Number at risk</text>
<text x="1522" y="908" font-size="13.5" text-anchor="end" fill="#000" font-family="Liberation Sans, sans-serif">low</text>
<text x="1521.5" y="924.8" font-size="13.5" text-anchor="end" fill="#ee1111" font-family="Liberation Sans, sans-serif">high</text>
<text x="1558.3" y="908" font-size="13.5" text-anchor="middle" fill="#000" font-family="Liberation Sans, sans-serif">573</text>
<text x="1558.3" y="924.8" font-size="13.5" text-anchor="middle" fill="#ee1111" font-family="Liberation Sans, sans-serif">571</text>
<text x="1648.5" y="908" font-size="13.5" text-anchor="middle" fill="#000" font-family="Liberation Sans, sans-serif">242</text>
<text x="1648.5" y="924.8" font-size="13.5" text-anchor="middle" fill="#ee1111" font-family="Liberation Sans, sans-serif">303</text>
<text x="1738.8" y="908" font-size="13.5" text-anchor="middle" fill="#000" font-family="Liberation Sans, sans-serif">97</text>
<text x="1738.8" y="924.8" font-size="13.5" text-anchor="middle" fill="#ee1111" font-family="Liberation Sans, sans-serif">42</text>
<text x="1829" y="908" font-size="13.5" text-anchor="middle" fill="#000" font-family="Liberation Sans, sans-serif">34</text>
<text x="1829" y="924.8" font-size="13.5" text-anchor="middle" fill="#ee1111" font-family="Liberation Sans, sans-serif">12</text>
<text x="1919.2" y="908" font-size="13.5" text-anchor="middle" fill="#000" font-family="Liberation Sans, sans-serif">5</text>
<text x="1919.2" y="924.8" font-size="13.5" text-anchor="middle" fill="#ee1111" font-family="Liberation Sans, sans-serif">1</text>
<path d="M1558.3 437.3H1559.5V437.7H1561.3V438.2H1562.8V438.7H1564.7V439.6H1566.6V440.9H1567.5V441.5H1568.3V442H1570.6V443.6H1571.9V446H1573.1V448.4H1575.7V453.6H1577.4V457.5H1579.7V463.4H1581.3V468.3H1583.3V472.5H1584.3V473.3H1586.3V474.8H1588.7V477H1590.4V478.7H1592.5V480.8H1594.5V482.9H1595.5V484.5H1597.6V488.3H1599.5V491.5H1600.8V493.5H1601.7V494.8H1604V498.2H1605.7V499.9H1607.8V502H1610.2V504.4H1612.3V506.7H1614.7V509.6H1616.2V511.3H1618.5V514.2H1620.1V517H1622.5V521.3H1624.9V524.5H1625.9V525.8H1626.9V527.2H1628.1V528.8H1630.7V531.9H1632.3V533.5H1634.2V535.4H1635.5V536.8H1637.2V538.5H1638.7V540H1640.2V541.6H1642V543.6H1643.9V545.7H1646.3V548.4H1648.3V550.7H1650.8V553H1653.1V555H1655.7V557.3H1657.7V559.1H1658.8V559.9H1661.2V561.3H1663.7V562.9H1666.1V564.4H1668V565.6H1670.1V567.2H1671.2V568.1H1673.5V569.8H1675.4V571.2H1676.7V572.2H1677.6V572.9H1679.9V575H1682.5V577.2H1683.5V578.1H1685.7V580H1687.2V581.4H1688.3V582.3H1689.6V583.5H1691.8V585.4H1694.2V587.4H1695.1V588.2H1697V589.8H1697.9V590.4H1700V592H1701.4V593.1H1703.7V594.9H1706.3V596.5H1708V597.2H1710.6V598.2H1712V598.8H1712.9V599.2H1714.8V599.9H1715.6V600.2H1716.8V600.7H1718.3V601.3H1720.2V602.1H1721.3V602.5H1722.2V602.8H1724.6V603.8H1725.9V604.3H1728.4V605.3H1730.9V606.1H1732.3V606.6H1734V607.1H1735.7V607.6H1737.7V608.2H1739.5V608.8H1741.3V609.3H1743.3V609.6H1745.8V610.1H1747.5V610.5H1749V610.8H1751.1V611.2H1752.4V611.4H1753.7V611.6H1756.3V611.7H1758V611.8H1759.8V611.9H1760.6V612H1762.2V612.1H1764V612.2H1764.8V612.2H1766.7V612.3H1768.7V612.4H1769.6V612.5H1769.8V612.5H1769.8V619.6H1782.2V619.6H1782.2V627H1803.2V627H1803.2V638.1H1829.2V638.1H1829.2V651.5H1991.1V651.5" fill="none" stroke="#ee1111" stroke-width="1.4"/>
<path d="M1555.5 437.7h8M1559.5 433.7v8M1557 438.1h8M1561 434.1v8M1558.5 438.6h8M1562.5 434.6v8M1560.5 439.5h8M1564.5 435.5v8M1562.5 440.8h8M1566.5 436.8v8M1565 442.5h8M1569 438.5v8M1571.5 453.1h8M1575.5 449.1v8M1577.7 469.4h8M1581.7 465.4v8M1578.7 472.1h8M1582.7 468.1v8M1579.8 472.9h8M1583.8 468.9v8M1581.9 474.5h8M1585.9 470.5v8M1582.8 475.3h8M1586.8 471.3v8M1584.7 477h8M1588.7 473v8M1584.7 477h8M1588.7 473v8M1585.2 477.5h8M1589.2 473.5v8M1587.2 479.5h8M1591.2 475.5v8M1588 480.3h8M1592 476.3v8M1589.6 481.9h8M1593.6 477.9v8M1589.7 482h8M1593.7 478v8M1590.2 482.5h8M1594.2 478.5v8M1590.4 482.7h8M1594.4 478.7v8M1591 483.7h8M1595 479.7v8M1591.6 484.7h8M1595.6 480.7v8M1591.6 484.8h8M1595.6 480.8v8M1591.8 485.1h8M1595.8 481.1v8M1592 485.5h8M1596 481.5v8M1593.8 488.6h8M1597.8 484.6v8M1594.8 490.4h8M1598.8 486.4v8M1594.9 490.6h8M1598.9 486.6v8M1596.1 492.4h8M1600.1 488.4v8M1596.2 492.6h8M1600.2 488.6v8M1596.9 493.6h8M1600.9 489.6v8M1597 493.8h8M1601 489.8v8M1597 493.8h8M1601 489.8v8M1598.5 496h8M1602.5 492v8M1598.6 496.2h8M1602.6 492.2v8M1598.8 496.5h8M1602.8 492.5v8M1601.7 499.9h8M1605.7 495.9v8M1603.2 501.4h8M1607.2 497.4v8M1603.5 501.7h8M1607.5 497.7v8M1605.8 504h8M1609.8 500v8M1606.4 504.6h8M1610.4 500.6v8M1607.2 505.4h8M1611.2 501.4v8M1607.3 505.6h8M1611.3 501.6v8M1609.4 508h8M1613.4 504v8M1610.2 509h8M1614.2 505v8M1612.7 511.8h8M1616.7 507.8v8M1614.3 513.9h8M1618.3 509.9v8M1614.5 514.3h8M1618.5 510.3v8M1614.9 514.9h8M1618.9 510.9v8M1615 515.1h8M1619 511.1v8M1615.1 515.3h8M1619.1 511.3v8M1615.1 515.4h8M1619.1 511.4v8M1615.4 515.8h8M1619.4 511.8v8M1616.1 517h8M1620.1 513v8M1616.1 517h8M1620.1 513v8M1616.9 518.4h8M1620.9 514.4v8M1617.2 518.9h8M1621.2 514.9v8M1617.5 519.4h8M1621.5 515.4v8M1618.7 521.5h8M1622.7 517.5v8M1619.2 522.2h8M1623.2 518.2v8M1619.4 522.5h8M1623.4 518.5v8M1619.9 523.2h8M1623.9 519.2v8M1620.8 524.3h8M1624.8 520.3v8M1620.8 524.4h8M1624.8 520.4v8M1623.5 527.9h8M1627.5 523.9v8M1623.5 527.9h8M1627.5 523.9v8M1624.5 529.2h8M1628.5 525.2v8M1625.8 531h8M1629.8 527v8M1625.8 531h8M1629.8 527v8M1627 532.2h8M1631 528.2v8M1627.3 532.5h8M1631.3 528.5v8M1627.9 533.1h8M1631.9 529.1v8M1627.9 533.1h8M1631.9 529.1v8M1628 533.2h8M1632 529.2v8M1628.1 533.3h8M1632.1 529.3v8M1630.3 535.6h8M1634.3 531.6v8M1630.5 535.7h8M1634.5 531.7v8M1631.5 536.8h8M1635.5 532.8v8M1633.4 538.7h8M1637.4 534.7v8M1635.5 540.8h8M1639.5 536.8v8M1635.8 541.1h8M1639.8 537.1v8M1636.1 541.5h8M1640.1 537.5v8M1636.6 542.1h8M1640.6 538.1v8M1637.7 543.3h8M1641.7 539.3v8M1637.8 543.4h8M1641.8 539.4v8M1638.8 544.5h8M1642.8 540.5v8M1639.9 545.8h8M1643.9 541.8v8M1641.3 547.3h8M1645.3 543.3v8M1641.4 547.4h8M1645.4 543.4v8M1643.5 549.7h8M1647.5 545.7v8M1643.5 549.8h8M1647.5 545.8v8M1643.8 550.1h8M1647.8 546.1v8M1644.5 550.9h8M1648.5 546.9v8M1646.3 552.5h8M1650.3 548.5v8M1646.6 552.8h8M1650.6 548.8v8M1648.5 554.4h8M1652.5 550.4v8M1649 554.9h8M1653 550.9v8M1649.3 555.2h8M1653.3 551.2v8M1649.6 555.4h8M1653.6 551.4v8M1649.7 555.5h8M1653.7 551.5v8M1649.8 555.6h8M1653.8 551.6v8M1649.9 555.7h8M1653.9 551.7v8M1650.7 556.4h8M1654.7 552.4v8M1654.9 559.9h8M1658.9 555.9v8M1655 560h8M1659 556v8M1655 560h8M1659 556v8M1658.1 561.9h8M1662.1 557.9v8M1658.7 562.3h8M1662.7 558.3v8M1659.1 562.5h8M1663.1 558.5v8M1659.2 562.6h8M1663.2 558.6v8M1659.9 563h8M1663.9 559v8M1661.2 563.8h8M1665.2 559.8v8M1661.6 564.1h8M1665.6 560.1v8M1662 564.3h8M1666 560.3v8M1662 564.4h8M1666 560.4v8M1663.8 565.5h8M1667.8 561.5v8M1663.8 565.5h8M1667.8 561.5v8M1664.3 565.9h8M1668.3 561.9v8M1665.6 566.9h8M1669.6 562.9v8M1665.7 566.9h8M1669.7 562.9v8M1666.7 567.7h8M1670.7 563.7v8M1668.8 569.3h8M1672.8 565.3v8M1669.6 569.8h8M1673.6 565.8v8M1670.7 570.7h8M1674.7 566.7v8M1670.8 570.7h8M1674.8 566.7v8M1671.2 571h8M1675.2 567v8M1671.3 571.1h8M1675.3 567.1v8M1672.6 572.1h8M1676.6 568.1v8M1672.9 572.3h8M1676.9 568.3v8M1673.3 572.7h8M1677.3 568.7v8M1678.5 577.3h8M1682.5 573.3v8M1679.9 578.5h8M1683.9 574.5v8M1682.6 580.8h8M1686.6 576.8v8M1683 581.2h8M1687 577.2v8M1683.5 581.6h8M1687.5 577.6v8M1684.5 582.4h8M1688.5 578.4v8M1684.9 582.8h8M1688.9 578.8v8M1685.2 583.1h8M1689.2 579.1v8M1685.6 583.4h8M1689.6 579.4v8M1685.7 583.5h8M1689.7 579.5v8M1686 583.8h8M1690 579.8v8M1689.2 586.6h8M1693.2 582.6v8M1691.5 588.6h8M1695.5 584.6v8M1692.2 589.2h8M1696.2 585.2v8M1692.7 589.6h8M1696.7 585.6v8M1693 589.8h8M1697 585.8v8M1693.1 589.9h8M1697.1 585.9v8M1693.3 590h8M1697.3 586v8M1694.4 590.9h8M1698.4 586.9v8M1695.9 592h8M1699.9 588v8M1696.2 592.2h8M1700.2 588.2v8M1697.3 593h8M1701.3 589v8M1698.4 593.9h8M1702.4 589.9v8M1699.2 594.5h8M1703.2 590.5v8M1700 595.1h8M1704 591.1v8M1701.1 595.9h8M1705.1 591.9v8M1701.4 596.1h8M1705.4 592.1v8M1702.3 596.5h8M1706.3 592.5v8M1702.5 596.6h8M1706.5 592.6v8M1703 596.8h8M1707 592.8v8M1704 597.2h8M1708 593.2v8M1704.9 597.5h8M1708.9 593.5v8M1705.1 597.6h8M1709.1 593.6v8M1707.2 598.5h8M1711.2 594.5v8M1708 598.8h8M1712 594.8v8M1708.6 599h8M1712.6 595v8M1708.6 599h8M1712.6 595v8M1709.2 599.3h8M1713.2 595.3v8M1709.4 599.3h8M1713.4 595.3v8M1710.2 599.7h8M1714.2 595.7v8M1710.6 599.8h8M1714.6 595.8v8M1711.9 600.3h8M1715.9 596.3v8M1712.6 600.6h8M1716.6 596.6v8M1713.8 601.1h8M1717.8 597.1v8M1714.1 601.2h8M1718.1 597.2v8M1714.8 601.5h8M1718.8 597.5v8M1715.8 601.9h8M1719.8 597.9v8M1717 602.4h8M1721 598.4v8M1717.4 602.5h8M1721.4 598.5v8M1718.7 603h8M1722.7 599v8M1720.9 603.9h8M1724.9 599.9v8M1722.2 604.4h8M1726.2 600.4v8M1726.3 605.9h8M1730.3 601.9v8M1729.8 607h8M1733.8 603v8M1730.6 607.2h8M1734.6 603.2v8M1731.4 607.5h8M1735.4 603.5v8M1731.6 607.6h8M1735.6 603.6v8M1733.6 608.2h8M1737.6 604.2v8M1736.6 609.1h8M1740.6 605.1v8M1737.4 609.3h8M1741.4 605.3v8M1738.7 609.5h8M1742.7 605.5v8M1740.1 609.8h8M1744.1 605.8v8M1741.5 610.1h8M1745.5 606.1v8M1741.7 610.1h8M1745.7 606.1v8M1743.4 610.4h8M1747.4 606.4v8M1744.3 610.6h8M1748.3 606.6v8M1745.5 610.9h8M1749.5 606.9v8M1746.1 611h8M1750.1 607v8M1747.2 611.2h8M1751.2 607.2v8M1748.8 611.5h8M1752.8 607.5v8M1750.9 611.6h8M1754.9 607.6v8M1753.4 611.8h8M1757.4 607.8v8M1753.5 611.8h8M1757.5 607.8v8M1753.8 611.8h8M1757.8 607.8v8M1755 611.9h8M1759 607.9v8M1757.1 612h8M1761.1 608v8M1757.6 612h8M1761.6 608v8M1759.9 612.2h8M1763.9 608.2v8M1761.9 612.3h8M1765.9 608.3v8M1762 612.3h8M1766 608.3v8M1763.3 612.4h8M1767.3 608.4v8M1763.8 612.4h8M1767.8 608.4v8M1763.9 612.4h8M1767.9 608.4v8M1764.2 612.4h8M1768.2 608.4v8M1764.9 612.4h8M1768.9 608.4v8M1778.2 627h8M1782.2 623v8M1786.8 627h8M1790.8 623v8M1790.5 627h8M1794.5 623v8M1794.3 627h8M1798.3 623v8M1798 627h8M1802 623v8M1800.4 638.1h8M1804.4 634.1v8M1814.5 638.1h8M1818.5 634.1v8M1815.8 638.1h8M1819.8 634.1v8M1827.6 651.2h8M1831.6 647.2v8M1840.7 651.2h8M1844.7 647.2v8M1848.2 651.2h8M1852.2 647.2v8M1851.9 651.2h8M1855.9 647.2v8M1855.6 651.2h8M1859.6 647.2v8M1863 651.2h8M1867 647.2v8M1864 651.2h8M1868 647.2v8M1878.8 651.2h8M1882.8 647.2v8M1882 651.2h8M1886 647.2v8M1898.6 651.2h8M1902.6 647.2v8M1983.4 651.2h8M1987.4 647.2v8" fill="none" stroke="#ee1111" stroke-width="1.4"/>
<path d="M1558.6 438.2H1559.8V441.7H1560.8V444.6H1562.3V449.2H1563.4V452.5H1564.3V455.6H1565.8V460.9H1568.3V468.2H1570.5V474.2H1572.7V480.8H1573.9V485.2H1575.7V491.8H1577V498.6H1578.1V503.8H1579.1V507.2H1580.3V511.2H1582.7V517H1585V522.8H1587.3V528.7H1589.5V534.4H1590.7V537.3H1592V540.7H1594V544.9H1596.1V549.6H1598.4V553.5H1600.8V556.8H1601.8V558.2H1603.6V560.8H1605.7V563.7H1607.4V566.1H1608.5V567.6H1610.1V569.6H1611.1V570.7H1613.6V573.6H1615.9V576.4H1617.7V578.8H1619.1V580.6H1621.5V583.8H1623.3V586.1H1625.7V589H1628V591.8H1629.8V593.9H1631.3V596.5H1633.2V599.9H1634.8V602.8H1635.8V604.7H1637.2V607H1639.5V608.8H1640.3V609.5H1641.2V610.2H1643.1V611.7H1644.5V612.7H1646.2V614H1647.9V615.1H1649.3V616.1H1651.9V617.9H1653V618.7H1654.6V619.7H1655.7V620.5H1657.7V621.9H1659V622.5H1660.4V623.2H1662.6V624.2H1663.9V624.8H1665.7V625.6H1668.2V626.7H1669.1V627.2H1670.1V627.6H1671.3V628.1H1673.4V629.2H1675.4V630.1H1676.6V630.7H1678V631.4H1679.1V632H1680.7V633H1681.6V633.5H1683.7V634.8H1686.1V636.2H1688.6V637.7H1690.7V639H1693.2V640.5H1694.1V641H1695.4V641.8H1697.9V643.3H1700.1V644.6H1701.7V645.6H1704.2V647.1H1706.1V648.2H1708.4V649.7H1709.7V650.7H1710.8V651.5H1712.4V652.6H1713.5V653.3H1715V654.4H1717.5V656.2H1718.9V657.1H1719.7V657.7H1720.6V658.3H1721.7V658.9H1723.9V660H1725.4V660.8H1726.7V661.4H1727.6V661.9H1730.2V663.2H1731.8V664H1733V664.6H1733.9V665H1734.8V665.5H1735.9V666.2H1737.9V667.7H1739V668.4H1739.8V669H1741.5V670.2H1742.8V671.1H1745.4V672.9H1746.4V673.6H1748.1V674.8H1750.3V676.5H1751.9V677.7H1754.4V679.8H1756.1V681.1H1757.3V682.1H1758.9V683.3H1759.7V684H1761.3V685.2H1762.5V686.2H1764.9V687.2H1767.2V688H1768.9V688.6H1769.8V688.9H1771V689.3H1772.3V689.7H1773.5V690.2H1774.7V690.6H1777V691.5H1778.1V692.1H1779V692.7H1781.5V694.2H1783.3V695.2H1785.9V696.8H1787.4V697.7H1789.8V699.2H1791.8V700.2H1794V701.4H1796.1V702.4H1797.8V703.3H1798.8V703.8H1800V704.3H1802.4V705.5H1804.8V706.7H1807.2V708.1H1808.2V708.6H1876.2V708.6H1876.2V717.2H1881.1V717.2H1881.1V735.3H1968.9V735.3H1968.9V797.6" fill="none" stroke="#000" stroke-width="1.3"/>
<path d="M1555.5 440.8h8M1559.5 436.8v8M1557.5 446.6h8M1561.5 442.6v8M1560 454.5h8M1564 450.5v8M1562.5 462.9h8M1566.5 458.9v8M1565 470.1h8M1569 466.1v8M1570 485.5h8M1574 481.5v8M1574 503.5h8M1578 499.5v8M1575.5 508.6h8M1579.5 504.6v8M1577.5 514.1h8M1581.5 510.1v8M1580 520.1h8M1584 516.1v8M1583 528h8M1587 524v8M1587.5 539.4h8M1591.5 535.4v8M1590.3 545.6h8M1594.3 541.6v8M1591.3 548h8M1595.3 544v8M1591.8 549.1h8M1595.8 545.1v8M1591.8 549.1h8M1595.8 545.1v8M1593.6 552.3h8M1597.6 548.3v8M1594.6 553.7h8M1598.6 549.7v8M1596.9 556.9h8M1600.9 552.9v8M1597.5 557.7h8M1601.5 553.7v8M1599.3 560.3h8M1603.3 556.3v8M1599.7 560.9h8M1603.7 556.9v8M1601.7 563.7h8M1605.7 559.7v8M1603.3 566h8M1607.3 562v8M1604 567h8M1608 563v8M1605 568.2h8M1609 564.2v8M1606.4 569.9h8M1610.4 565.9v8M1606.7 570.2h8M1610.7 566.2v8M1607.7 571.4h8M1611.7 567.4v8M1609.7 573.8h8M1613.7 569.8v8M1610.1 574.3h8M1614.1 570.3v8M1612.2 576.7h8M1616.2 572.7v8M1613.6 578.6h8M1617.6 574.6v8M1615.9 581.7h8M1619.9 577.7v8M1616.4 582.4h8M1620.4 578.4v8M1616.6 582.5h8M1620.6 578.5v8M1618.6 585.2h8M1622.6 581.2v8M1620.6 587.7h8M1624.6 583.7v8M1621.4 588.6h8M1625.4 584.6v8M1621.5 588.7h8M1625.5 584.7v8M1621.7 589.1h8M1625.7 585.1v8M1623 590.6h8M1627 586.6v8M1623.4 591.1h8M1627.4 587.1v8M1627.2 596.4h8M1631.2 592.4v8M1628.3 598.4h8M1632.3 594.4v8M1628.6 598.9h8M1632.6 594.9v8M1629.9 601.3h8M1633.9 597.3v8M1630.5 602.3h8M1634.5 598.3v8M1633.9 607.5h8M1637.9 603.5v8M1636.9 609.9h8M1640.9 605.9v8M1637.8 610.6h8M1641.8 606.6v8M1639.1 611.7h8M1643.1 607.7v8M1640.6 612.8h8M1644.6 608.8v8M1642.6 614.2h8M1646.6 610.2v8M1647.3 617.5h8M1651.3 613.5v8M1647.3 617.5h8M1651.3 613.5v8M1647.9 617.9h8M1651.9 613.9v8M1649 618.7h8M1653 614.7v8M1649.5 619h8M1653.5 615v8M1650.6 619.8h8M1654.6 615.8v8M1650.7 619.9h8M1654.7 615.9v8M1653.4 621.7h8M1657.4 617.7v8M1654.3 622.2h8M1658.3 618.2v8M1654.5 622.3h8M1658.5 618.3v8M1655.8 622.9h8M1659.8 618.9v8M1656.3 623.1h8M1660.3 619.1v8M1656.6 623.3h8M1660.6 619.3v8M1657.4 623.6h8M1661.4 619.6v8M1657.6 623.7h8M1661.6 619.7v8M1657.9 623.9h8M1661.9 619.9v8M1660.4 625h8M1664.4 621v8M1661.9 625.7h8M1665.9 621.7v8M1661.9 625.7h8M1665.9 621.7v8M1663.8 626.5h8M1667.8 622.5v8M1663.8 626.5h8M1667.8 622.5v8M1664.3 626.8h8M1668.3 622.8v8M1667.2 628.1h8M1671.2 624.1v8M1668.4 628.7h8M1672.4 624.7v8M1668.9 628.9h8M1672.9 624.9v8M1669.5 629.2h8M1673.5 625.2v8M1670.1 629.5h8M1674.1 625.5v8M1670.3 629.6h8M1674.3 625.6v8M1681.6 635.9h8M1685.6 631.9v8M1681.6 635.9h8M1685.6 631.9v8M1682.3 636.3h8M1686.3 632.3v8M1684 637.4h8M1688 633.4v8M1684.7 637.8h8M1688.7 633.8v8M1689.6 640.7h8M1693.6 636.7v8M1690 640.9h8M1694 636.9v8M1694.8 643.8h8M1698.8 639.8v8M1697.6 645.5h8M1701.6 641.5v8M1698.9 646.3h8M1702.9 642.3v8M1701.4 647.8h8M1705.4 643.8v8M1702.1 648.2h8M1706.1 644.2v8M1704.1 649.6h8M1708.1 645.6v8M1706 650.9h8M1710 646.9v8M1706.8 651.4h8M1710.8 647.4v8M1707.5 652h8M1711.5 648v8M1708.9 653h8M1712.9 649v8M1709.5 653.4h8M1713.5 649.4v8M1709.6 653.5h8M1713.6 649.5v8M1711.2 654.6h8M1715.2 650.6v8M1711.6 654.8h8M1715.6 650.8v8M1712.3 655.4h8M1716.3 651.4v8M1714.1 656.6h8M1718.1 652.6v8M1714.3 656.8h8M1718.3 652.8v8M1714.3 656.8h8M1718.3 652.8v8M1714.5 656.9h8M1718.5 652.9v8M1715.5 657.6h8M1719.5 653.6v8M1716 658h8M1720 654v8M1716.4 658.2h8M1720.4 654.2v8M1717.1 658.6h8M1721.1 654.6v8M1720.1 660.1h8M1724.1 656.1v8M1720.4 660.3h8M1724.4 656.3v8M1721 660.6h8M1725 656.6v8M1723.5 661.8h8M1727.5 657.8v8M1724.6 662.4h8M1728.6 658.4v8M1724.9 662.6h8M1728.9 658.6v8M1725.7 662.9h8M1729.7 658.9v8M1726.4 663.3h8M1730.4 659.3v8M1726.6 663.4h8M1730.6 659.4v8M1727.1 663.7h8M1731.1 659.7v8M1727.5 663.9h8M1731.5 659.9v8M1729.4 664.8h8M1733.4 660.8v8M1729.9 665h8M1733.9 661v8M1731.1 665.7h8M1735.1 661.7v8M1735.2 668.6h8M1739.2 664.6v8M1738.1 670.6h8M1742.1 666.6v8M1738.7 671h8M1742.7 667v8M1739.7 671.7h8M1743.7 667.7v8M1740.2 672.1h8M1744.2 668.1v8M1740.8 672.5h8M1744.8 668.5v8M1741.5 673h8M1745.5 669v8M1743.3 674.3h8M1747.3 670.3v8M1746.5 676.7h8M1750.5 672.7v8M1746.9 677h8M1750.9 673v8M1746.9 677h8M1750.9 673v8M1747.6 677.5h8M1751.6 673.5v8M1747.7 677.6h8M1751.7 673.6v8M1747.7 677.6h8M1751.7 673.6v8M1749.4 679h8M1753.4 675v8M1749.5 679.1h8M1753.5 675.1v8M1751 680.2h8M1755 676.2v8M1751.5 680.6h8M1755.5 676.6v8M1754.7 683.2h8M1758.7 679.2v8M1756.9 684.9h8M1760.9 680.9v8M1757 685h8M1761 681v8M1757.3 685.2h8M1761.3 681.2v8M1760.6 687h8M1764.6 683v8M1761.7 687.4h8M1765.7 683.4v8M1762.4 687.7h8M1766.4 683.7v8M1764.1 688.3h8M1768.1 684.3v8M1766.1 689h8M1770.1 685v8M1766.8 689.2h8M1770.8 685.2v8M1767.6 689.5h8M1771.6 685.5v8M1767.7 689.5h8M1771.7 685.5v8M1768.2 689.7h8M1772.2 685.7v8M1768.4 689.8h8M1772.4 685.8v8M1769.5 690.2h8M1773.5 686.2v8M1770.6 690.6h8M1774.6 686.6v8M1770.8 690.6h8M1774.8 686.6v8M1771.9 691h8M1775.9 687v8M1772 691.1h8M1776 687.1v8M1772.1 691.1h8M1776.1 687.1v8M1773.3 691.7h8M1777.3 687.7v8M1774 692.1h8M1778 688.1v8M1776.7 693.7h8M1780.7 689.7v8M1777.8 694.4h8M1781.8 690.4v8M1779.2 695.2h8M1783.2 691.2v8M1779.4 695.3h8M1783.4 691.3v8M1781.4 696.5h8M1785.4 692.5v8M1781.5 696.6h8M1785.5 692.6v8M1782.6 697.3h8M1786.6 693.3v8M1785.4 698.9h8M1789.4 694.9v8M1788.2 700.4h8M1792.2 696.4v8M1790.7 701.7h8M1794.7 697.7v8M1791.4 702.1h8M1795.4 698.1v8M1792.8 702.7h8M1796.8 698.7v8M1794.6 703.6h8M1798.6 699.6v8M1794.8 703.7h8M1798.8 699.7v8M1798.1 705.4h8M1802.1 701.4v8M1800.8 706.8h8M1804.8 702.8v8M1801.5 707.1h8M1805.5 703.1v8M1803.2 708.1h8M1807.2 704.1v8M1803.9 708.4h8M1807.9 704.4v8M1802.2 708.6h8M1806.2 704.6v8M1805.4 708.6h8M1809.4 704.6v8M1807.9 708.6h8M1811.9 704.6v8M1810.3 708.6h8M1814.3 704.6v8M1825.9 710.3h8M1829.9 706.3v8M1827.6 710.3h8M1831.6 706.3v8M1831.4 710.3h8M1835.4 706.3v8M1835.8 710.3h8M1839.8 706.3v8M1837.5 710.3h8M1841.5 706.3v8M1840 710.3h8M1844 706.3v8M1845 710.3h8M1849 706.3v8M1848.2 710.3h8M1852.2 706.3v8M1851.9 710.3h8M1855.9 706.3v8M1865.5 710.3h8M1869.5 706.3v8M1867.2 710.3h8M1871.2 706.3v8M1869.7 717.2h8M1873.7 713.2v8M1872.2 720.5h8M1876.2 716.5v8M1879.6 735.3h8M1883.6 731.3v8M1883.3 735.3h8M1887.3 731.3v8M1887 735.3h8M1891 731.3v8M1890.7 735.3h8M1894.7 731.3v8M1894.4 735.3h8M1898.4 731.3v8M1898.1 735.3h8M1902.1 731.3v8M1901.8 735.3h8M1905.8 731.3v8M1908 735.3h8M1912 731.3v8M1914.2 735.3h8M1918.2 731.3v8M1936.4 735.3h8M1940.4 731.3v8M1947.1 735.3h8M1951.1 731.3v8M1952.5 735.3h8M1956.5 731.3v8" fill="none" stroke="#000" stroke-width="1.3"/>
</svg>
</body></html>
